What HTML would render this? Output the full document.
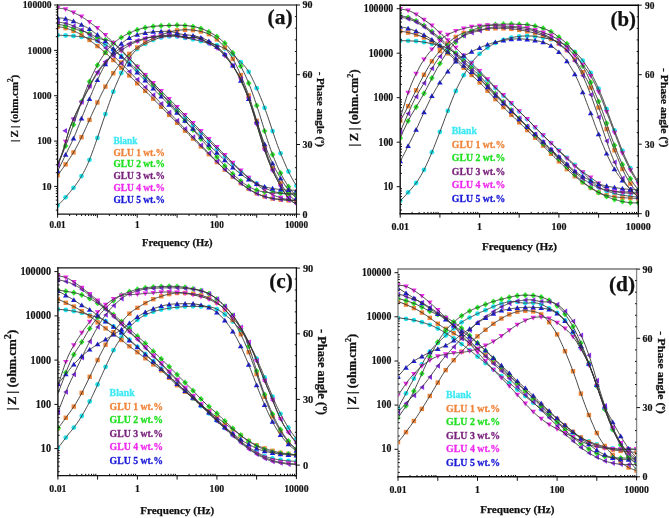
<!DOCTYPE html><html><head><meta charset="utf-8"><style>html,body{margin:0;padding:0;background:#fff;overflow:hidden}svg{display:block;-webkit-font-smoothing:antialiased;will-change:transform}</style></head><body>
<svg width="669" height="518" viewBox="0 0 669 518" font-family='"Liberation Serif", serif' font-weight="bold" fill="#111" stroke-linejoin="round"><defs><clipPath id="clipa"><rect x="57.6" y="5" width="238.9" height="209.2"/></clipPath><clipPath id="clipb"><rect x="400.2" y="5.2" width="238.1" height="208.5"/></clipPath><clipPath id="clipc"><rect x="57.9" y="267.9" width="238.5" height="207.7"/></clipPath><clipPath id="clipd"><rect x="398" y="269" width="238.6" height="207.8"/></clipPath></defs><rect width="669" height="518" fill="#fff"/>
<g clip-path="url(#clipa)">
<circle cx="57.6" cy="35.2" r="2.4" fill="#22e6f0"/>
<circle cx="65.6" cy="35.5" r="2.4" fill="#22e6f0"/>
<circle cx="73.5" cy="36" r="2.4" fill="#22e6f0"/>
<circle cx="81.5" cy="36.9" r="2.4" fill="#22e6f0"/>
<circle cx="89.5" cy="38.4" r="2.4" fill="#22e6f0"/>
<circle cx="97.4" cy="40.9" r="2.4" fill="#22e6f0"/>
<circle cx="105.4" cy="44.7" r="2.4" fill="#22e6f0"/>
<circle cx="113.3" cy="49.8" r="2.4" fill="#22e6f0"/>
<circle cx="121.3" cy="56" r="2.4" fill="#22e6f0"/>
<circle cx="129.3" cy="62.9" r="2.4" fill="#22e6f0"/>
<circle cx="137.2" cy="70.3" r="2.4" fill="#22e6f0"/>
<circle cx="145.2" cy="77.9" r="2.4" fill="#22e6f0"/>
<circle cx="153.2" cy="85.7" r="2.4" fill="#22e6f0"/>
<circle cx="161.1" cy="93.5" r="2.4" fill="#22e6f0"/>
<circle cx="169.1" cy="101.4" r="2.4" fill="#22e6f0"/>
<circle cx="177.1" cy="109.3" r="2.4" fill="#22e6f0"/>
<circle cx="185" cy="117.3" r="2.4" fill="#22e6f0"/>
<circle cx="193" cy="125.2" r="2.4" fill="#22e6f0"/>
<circle cx="200.9" cy="133.1" r="2.4" fill="#22e6f0"/>
<circle cx="208.9" cy="141" r="2.4" fill="#22e6f0"/>
<circle cx="216.9" cy="148.8" r="2.4" fill="#22e6f0"/>
<circle cx="224.8" cy="156.6" r="2.4" fill="#22e6f0"/>
<circle cx="232.8" cy="164.1" r="2.4" fill="#22e6f0"/>
<circle cx="240.8" cy="171.2" r="2.4" fill="#22e6f0"/>
<circle cx="248.7" cy="177.8" r="2.4" fill="#22e6f0"/>
<circle cx="256.7" cy="183.5" r="2.4" fill="#22e6f0"/>
<circle cx="264.6" cy="188" r="2.4" fill="#22e6f0"/>
<circle cx="272.6" cy="191.1" r="2.4" fill="#22e6f0"/>
<circle cx="280.6" cy="193.1" r="2.4" fill="#22e6f0"/>
<circle cx="288.5" cy="194.3" r="2.4" fill="#22e6f0"/>
<circle cx="296.5" cy="194.9" r="2.4" fill="#22e6f0"/>
<circle cx="57.6" cy="205.5" r="2.4" fill="#22e6f0"/>
<circle cx="65.6" cy="197.3" r="2.4" fill="#22e6f0"/>
<circle cx="73.5" cy="187.8" r="2.4" fill="#22e6f0"/>
<circle cx="81.5" cy="176.1" r="2.4" fill="#22e6f0"/>
<circle cx="89.5" cy="159.8" r="2.4" fill="#22e6f0"/>
<circle cx="97.4" cy="137.9" r="2.4" fill="#22e6f0"/>
<circle cx="105.4" cy="114.1" r="2.4" fill="#22e6f0"/>
<circle cx="113.3" cy="91.7" r="2.4" fill="#22e6f0"/>
<circle cx="121.3" cy="73" r="2.4" fill="#22e6f0"/>
<circle cx="129.3" cy="58.4" r="2.4" fill="#22e6f0"/>
<circle cx="137.2" cy="49.1" r="2.4" fill="#22e6f0"/>
<circle cx="145.2" cy="43.9" r="2.4" fill="#22e6f0"/>
<circle cx="153.2" cy="40.1" r="2.4" fill="#22e6f0"/>
<circle cx="161.1" cy="37.5" r="2.4" fill="#22e6f0"/>
<circle cx="169.1" cy="36.4" r="2.4" fill="#22e6f0"/>
<circle cx="177.1" cy="36.5" r="2.4" fill="#22e6f0"/>
<circle cx="185" cy="37.9" r="2.4" fill="#22e6f0"/>
<circle cx="193" cy="39.3" r="2.4" fill="#22e6f0"/>
<circle cx="200.9" cy="41.2" r="2.4" fill="#22e6f0"/>
<circle cx="208.9" cy="43.3" r="2.4" fill="#22e6f0"/>
<circle cx="216.9" cy="45.1" r="2.4" fill="#22e6f0"/>
<circle cx="224.8" cy="48.6" r="2.4" fill="#22e6f0"/>
<circle cx="232.8" cy="54.4" r="2.4" fill="#22e6f0"/>
<circle cx="240.8" cy="62.2" r="2.4" fill="#22e6f0"/>
<circle cx="248.7" cy="71.8" r="2.4" fill="#22e6f0"/>
<circle cx="256.7" cy="88.2" r="2.4" fill="#22e6f0"/>
<circle cx="264.6" cy="107.8" r="2.4" fill="#22e6f0"/>
<circle cx="272.6" cy="131.1" r="2.4" fill="#22e6f0"/>
<circle cx="280.6" cy="153.3" r="2.4" fill="#22e6f0"/>
<circle cx="288.5" cy="171.5" r="2.4" fill="#22e6f0"/>
<circle cx="296.5" cy="185.7" r="2.4" fill="#22e6f0"/>
<rect x="55.4" y="24.5" width="4.4" height="4.4" fill="#f0863a"/>
<rect x="63.4" y="25.9" width="4.4" height="4.4" fill="#f0863a"/>
<rect x="71.3" y="28.6" width="4.4" height="4.4" fill="#f0863a"/>
<rect x="79.3" y="32.6" width="4.4" height="4.4" fill="#f0863a"/>
<rect x="87.3" y="37.8" width="4.4" height="4.4" fill="#f0863a"/>
<rect x="95.2" y="43.9" width="4.4" height="4.4" fill="#f0863a"/>
<rect x="103.2" y="50.6" width="4.4" height="4.4" fill="#f0863a"/>
<rect x="111.1" y="57.9" width="4.4" height="4.4" fill="#f0863a"/>
<rect x="119.1" y="65.5" width="4.4" height="4.4" fill="#f0863a"/>
<rect x="127.1" y="73.3" width="4.4" height="4.4" fill="#f0863a"/>
<rect x="135" y="81.1" width="4.4" height="4.4" fill="#f0863a"/>
<rect x="143" y="88.7" width="4.4" height="4.4" fill="#f0863a"/>
<rect x="151" y="96.5" width="4.4" height="4.4" fill="#f0863a"/>
<rect x="158.9" y="104.6" width="4.4" height="4.4" fill="#f0863a"/>
<rect x="166.9" y="112.7" width="4.4" height="4.4" fill="#f0863a"/>
<rect x="174.9" y="120.6" width="4.4" height="4.4" fill="#f0863a"/>
<rect x="182.8" y="128.5" width="4.4" height="4.4" fill="#f0863a"/>
<rect x="190.8" y="136.4" width="4.4" height="4.4" fill="#f0863a"/>
<rect x="198.7" y="144.2" width="4.4" height="4.4" fill="#f0863a"/>
<rect x="206.7" y="152" width="4.4" height="4.4" fill="#f0863a"/>
<rect x="214.7" y="159.9" width="4.4" height="4.4" fill="#f0863a"/>
<rect x="222.6" y="167.5" width="4.4" height="4.4" fill="#f0863a"/>
<rect x="230.6" y="174.5" width="4.4" height="4.4" fill="#f0863a"/>
<rect x="238.6" y="181" width="4.4" height="4.4" fill="#f0863a"/>
<rect x="246.5" y="186.7" width="4.4" height="4.4" fill="#f0863a"/>
<rect x="254.5" y="191.2" width="4.4" height="4.4" fill="#f0863a"/>
<rect x="262.4" y="194.3" width="4.4" height="4.4" fill="#f0863a"/>
<rect x="270.4" y="196.4" width="4.4" height="4.4" fill="#f0863a"/>
<rect x="278.4" y="197.5" width="4.4" height="4.4" fill="#f0863a"/>
<rect x="286.3" y="198.2" width="4.4" height="4.4" fill="#f0863a"/>
<rect x="294.3" y="198.6" width="4.4" height="4.4" fill="#f0863a"/>
<rect x="55.4" y="173" width="4.4" height="4.4" fill="#f0863a"/>
<rect x="63.4" y="162.2" width="4.4" height="4.4" fill="#f0863a"/>
<rect x="71.3" y="150.2" width="4.4" height="4.4" fill="#f0863a"/>
<rect x="79.3" y="135" width="4.4" height="4.4" fill="#f0863a"/>
<rect x="87.3" y="117.7" width="4.4" height="4.4" fill="#f0863a"/>
<rect x="95.2" y="100.3" width="4.4" height="4.4" fill="#f0863a"/>
<rect x="103.2" y="84.4" width="4.4" height="4.4" fill="#f0863a"/>
<rect x="111.1" y="71" width="4.4" height="4.4" fill="#f0863a"/>
<rect x="119.1" y="60.3" width="4.4" height="4.4" fill="#f0863a"/>
<rect x="127.1" y="51.7" width="4.4" height="4.4" fill="#f0863a"/>
<rect x="135" y="45.3" width="4.4" height="4.4" fill="#f0863a"/>
<rect x="143" y="40.1" width="4.4" height="4.4" fill="#f0863a"/>
<rect x="151" y="36.1" width="4.4" height="4.4" fill="#f0863a"/>
<rect x="158.9" y="33" width="4.4" height="4.4" fill="#f0863a"/>
<rect x="166.9" y="29.8" width="4.4" height="4.4" fill="#f0863a"/>
<rect x="174.9" y="28.3" width="4.4" height="4.4" fill="#f0863a"/>
<rect x="182.8" y="27.6" width="4.4" height="4.4" fill="#f0863a"/>
<rect x="190.8" y="27.9" width="4.4" height="4.4" fill="#f0863a"/>
<rect x="198.7" y="29.3" width="4.4" height="4.4" fill="#f0863a"/>
<rect x="206.7" y="32" width="4.4" height="4.4" fill="#f0863a"/>
<rect x="214.7" y="37.2" width="4.4" height="4.4" fill="#f0863a"/>
<rect x="222.6" y="45.3" width="4.4" height="4.4" fill="#f0863a"/>
<rect x="230.6" y="56.7" width="4.4" height="4.4" fill="#f0863a"/>
<rect x="238.6" y="72.9" width="4.4" height="4.4" fill="#f0863a"/>
<rect x="246.5" y="93.2" width="4.4" height="4.4" fill="#f0863a"/>
<rect x="254.5" y="118.7" width="4.4" height="4.4" fill="#f0863a"/>
<rect x="262.4" y="145.1" width="4.4" height="4.4" fill="#f0863a"/>
<rect x="270.4" y="165.9" width="4.4" height="4.4" fill="#f0863a"/>
<rect x="278.4" y="181.1" width="4.4" height="4.4" fill="#f0863a"/>
<rect x="286.3" y="192.1" width="4.4" height="4.4" fill="#f0863a"/>
<rect x="294.3" y="198.9" width="4.4" height="4.4" fill="#f0863a"/>
<polygon points="57.6,21.2 60.4,24.3 57.6,27.4 54.8,24.3" fill="#2ee62e"/>
<polygon points="65.6,22.7 68.4,25.8 65.6,28.9 62.8,25.8" fill="#2ee62e"/>
<polygon points="73.5,25.2 76.3,28.3 73.5,31.4 70.7,28.3" fill="#2ee62e"/>
<polygon points="81.5,27.7 84.3,30.8 81.5,33.9 78.7,30.8" fill="#2ee62e"/>
<polygon points="89.5,30.5 92.3,33.6 89.5,36.7 86.7,33.6" fill="#2ee62e"/>
<polygon points="97.4,34.5 100.2,37.6 97.4,40.7 94.6,37.6" fill="#2ee62e"/>
<polygon points="105.4,36.7 108.2,39.8 105.4,42.9 102.6,39.8" fill="#2ee62e"/>
<polygon points="113.3,39.9 116.1,43 113.3,46.1 110.5,43" fill="#2ee62e"/>
<polygon points="121.3,46.7 124.1,49.8 121.3,52.9 118.5,49.8" fill="#2ee62e"/>
<polygon points="129.3,55.1 132.1,58.2 129.3,61.3 126.5,58.2" fill="#2ee62e"/>
<polygon points="137.2,63.6 140,66.7 137.2,69.8 134.4,66.7" fill="#2ee62e"/>
<polygon points="145.2,72.4 148,75.5 145.2,78.6 142.4,75.5" fill="#2ee62e"/>
<polygon points="153.2,81.4 156,84.5 153.2,87.6 150.4,84.5" fill="#2ee62e"/>
<polygon points="161.1,90.4 163.9,93.5 161.1,96.6 158.3,93.5" fill="#2ee62e"/>
<polygon points="169.1,99.5 171.9,102.6 169.1,105.7 166.3,102.6" fill="#2ee62e"/>
<polygon points="177.1,108.5 179.9,111.6 177.1,114.7 174.2,111.6" fill="#2ee62e"/>
<polygon points="185,117.6 187.8,120.7 185,123.8 182.2,120.7" fill="#2ee62e"/>
<polygon points="193,126.7 195.8,129.8 193,132.9 190.2,129.8" fill="#2ee62e"/>
<polygon points="200.9,135.7 203.7,138.8 200.9,141.9 198.1,138.8" fill="#2ee62e"/>
<polygon points="208.9,144.7 211.7,147.8 208.9,150.9 206.1,147.8" fill="#2ee62e"/>
<polygon points="216.9,154 219.7,157.1 216.9,160.2 214.1,157.1" fill="#2ee62e"/>
<polygon points="224.8,162.8 227.6,165.9 224.8,169 222,165.9" fill="#2ee62e"/>
<polygon points="232.8,170.8 235.6,173.9 232.8,177 230,173.9" fill="#2ee62e"/>
<polygon points="240.8,177.9 243.6,181 240.8,184.1 238,181" fill="#2ee62e"/>
<polygon points="248.7,183.5 251.5,186.6 248.7,189.7 245.9,186.6" fill="#2ee62e"/>
<polygon points="256.7,187 259.5,190.1 256.7,193.2 253.9,190.1" fill="#2ee62e"/>
<polygon points="264.6,188.9 267.4,192 264.6,195.1 261.8,192" fill="#2ee62e"/>
<polygon points="272.6,189.8 275.4,192.9 272.6,196 269.8,192.9" fill="#2ee62e"/>
<polygon points="280.6,190.1 283.4,193.2 280.6,196.3 277.8,193.2" fill="#2ee62e"/>
<polygon points="288.5,190.2 291.3,193.3 288.5,196.4 285.7,193.3" fill="#2ee62e"/>
<polygon points="296.5,190.3 299.3,193.4 296.5,196.5 293.7,193.4" fill="#2ee62e"/>
<polygon points="57.6,160.9 60.4,164 57.6,167.1 54.8,164" fill="#2ee62e"/>
<polygon points="65.6,142.8 68.4,145.9 65.6,149 62.8,145.9" fill="#2ee62e"/>
<polygon points="73.5,121.6 76.3,124.7 73.5,127.8 70.7,124.7" fill="#2ee62e"/>
<polygon points="81.5,98.6 84.3,101.7 81.5,104.8 78.7,101.7" fill="#2ee62e"/>
<polygon points="89.5,78.4 92.3,81.5 89.5,84.6 86.7,81.5" fill="#2ee62e"/>
<polygon points="97.4,62.1 100.2,65.2 97.4,68.3 94.6,65.2" fill="#2ee62e"/>
<polygon points="105.4,49.4 108.2,52.5 105.4,55.6 102.6,52.5" fill="#2ee62e"/>
<polygon points="113.3,40.3 116.1,43.4 113.3,46.5 110.5,43.4" fill="#2ee62e"/>
<polygon points="121.3,34.4 124.1,37.5 121.3,40.6 118.5,37.5" fill="#2ee62e"/>
<polygon points="129.3,30 132.1,33.1 129.3,36.2 126.5,33.1" fill="#2ee62e"/>
<polygon points="137.2,26.8 140,29.9 137.2,33 134.4,29.9" fill="#2ee62e"/>
<polygon points="145.2,24.6 148,27.7 145.2,30.8 142.4,27.7" fill="#2ee62e"/>
<polygon points="153.2,23.3 156,26.4 153.2,29.5 150.4,26.4" fill="#2ee62e"/>
<polygon points="161.1,22.7 163.9,25.8 161.1,28.9 158.3,25.8" fill="#2ee62e"/>
<polygon points="169.1,22.4 171.9,25.5 169.1,28.6 166.3,25.5" fill="#2ee62e"/>
<polygon points="177.1,22.1 179.9,25.2 177.1,28.3 174.2,25.2" fill="#2ee62e"/>
<polygon points="185,22.4 187.8,25.5 185,28.6 182.2,25.5" fill="#2ee62e"/>
<polygon points="193,23.4 195.8,26.5 193,29.6 190.2,26.5" fill="#2ee62e"/>
<polygon points="200.9,25.4 203.7,28.5 200.9,31.6 198.1,28.5" fill="#2ee62e"/>
<polygon points="208.9,28.8 211.7,31.9 208.9,35 206.1,31.9" fill="#2ee62e"/>
<polygon points="216.9,33.5 219.7,36.6 216.9,39.7 214.1,36.6" fill="#2ee62e"/>
<polygon points="224.8,40.1 227.6,43.2 224.8,46.3 222,43.2" fill="#2ee62e"/>
<polygon points="232.8,49.7 235.6,52.8 232.8,55.9 230,52.8" fill="#2ee62e"/>
<polygon points="240.8,63.1 243.6,66.2 240.8,69.3 238,66.2" fill="#2ee62e"/>
<polygon points="248.7,80.1 251.5,83.2 248.7,86.3 245.9,83.2" fill="#2ee62e"/>
<polygon points="256.7,102.4 259.5,105.5 256.7,108.6 253.9,105.5" fill="#2ee62e"/>
<polygon points="264.6,127.9 267.4,131 264.6,134.1 261.8,131" fill="#2ee62e"/>
<polygon points="272.6,151.5 275.4,154.6 272.6,157.7 269.8,154.6" fill="#2ee62e"/>
<polygon points="280.6,170 283.4,173.1 280.6,176.2 277.8,173.1" fill="#2ee62e"/>
<polygon points="288.5,183.6 291.3,186.7 288.5,189.8 285.7,186.7" fill="#2ee62e"/>
<polygon points="296.5,192.7 299.3,195.8 296.5,198.9 293.7,195.8" fill="#2ee62e"/>
<polygon points="54.8,6.1 60.4,6.1 57.6,10.8" fill="#f02ef0"/>
<polygon points="62.8,7.2 68.4,7.2 65.6,11.9" fill="#f02ef0"/>
<polygon points="70.7,10.6 76.3,10.6 73.5,15.3" fill="#f02ef0"/>
<polygon points="78.7,14.6 84.3,14.6 81.5,19.3" fill="#f02ef0"/>
<polygon points="86.7,20 92.3,20 89.5,24.7" fill="#f02ef0"/>
<polygon points="94.6,26.1 100.2,26.1 97.4,30.8" fill="#f02ef0"/>
<polygon points="102.6,33.1 108.2,33.1 105.4,37.8" fill="#f02ef0"/>
<polygon points="110.5,40.8 116.1,40.8 113.3,45.5" fill="#f02ef0"/>
<polygon points="118.5,48.8 124.1,48.8 121.3,53.5" fill="#f02ef0"/>
<polygon points="126.5,56.7 132.1,56.7 129.3,61.4" fill="#f02ef0"/>
<polygon points="134.4,64.7 140,64.7 137.2,69.4" fill="#f02ef0"/>
<polygon points="142.4,72.9 148,72.9 145.2,77.6" fill="#f02ef0"/>
<polygon points="150.4,81.1 156,81.1 153.2,85.8" fill="#f02ef0"/>
<polygon points="158.3,89 163.9,89 161.1,93.7" fill="#f02ef0"/>
<polygon points="166.3,96.9 171.9,96.9 169.1,101.6" fill="#f02ef0"/>
<polygon points="174.2,104.9 179.9,104.9 177.1,109.6" fill="#f02ef0"/>
<polygon points="182.2,113 187.8,113 185,117.7" fill="#f02ef0"/>
<polygon points="190.2,121.1 195.8,121.1 193,125.8" fill="#f02ef0"/>
<polygon points="198.1,129.1 203.7,129.1 200.9,133.8" fill="#f02ef0"/>
<polygon points="206.1,137.1 211.7,137.1 208.9,141.8" fill="#f02ef0"/>
<polygon points="214.1,145 219.7,145 216.9,149.7" fill="#f02ef0"/>
<polygon points="222,152.9 227.6,152.9 224.8,157.6" fill="#f02ef0"/>
<polygon points="230,160.8 235.6,160.8 232.8,165.5" fill="#f02ef0"/>
<polygon points="238,168.5 243.6,168.5 240.8,173.2" fill="#f02ef0"/>
<polygon points="245.9,175.8 251.5,175.8 248.7,180.5" fill="#f02ef0"/>
<polygon points="253.9,182.5 259.5,182.5 256.7,187.2" fill="#f02ef0"/>
<polygon points="261.8,188.2 267.4,188.2 264.6,192.9" fill="#f02ef0"/>
<polygon points="269.8,192.7 275.4,192.7 272.6,197.4" fill="#f02ef0"/>
<polygon points="277.8,195.8 283.4,195.8 280.6,200.5" fill="#f02ef0"/>
<polygon points="285.7,197.7 291.3,197.7 288.5,202.4" fill="#f02ef0"/>
<polygon points="293.7,198.8 299.3,198.8 296.5,203.5" fill="#f02ef0"/>
<polygon points="54.8,161.7 60.4,161.7 57.6,166.4" fill="#f02ef0"/>
<polygon points="62.8,139.7 68.4,139.7 65.6,144.4" fill="#f02ef0"/>
<polygon points="70.7,117.4 76.3,117.4 73.5,122.1" fill="#f02ef0"/>
<polygon points="78.7,100.8 84.3,100.8 81.5,105.5" fill="#f02ef0"/>
<polygon points="86.7,85 92.3,85 89.5,89.7" fill="#f02ef0"/>
<polygon points="94.6,71.2 100.2,71.2 97.4,75.9" fill="#f02ef0"/>
<polygon points="102.6,60.9 108.2,60.9 105.4,65.6" fill="#f02ef0"/>
<polygon points="110.5,53.5 116.1,53.5 113.3,58.2" fill="#f02ef0"/>
<polygon points="118.5,48.3 124.1,48.3 121.3,53" fill="#f02ef0"/>
<polygon points="126.5,43.2 132.1,43.2 129.3,47.9" fill="#f02ef0"/>
<polygon points="134.4,39.6 140,39.6 137.2,44.3" fill="#f02ef0"/>
<polygon points="142.4,36.8 148,36.8 145.2,41.5" fill="#f02ef0"/>
<polygon points="150.4,35.2 156,35.2 153.2,39.9" fill="#f02ef0"/>
<polygon points="158.3,34.6 163.9,34.6 161.1,39.3" fill="#f02ef0"/>
<polygon points="166.3,33.5 171.9,33.5 169.1,38.2" fill="#f02ef0"/>
<polygon points="174.2,33.7 179.9,33.7 177.1,38.4" fill="#f02ef0"/>
<polygon points="182.2,35 187.8,35 185,39.7" fill="#f02ef0"/>
<polygon points="190.2,35.5 195.8,35.5 193,40.2" fill="#f02ef0"/>
<polygon points="198.1,37.1 203.7,37.1 200.9,41.8" fill="#f02ef0"/>
<polygon points="206.1,41.1 211.7,41.1 208.9,45.8" fill="#f02ef0"/>
<polygon points="214.1,46 219.7,46 216.9,50.7" fill="#f02ef0"/>
<polygon points="222,53.7 227.6,53.7 224.8,58.4" fill="#f02ef0"/>
<polygon points="230,64 235.6,64 232.8,68.7" fill="#f02ef0"/>
<polygon points="238,77.2 243.6,77.2 240.8,81.9" fill="#f02ef0"/>
<polygon points="245.9,96.8 251.5,96.8 248.7,101.5" fill="#f02ef0"/>
<polygon points="253.9,122.1 259.5,122.1 256.7,126.8" fill="#f02ef0"/>
<polygon points="261.8,147.8 267.4,147.8 264.6,152.5" fill="#f02ef0"/>
<polygon points="269.8,168.5 275.4,168.5 272.6,173.2" fill="#f02ef0"/>
<polygon points="277.8,184.2 283.4,184.2 280.6,188.9" fill="#f02ef0"/>
<polygon points="285.7,196.1 291.3,196.1 288.5,200.8" fill="#f02ef0"/>
<polygon points="293.7,202 299.3,202 296.5,206.7" fill="#f02ef0"/>
<polygon points="55.1,22.1 59.8,19.3 59.8,24.9" fill="#8a2ee8"/>
<polygon points="63.1,23.3 67.8,20.5 67.8,26.1" fill="#8a2ee8"/>
<polygon points="71,26 75.7,23.2 75.7,28.8" fill="#8a2ee8"/>
<polygon points="79,29.8 83.7,27 83.7,32.6" fill="#8a2ee8"/>
<polygon points="87,34.7 91.7,31.9 91.7,37.5" fill="#8a2ee8"/>
<polygon points="94.9,40.9 99.6,38.1 99.6,43.7" fill="#8a2ee8"/>
<polygon points="102.9,48 107.6,45.2 107.6,50.8" fill="#8a2ee8"/>
<polygon points="110.8,55.6 115.5,52.8 115.5,58.4" fill="#8a2ee8"/>
<polygon points="118.8,63.5 123.5,60.7 123.5,66.3" fill="#8a2ee8"/>
<polygon points="126.8,71.5 131.5,68.7 131.5,74.3" fill="#8a2ee8"/>
<polygon points="134.7,79.6 139.4,76.8 139.4,82.4" fill="#8a2ee8"/>
<polygon points="142.7,87.3 147.4,84.5 147.4,90.1" fill="#8a2ee8"/>
<polygon points="150.7,95.1 155.4,92.3 155.4,97.9" fill="#8a2ee8"/>
<polygon points="158.6,103.7 163.3,100.9 163.3,106.5" fill="#8a2ee8"/>
<polygon points="166.6,112.4 171.3,109.6 171.3,115.2" fill="#8a2ee8"/>
<polygon points="174.6,120.6 179.2,117.8 179.2,123.4" fill="#8a2ee8"/>
<polygon points="182.5,128.8 187.2,126 187.2,131.6" fill="#8a2ee8"/>
<polygon points="190.5,137 195.2,134.2 195.2,139.8" fill="#8a2ee8"/>
<polygon points="198.4,145.2 203.1,142.4 203.1,148" fill="#8a2ee8"/>
<polygon points="206.4,153.3 211.1,150.5 211.1,156.1" fill="#8a2ee8"/>
<polygon points="214.4,161.6 219.1,158.8 219.1,164.4" fill="#8a2ee8"/>
<polygon points="222.3,169.6 227,166.8 227,172.4" fill="#8a2ee8"/>
<polygon points="230.3,176.8 235,174 235,179.6" fill="#8a2ee8"/>
<polygon points="238.3,183.4 243,180.6 243,186.2" fill="#8a2ee8"/>
<polygon points="246.2,189.2 250.9,186.4 250.9,192" fill="#8a2ee8"/>
<polygon points="254.2,193.6 258.9,190.8 258.9,196.4" fill="#8a2ee8"/>
<polygon points="262.1,196.6 266.8,193.8 266.8,199.4" fill="#8a2ee8"/>
<polygon points="270.1,198.4 274.8,195.6 274.8,201.2" fill="#8a2ee8"/>
<polygon points="278.1,199.4 282.8,196.6 282.8,202.2" fill="#8a2ee8"/>
<polygon points="286,199.9 290.7,197.1 290.7,202.7" fill="#8a2ee8"/>
<polygon points="294,200.2 298.7,197.4 298.7,203" fill="#8a2ee8"/>
<polygon points="55.1,165.3 59.8,162.5 59.8,168.1" fill="#8a2ee8"/>
<polygon points="62.3,130.7 67,127.9 67,133.5" fill="#8a2ee8"/>
<polygon points="71,118.7 75.7,115.9 75.7,121.5" fill="#8a2ee8"/>
<polygon points="79,101.9 83.7,99.1 83.7,104.7" fill="#8a2ee8"/>
<polygon points="87,86 91.7,83.2 91.7,88.8" fill="#8a2ee8"/>
<polygon points="94.9,72.1 99.6,69.3 99.6,74.9" fill="#8a2ee8"/>
<polygon points="102.9,61.6 107.6,58.8 107.6,64.4" fill="#8a2ee8"/>
<polygon points="110.8,53.7 115.5,50.9 115.5,56.5" fill="#8a2ee8"/>
<polygon points="118.8,47.9 123.5,45.1 123.5,50.7" fill="#8a2ee8"/>
<polygon points="126.8,43.6 131.5,40.8 131.5,46.4" fill="#8a2ee8"/>
<polygon points="134.7,40.6 139.4,37.8 139.4,43.4" fill="#8a2ee8"/>
<polygon points="142.7,38.2 147.4,35.4 147.4,41" fill="#8a2ee8"/>
<polygon points="150.7,36.6 155.4,33.8 155.4,39.4" fill="#8a2ee8"/>
<polygon points="158.6,35.8 163.3,33 163.3,38.6" fill="#8a2ee8"/>
<polygon points="166.6,35.1 171.3,32.3 171.3,37.9" fill="#8a2ee8"/>
<polygon points="174.6,35.6 179.2,32.8 179.2,38.4" fill="#8a2ee8"/>
<polygon points="182.5,37.1 187.2,34.3 187.2,39.9" fill="#8a2ee8"/>
<polygon points="190.5,37.7 195.2,34.9 195.2,40.5" fill="#8a2ee8"/>
<polygon points="198.4,39.2 203.1,36.4 203.1,42" fill="#8a2ee8"/>
<polygon points="206.4,43.4 211.1,40.6 211.1,46.2" fill="#8a2ee8"/>
<polygon points="214.4,48.1 219.1,45.3 219.1,50.9" fill="#8a2ee8"/>
<polygon points="222.3,55.6 227,52.8 227,58.4" fill="#8a2ee8"/>
<polygon points="230.3,65.8 235,63 235,68.6" fill="#8a2ee8"/>
<polygon points="238.3,79.1 243,76.3 243,81.9" fill="#8a2ee8"/>
<polygon points="246.2,98.8 250.9,96 250.9,101.6" fill="#8a2ee8"/>
<polygon points="254.2,124.4 258.9,121.6 258.9,127.2" fill="#8a2ee8"/>
<polygon points="262.1,150.1 266.8,147.3 266.8,152.9" fill="#8a2ee8"/>
<polygon points="270.1,170.6 274.8,167.8 274.8,173.4" fill="#8a2ee8"/>
<polygon points="278.1,186.1 282.8,183.3 282.8,188.9" fill="#8a2ee8"/>
<polygon points="286,198 290.7,195.2 290.7,200.8" fill="#8a2ee8"/>
<polygon points="294,203.9 298.7,201.1 298.7,206.7" fill="#8a2ee8"/>
<polygon points="54.8,19.8 60.4,19.8 57.6,15.1" fill="#1c1ce0"/>
<polygon points="62.8,20.7 68.4,20.7 65.6,16" fill="#1c1ce0"/>
<polygon points="70.7,23.3 76.3,23.3 73.5,18.6" fill="#1c1ce0"/>
<polygon points="78.7,26.8 84.3,26.8 81.5,22.1" fill="#1c1ce0"/>
<polygon points="86.7,31.1 92.3,31.1 89.5,26.4" fill="#1c1ce0"/>
<polygon points="94.6,36.8 100.2,36.8 97.4,32.1" fill="#1c1ce0"/>
<polygon points="102.6,43.2 108.2,43.2 105.4,38.5" fill="#1c1ce0"/>
<polygon points="110.5,50.7 116.1,50.7 113.3,46" fill="#1c1ce0"/>
<polygon points="118.5,58.7 124.1,58.7 121.3,54" fill="#1c1ce0"/>
<polygon points="126.5,66.5 132.1,66.5 129.3,61.8" fill="#1c1ce0"/>
<polygon points="134.4,74.5 140,74.5 137.2,69.8" fill="#1c1ce0"/>
<polygon points="142.4,82.5 148,82.5 145.2,77.8" fill="#1c1ce0"/>
<polygon points="150.4,90.6 156,90.6 153.2,85.9" fill="#1c1ce0"/>
<polygon points="158.3,98.6 163.9,98.6 161.1,93.9" fill="#1c1ce0"/>
<polygon points="166.3,106.7 171.9,106.7 169.1,102" fill="#1c1ce0"/>
<polygon points="174.2,114.7 179.9,114.7 177.1,110" fill="#1c1ce0"/>
<polygon points="182.2,122.8 187.8,122.8 185,118.1" fill="#1c1ce0"/>
<polygon points="190.2,130.8 195.8,130.8 193,126.1" fill="#1c1ce0"/>
<polygon points="198.1,138.8 203.7,138.8 200.9,134.1" fill="#1c1ce0"/>
<polygon points="206.1,146.8 211.7,146.8 208.9,142.1" fill="#1c1ce0"/>
<polygon points="214.1,154.7 219.7,154.7 216.9,150" fill="#1c1ce0"/>
<polygon points="222,162.3 227.6,162.3 224.8,157.6" fill="#1c1ce0"/>
<polygon points="230,169.5 235.6,169.5 232.8,164.8" fill="#1c1ce0"/>
<polygon points="238,176.1 243.6,176.1 240.8,171.4" fill="#1c1ce0"/>
<polygon points="245.9,181.6 251.5,181.6 248.7,176.9" fill="#1c1ce0"/>
<polygon points="253.9,185.9 259.5,185.9 256.7,181.2" fill="#1c1ce0"/>
<polygon points="261.8,188.7 267.4,188.7 264.6,184" fill="#1c1ce0"/>
<polygon points="269.8,190.5 275.4,190.5 272.6,185.8" fill="#1c1ce0"/>
<polygon points="277.8,191.5 283.4,191.5 280.6,186.8" fill="#1c1ce0"/>
<polygon points="285.7,192 291.3,192 288.5,187.3" fill="#1c1ce0"/>
<polygon points="293.7,192.4 299.3,192.4 296.5,187.7" fill="#1c1ce0"/>
<polygon points="54.8,173 60.4,173 57.6,168.3" fill="#1c1ce0"/>
<polygon points="62.8,156.8 68.4,156.8 65.6,152.1" fill="#1c1ce0"/>
<polygon points="70.7,140.4 76.3,140.4 73.5,135.7" fill="#1c1ce0"/>
<polygon points="78.7,120.4 84.3,120.4 81.5,115.7" fill="#1c1ce0"/>
<polygon points="86.7,100.9 92.3,100.9 89.5,96.2" fill="#1c1ce0"/>
<polygon points="94.6,82.1 100.2,82.1 97.4,77.4" fill="#1c1ce0"/>
<polygon points="102.6,66.2 108.2,66.2 105.4,61.5" fill="#1c1ce0"/>
<polygon points="110.5,54.4 116.1,54.4 113.3,49.7" fill="#1c1ce0"/>
<polygon points="118.5,45.7 124.1,45.7 121.3,41" fill="#1c1ce0"/>
<polygon points="126.5,40 132.1,40 129.3,35.3" fill="#1c1ce0"/>
<polygon points="134.4,36.7 140,36.7 137.2,32" fill="#1c1ce0"/>
<polygon points="142.4,34.9 148,34.9 145.2,30.2" fill="#1c1ce0"/>
<polygon points="150.4,33.8 156,33.8 153.2,29.1" fill="#1c1ce0"/>
<polygon points="158.3,33.4 163.9,33.4 161.1,28.7" fill="#1c1ce0"/>
<polygon points="166.3,33.4 171.9,33.4 169.1,28.7" fill="#1c1ce0"/>
<polygon points="174.2,35.2 179.9,35.2 177.1,30.5" fill="#1c1ce0"/>
<polygon points="182.2,36.7 187.8,36.7 185,32" fill="#1c1ce0"/>
<polygon points="190.2,37.7 195.8,37.7 193,33" fill="#1c1ce0"/>
<polygon points="198.1,39.7 203.7,39.7 200.9,35" fill="#1c1ce0"/>
<polygon points="206.1,43.1 211.7,43.1 208.9,38.4" fill="#1c1ce0"/>
<polygon points="214.1,48.7 219.7,48.7 216.9,44" fill="#1c1ce0"/>
<polygon points="222,56.2 227.6,56.2 224.8,51.5" fill="#1c1ce0"/>
<polygon points="230,67.5 235.6,67.5 232.8,62.8" fill="#1c1ce0"/>
<polygon points="238,82.8 243.6,82.8 240.8,78.1" fill="#1c1ce0"/>
<polygon points="245.9,101.1 251.5,101.1 248.7,96.4" fill="#1c1ce0"/>
<polygon points="253.9,123.4 259.5,123.4 256.7,118.7" fill="#1c1ce0"/>
<polygon points="261.8,146.3 267.4,146.3 264.6,141.6" fill="#1c1ce0"/>
<polygon points="269.8,165.5 275.4,165.5 272.6,160.8" fill="#1c1ce0"/>
<polygon points="277.8,180.4 283.4,180.4 280.6,175.7" fill="#1c1ce0"/>
<polygon points="285.7,192 291.3,192 288.5,187.3" fill="#1c1ce0"/>
<polygon points="293.7,200 299.3,200 296.5,195.3" fill="#1c1ce0"/>
<g fill="none" stroke="#333" stroke-width="0.9"><polyline points="57.6,35.2 58.6,35.2 59.6,35.3 60.6,35.3 61.6,35.3 62.6,35.4 63.6,35.4 64.6,35.5 65.6,35.5 66.6,35.6 67.6,35.6 68.5,35.7 69.5,35.7 70.5,35.8 71.5,35.9 72.5,35.9 73.5,36 74.5,36.1 75.5,36.2 76.5,36.3 77.5,36.4 78.5,36.5 79.5,36.6 80.5,36.7 81.5,36.9 82.5,37 83.5,37.2 84.5,37.3 85.5,37.5 86.5,37.7 87.5,37.9 88.5,38.2 89.5,38.4 90.4,38.7 91.4,38.9 92.4,39.2 93.4,39.5 94.4,39.8 95.4,40.2 96.4,40.5 97.4,40.9 98.4,41.3 99.4,41.7 100.4,42.2 101.4,42.6 102.4,43.1 103.4,43.6 104.4,44.2 105.4,44.7 106.4,45.3 107.4,45.9 108.4,46.5 109.4,47.1 110.4,47.7 111.4,48.4 112.3,49.1 113.3,49.8 114.3,50.5 115.3,51.3 116.3,52 117.3,52.8 118.3,53.6 119.3,54.3 120.3,55.2 121.3,56 122.3,56.8 123.3,57.6 124.3,58.5 125.3,59.4 126.3,60.2 127.3,61.1 128.3,62 129.3,62.9 130.3,63.8 131.3,64.7 132.3,65.6 133.3,66.5 134.2,67.5 135.2,68.4 136.2,69.3 137.2,70.3 138.2,71.2 139.2,72.2 140.2,73.1 141.2,74.1 142.2,75 143.2,76 144.2,76.9 145.2,77.9 146.2,78.9 147.2,79.8 148.2,80.8 149.2,81.8 150.2,82.7 151.2,83.7 152.2,84.7 153.2,85.7 154.2,86.7 155.2,87.6 156.1,88.6 157.1,89.6 158.1,90.6 159.1,91.6 160.1,92.5 161.1,93.5 162.1,94.5 163.1,95.5 164.1,96.5 165.1,97.5 166.1,98.5 167.1,99.4 168.1,100.4 169.1,101.4 170.1,102.4 171.1,103.4 172.1,104.4 173.1,105.4 174.1,106.4 175.1,107.4 176.1,108.3 177.1,109.3 178,110.3 179,111.3 180,112.3 181,113.3 182,114.3 183,115.3 184,116.3 185,117.3 186,118.3 187,119.2 188,120.2 189,121.2 190,122.2 191,123.2 192,124.2 193,125.2 194,126.2 195,127.2 196,128.2 197,129.1 198,130.1 198.9,131.1 199.9,132.1 200.9,133.1 201.9,134.1 202.9,135.1 203.9,136.1 204.9,137 205.9,138 206.9,139 207.9,140 208.9,141 209.9,142 210.9,142.9 211.9,143.9 212.9,144.9 213.9,145.9 214.9,146.9 215.9,147.9 216.9,148.8 217.9,149.8 218.9,150.8 219.9,151.8 220.8,152.7 221.8,153.7 222.8,154.7 223.8,155.6 224.8,156.6 225.8,157.5 226.8,158.5 227.8,159.4 228.8,160.4 229.8,161.3 230.8,162.2 231.8,163.1 232.8,164.1 233.8,165 234.8,165.9 235.8,166.8 236.8,167.7 237.8,168.6 238.8,169.5 239.8,170.3 240.8,171.2 241.8,172.1 242.7,172.9 243.7,173.8 244.7,174.6 245.7,175.4 246.7,176.2 247.7,177 248.7,177.8 249.7,178.6 250.7,179.3 251.7,180.1 252.7,180.8 253.7,181.5 254.7,182.2 255.7,182.9 256.7,183.5 257.7,184.1 258.7,184.8 259.7,185.3 260.7,185.9 261.7,186.5 262.7,187 263.7,187.5 264.6,188 265.6,188.5 266.6,188.9 267.6,189.3 268.6,189.7 269.6,190.1 270.6,190.5 271.6,190.8 272.6,191.1 273.6,191.4 274.6,191.7 275.6,192 276.6,192.2 277.6,192.5 278.6,192.7 279.6,192.9 280.6,193.1 281.6,193.3 282.6,193.5 283.6,193.7 284.6,193.8 285.6,193.9 286.5,194.1 287.5,194.2 288.5,194.3 289.5,194.4 290.5,194.5 291.5,194.6 292.5,194.6 293.5,194.7 294.5,194.8 295.5,194.8 296.5,194.9"/><polyline points="57.6,205.5 58.6,204.6 59.6,203.7 60.6,202.7 61.6,201.7 62.6,200.6 63.6,199.5 64.6,198.4 65.6,197.3 66.6,196.1 67.6,194.9 68.5,193.8 69.5,192.6 70.5,191.4 71.5,190.2 72.5,189 73.5,187.8 74.5,186.5 75.5,185.2 76.5,183.8 77.5,182.4 78.5,180.9 79.5,179.4 80.5,177.8 81.5,176.1 82.5,174.4 83.5,172.6 84.5,170.7 85.5,168.7 86.5,166.7 87.5,164.5 88.5,162.2 89.5,159.8 90.4,157.4 91.4,154.8 92.4,152.1 93.4,149.4 94.4,146.6 95.4,143.7 96.4,140.8 97.4,137.9 98.4,135 99.4,132 100.4,129 101.4,126 102.4,123 103.4,120.1 104.4,117.1 105.4,114.1 106.4,111.2 107.4,108.3 108.4,105.4 109.4,102.6 110.4,99.8 111.4,97 112.3,94.3 113.3,91.7 114.3,89.1 115.3,86.6 116.3,84.2 117.3,81.9 118.3,79.6 119.3,77.4 120.3,75.2 121.3,73 122.3,71 123.3,68.9 124.3,67 125.3,65.1 126.3,63.3 127.3,61.6 128.3,60 129.3,58.4 130.3,57 131.3,55.6 132.3,54.3 133.3,53.1 134.2,52 135.2,50.9 136.2,50 137.2,49.1 138.2,48.3 139.2,47.5 140.2,46.8 141.2,46.2 142.2,45.6 143.2,45 144.2,44.5 145.2,43.9 146.2,43.4 147.2,42.9 148.2,42.4 149.2,41.9 150.2,41.5 151.2,41 152.2,40.6 153.2,40.1 154.2,39.7 155.2,39.3 156.1,39 157.1,38.6 158.1,38.3 159.1,38 160.1,37.7 161.1,37.5 162.1,37.3 163.1,37.1 164.1,36.9 165.1,36.8 166.1,36.7 167.1,36.6 168.1,36.5 169.1,36.4 170.1,36.4 171.1,36.3 172.1,36.3 173.1,36.3 174.1,36.3 175.1,36.3 176.1,36.4 177.1,36.5 178,36.6 179,36.8 180,36.9 181,37.1 182,37.3 183,37.5 184,37.7 185,37.9 186,38.1 187,38.2 188,38.4 189,38.6 190,38.7 191,38.9 192,39.1 193,39.3 194,39.5 195,39.7 196,40 197,40.2 198,40.4 198.9,40.7 199.9,41 200.9,41.2 201.9,41.5 202.9,41.8 203.9,42.1 204.9,42.4 205.9,42.6 206.9,42.9 207.9,43.1 208.9,43.3 209.9,43.5 210.9,43.6 211.9,43.8 212.9,44 213.9,44.2 214.9,44.5 215.9,44.7 216.9,45.1 217.9,45.4 218.9,45.8 219.9,46.2 220.8,46.7 221.8,47.1 222.8,47.6 223.8,48.1 224.8,48.6 225.8,49.1 226.8,49.6 227.8,50.2 228.8,50.9 229.8,51.6 230.8,52.5 231.8,53.4 232.8,54.4 233.8,55.4 234.8,56.4 235.8,57.4 236.8,58.3 237.8,59.3 238.8,60.3 239.8,61.2 240.8,62.2 241.8,63.1 242.7,64.1 243.7,65.1 244.7,66.2 245.7,67.4 246.7,68.8 247.7,70.2 248.7,71.8 249.7,73.5 250.7,75.4 251.7,77.3 252.7,79.4 253.7,81.5 254.7,83.6 255.7,85.9 256.7,88.2 257.7,90.5 258.7,92.8 259.7,95.2 260.7,97.6 261.7,100.1 262.7,102.6 263.7,105.2 264.6,107.8 265.6,110.6 266.6,113.4 267.6,116.2 268.6,119.1 269.6,122 270.6,125 271.6,128.1 272.6,131.1 273.6,134.1 274.6,137.1 275.6,139.9 276.6,142.8 277.6,145.5 278.6,148.2 279.6,150.8 280.6,153.3 281.6,155.8 282.6,158.2 283.6,160.6 284.6,162.9 285.6,165.1 286.5,167.3 287.5,169.4 288.5,171.5 289.5,173.5 290.5,175.5 291.5,177.4 292.5,179.2 293.5,181 294.5,182.6 295.5,184.2 296.5,185.7"/><polyline points="57.6,26.7 58.6,26.8 59.6,26.9 60.6,27.1 61.6,27.2 62.6,27.4 63.6,27.6 64.6,27.8 65.6,28.1 66.6,28.3 67.6,28.6 68.5,29 69.5,29.3 70.5,29.7 71.5,30 72.5,30.4 73.5,30.8 74.5,31.3 75.5,31.7 76.5,32.2 77.5,32.7 78.5,33.2 79.5,33.7 80.5,34.3 81.5,34.8 82.5,35.4 83.5,36 84.5,36.6 85.5,37.3 86.5,38 87.5,38.6 88.5,39.3 89.5,40 90.4,40.8 91.4,41.5 92.4,42.3 93.4,43 94.4,43.8 95.4,44.5 96.4,45.3 97.4,46.1 98.4,46.9 99.4,47.7 100.4,48.5 101.4,49.3 102.4,50.2 103.4,51 104.4,51.9 105.4,52.8 106.4,53.7 107.4,54.6 108.4,55.5 109.4,56.4 110.4,57.3 111.4,58.3 112.3,59.2 113.3,60.1 114.3,61.1 115.3,62 116.3,63 117.3,63.9 118.3,64.9 119.3,65.8 120.3,66.8 121.3,67.7 122.3,68.7 123.3,69.7 124.3,70.6 125.3,71.6 126.3,72.6 127.3,73.5 128.3,74.5 129.3,75.5 130.3,76.5 131.3,77.4 132.3,78.4 133.3,79.4 134.2,80.4 135.2,81.3 136.2,82.3 137.2,83.3 138.2,84.3 139.2,85.2 140.2,86.2 141.2,87.2 142.2,88.1 143.2,89.1 144.2,90 145.2,90.9 146.2,91.9 147.2,92.8 148.2,93.8 149.2,94.8 150.2,95.7 151.2,96.7 152.2,97.7 153.2,98.7 154.2,99.7 155.2,100.7 156.1,101.7 157.1,102.7 158.1,103.7 159.1,104.7 160.1,105.7 161.1,106.8 162.1,107.8 163.1,108.8 164.1,109.8 165.1,110.9 166.1,111.9 167.1,112.9 168.1,113.9 169.1,114.9 170.1,115.9 171.1,116.9 172.1,117.9 173.1,118.8 174.1,119.8 175.1,120.8 176.1,121.8 177.1,122.8 178,123.8 179,124.8 180,125.8 181,126.8 182,127.7 183,128.7 184,129.7 185,130.7 186,131.7 187,132.7 188,133.7 189,134.7 190,135.6 191,136.6 192,137.6 193,138.6 194,139.6 195,140.6 196,141.5 197,142.5 198,143.5 198.9,144.5 199.9,145.5 200.9,146.4 201.9,147.4 202.9,148.4 203.9,149.4 204.9,150.4 205.9,151.3 206.9,152.3 207.9,153.3 208.9,154.2 209.9,155.2 210.9,156.2 211.9,157.2 212.9,158.2 213.9,159.2 214.9,160.1 215.9,161.1 216.9,162.1 217.9,163.1 218.9,164 219.9,165 220.8,165.9 221.8,166.9 222.8,167.8 223.8,168.7 224.8,169.7 225.8,170.6 226.8,171.5 227.8,172.4 228.8,173.3 229.8,174.1 230.8,175 231.8,175.9 232.8,176.7 233.8,177.5 234.8,178.4 235.8,179.2 236.8,180 237.8,180.8 238.8,181.6 239.8,182.4 240.8,183.2 241.8,183.9 242.7,184.7 243.7,185.4 244.7,186.2 245.7,186.9 246.7,187.6 247.7,188.2 248.7,188.9 249.7,189.5 250.7,190.1 251.7,190.7 252.7,191.3 253.7,191.8 254.7,192.4 255.7,192.9 256.7,193.4 257.7,193.8 258.7,194.3 259.7,194.7 260.7,195.1 261.7,195.5 262.7,195.9 263.7,196.2 264.6,196.5 265.6,196.8 266.6,197.1 267.6,197.4 268.6,197.7 269.6,197.9 270.6,198.1 271.6,198.4 272.6,198.6 273.6,198.7 274.6,198.9 275.6,199.1 276.6,199.2 277.6,199.4 278.6,199.5 279.6,199.6 280.6,199.7 281.6,199.9 282.6,200 283.6,200 284.6,200.1 285.6,200.2 286.5,200.3 287.5,200.4 288.5,200.4 289.5,200.5 290.5,200.5 291.5,200.6 292.5,200.7 293.5,200.7 294.5,200.7 295.5,200.8 296.5,200.8"/><polyline points="57.6,175.2 58.6,174 59.6,172.6 60.6,171.3 61.6,169.9 62.6,168.6 63.6,167.2 64.6,165.8 65.6,164.4 66.6,163 67.6,161.5 68.5,160.1 69.5,158.7 70.5,157.2 71.5,155.6 72.5,154.1 73.5,152.4 74.5,150.7 75.5,148.9 76.5,147.1 77.5,145.2 78.5,143.3 79.5,141.3 80.5,139.3 81.5,137.2 82.5,135.1 83.5,133 84.5,130.9 85.5,128.7 86.5,126.5 87.5,124.3 88.5,122.1 89.5,119.9 90.4,117.7 91.4,115.5 92.4,113.3 93.4,111.1 94.4,109 95.4,106.8 96.4,104.7 97.4,102.5 98.4,100.4 99.4,98.4 100.4,96.3 101.4,94.3 102.4,92.3 103.4,90.4 104.4,88.5 105.4,86.6 106.4,84.8 107.4,83 108.4,81.2 109.4,79.5 110.4,77.9 111.4,76.3 112.3,74.7 113.3,73.2 114.3,71.7 115.3,70.2 116.3,68.8 117.3,67.5 118.3,66.2 119.3,64.9 120.3,63.7 121.3,62.5 122.3,61.3 123.3,60.2 124.3,59.1 125.3,58 126.3,56.9 127.3,55.9 128.3,54.9 129.3,53.9 130.3,53 131.3,52.2 132.3,51.3 133.3,50.5 134.2,49.7 135.2,49 136.2,48.2 137.2,47.5 138.2,46.8 139.2,46.1 140.2,45.4 141.2,44.8 142.2,44.1 143.2,43.5 144.2,42.9 145.2,42.3 146.2,41.8 147.2,41.2 148.2,40.7 149.2,40.2 150.2,39.7 151.2,39.2 152.2,38.8 153.2,38.3 154.2,37.9 155.2,37.5 156.1,37.1 157.1,36.7 158.1,36.4 159.1,36 160.1,35.6 161.1,35.2 162.1,34.7 163.1,34.3 164.1,33.9 165.1,33.5 166.1,33.1 167.1,32.7 168.1,32.4 169.1,32 170.1,31.7 171.1,31.5 172.1,31.3 173.1,31 174.1,30.9 175.1,30.7 176.1,30.6 177.1,30.5 178,30.3 179,30.2 180,30.1 181,30 182,29.9 183,29.9 184,29.8 185,29.8 186,29.7 187,29.8 188,29.8 189,29.8 190,29.9 191,29.9 192,30 193,30.1 194,30.2 195,30.4 196,30.5 197,30.7 198,30.9 198.9,31.1 199.9,31.3 200.9,31.5 201.9,31.8 202.9,32 203.9,32.3 204.9,32.6 205.9,33 206.9,33.3 207.9,33.7 208.9,34.2 209.9,34.7 210.9,35.2 211.9,35.8 212.9,36.4 213.9,37.1 214.9,37.8 215.9,38.6 216.9,39.4 217.9,40.3 218.9,41.2 219.9,42.1 220.8,43.1 221.8,44.1 222.8,45.2 223.8,46.4 224.8,47.5 225.8,48.7 226.8,50 227.8,51.3 228.8,52.7 229.8,54.1 230.8,55.7 231.8,57.3 232.8,58.9 233.8,60.7 234.8,62.5 235.8,64.5 236.8,66.5 237.8,68.5 238.8,70.7 239.8,72.9 240.8,75.1 241.8,77.5 242.7,79.8 243.7,82.2 244.7,84.7 245.7,87.2 246.7,89.9 247.7,92.6 248.7,95.4 249.7,98.3 250.7,101.3 251.7,104.4 252.7,107.6 253.7,110.8 254.7,114.1 255.7,117.5 256.7,120.9 257.7,124.3 258.7,127.7 259.7,131.2 260.7,134.6 261.7,137.9 262.7,141.2 263.7,144.3 264.6,147.3 265.6,150.2 266.6,153.1 267.6,155.8 268.6,158.5 269.6,161 270.6,163.5 271.6,165.8 272.6,168.1 273.6,170.3 274.6,172.4 275.6,174.4 276.6,176.3 277.6,178.1 278.6,179.9 279.6,181.6 280.6,183.3 281.6,184.9 282.6,186.5 283.6,188 284.6,189.4 285.6,190.7 286.5,192 287.5,193.2 288.5,194.3 289.5,195.4 290.5,196.4 291.5,197.3 292.5,198.2 293.5,199 294.5,199.7 295.5,200.4 296.5,201.1"/><polyline points="57.6,24.3 58.6,24.5 59.6,24.6 60.6,24.8 61.6,24.9 62.6,25.1 63.6,25.3 64.6,25.6 65.6,25.8 66.6,26.1 67.6,26.3 68.5,26.6 69.5,26.9 70.5,27.3 71.5,27.6 72.5,27.9 73.5,28.3 74.5,28.6 75.5,29 76.5,29.3 77.5,29.7 78.5,30 79.5,30.3 80.5,30.5 81.5,30.8 82.5,31 83.5,31.3 84.5,31.6 85.5,31.9 86.5,32.3 87.5,32.7 88.5,33.1 89.5,33.6 90.4,34.1 91.4,34.6 92.4,35.1 93.4,35.6 94.4,36.2 95.4,36.7 96.4,37.2 97.4,37.6 98.4,38 99.4,38.4 100.4,38.8 101.4,39.1 102.4,39.4 103.4,39.5 104.4,39.7 105.4,39.8 106.4,39.9 107.4,40.1 108.4,40.4 109.4,40.8 110.4,41.3 111.4,41.8 112.3,42.4 113.3,43 114.3,43.7 115.3,44.5 116.3,45.2 117.3,46.1 118.3,46.9 119.3,47.8 120.3,48.8 121.3,49.8 122.3,50.8 123.3,51.9 124.3,53 125.3,54 126.3,55.1 127.3,56.1 128.3,57.2 129.3,58.2 130.3,59.3 131.3,60.3 132.3,61.4 133.3,62.4 134.2,63.5 135.2,64.6 136.2,65.6 137.2,66.7 138.2,67.8 139.2,68.9 140.2,70 141.2,71.1 142.2,72.2 143.2,73.3 144.2,74.4 145.2,75.5 146.2,76.6 147.2,77.8 148.2,78.9 149.2,80 150.2,81.1 151.2,82.2 152.2,83.4 153.2,84.5 154.2,85.6 155.2,86.7 156.1,87.9 157.1,89 158.1,90.1 159.1,91.3 160.1,92.4 161.1,93.5 162.1,94.6 163.1,95.8 164.1,96.9 165.1,98 166.1,99.2 167.1,100.3 168.1,101.4 169.1,102.6 170.1,103.7 171.1,104.8 172.1,106 173.1,107.1 174.1,108.2 175.1,109.4 176.1,110.5 177.1,111.6 178,112.8 179,113.9 180,115 181,116.2 182,117.3 183,118.4 184,119.6 185,120.7 186,121.8 187,123 188,124.1 189,125.2 190,126.4 191,127.5 192,128.6 193,129.8 194,130.9 195,132 196,133.1 197,134.3 198,135.4 198.9,136.5 199.9,137.7 200.9,138.8 201.9,139.9 202.9,141.1 203.9,142.2 204.9,143.3 205.9,144.4 206.9,145.6 207.9,146.7 208.9,147.8 209.9,149 210.9,150.1 211.9,151.3 212.9,152.4 213.9,153.6 214.9,154.8 215.9,155.9 216.9,157.1 217.9,158.2 218.9,159.4 219.9,160.5 220.8,161.6 221.8,162.7 222.8,163.8 223.8,164.9 224.8,165.9 225.8,167 226.8,168 227.8,169.1 228.8,170.1 229.8,171.1 230.8,172 231.8,173 232.8,173.9 233.8,174.9 234.8,175.8 235.8,176.7 236.8,177.6 237.8,178.4 238.8,179.3 239.8,180.1 240.8,181 241.8,181.8 242.7,182.5 243.7,183.3 244.7,184 245.7,184.7 246.7,185.3 247.7,186 248.7,186.6 249.7,187.1 250.7,187.6 251.7,188.1 252.7,188.6 253.7,189 254.7,189.4 255.7,189.8 256.7,190.1 257.7,190.5 258.7,190.8 259.7,191 260.7,191.3 261.7,191.5 262.7,191.7 263.7,191.9 264.6,192 265.6,192.2 266.6,192.3 267.6,192.5 268.6,192.6 269.6,192.7 270.6,192.8 271.6,192.8 272.6,192.9 273.6,193 274.6,193 275.6,193.1 276.6,193.1 277.6,193.2 278.6,193.2 279.6,193.2 280.6,193.2 281.6,193.2 282.6,193.3 283.6,193.3 284.6,193.3 285.6,193.3 286.5,193.3 287.5,193.3 288.5,193.3 289.5,193.3 290.5,193.3 291.5,193.4 292.5,193.4 293.5,193.4 294.5,193.4 295.5,193.4 296.5,193.4"/><polyline points="57.6,164 58.6,162 59.6,159.9 60.6,157.7 61.6,155.4 62.6,153.1 63.6,150.8 64.6,148.4 65.6,145.9 66.6,143.4 67.6,140.9 68.5,138.3 69.5,135.7 70.5,133 71.5,130.2 72.5,127.5 73.5,124.7 74.5,121.8 75.5,118.9 76.5,116 77.5,113.1 78.5,110.2 79.5,107.3 80.5,104.5 81.5,101.7 82.5,99 83.5,96.3 84.5,93.7 85.5,91.1 86.5,88.6 87.5,86.2 88.5,83.8 89.5,81.5 90.4,79.3 91.4,77.1 92.4,74.9 93.4,72.9 94.4,70.8 95.4,68.9 96.4,67 97.4,65.2 98.4,63.4 99.4,61.7 100.4,60 101.4,58.4 102.4,56.9 103.4,55.4 104.4,53.9 105.4,52.5 106.4,51.1 107.4,49.8 108.4,48.6 109.4,47.5 110.4,46.4 111.4,45.3 112.3,44.3 113.3,43.4 114.3,42.5 115.3,41.7 116.3,40.9 117.3,40.2 118.3,39.4 119.3,38.8 120.3,38.1 121.3,37.5 122.3,36.9 123.3,36.3 124.3,35.7 125.3,35.1 126.3,34.6 127.3,34.1 128.3,33.6 129.3,33.1 130.3,32.6 131.3,32.2 132.3,31.8 133.3,31.3 134.2,30.9 135.2,30.6 136.2,30.2 137.2,29.9 138.2,29.5 139.2,29.2 140.2,28.9 141.2,28.7 142.2,28.4 143.2,28.2 144.2,27.9 145.2,27.7 146.2,27.5 147.2,27.3 148.2,27.1 149.2,27 150.2,26.8 151.2,26.7 152.2,26.5 153.2,26.4 154.2,26.3 155.2,26.2 156.1,26.1 157.1,26 158.1,26 159.1,25.9 160.1,25.9 161.1,25.8 162.1,25.8 163.1,25.7 164.1,25.7 165.1,25.6 166.1,25.6 167.1,25.6 168.1,25.5 169.1,25.5 170.1,25.5 171.1,25.4 172.1,25.4 173.1,25.4 174.1,25.3 175.1,25.3 176.1,25.2 177.1,25.2 178,25.2 179,25.2 180,25.2 181,25.2 182,25.3 183,25.3 184,25.4 185,25.5 186,25.5 187,25.6 188,25.8 189,25.9 190,26 191,26.1 192,26.3 193,26.5 194,26.7 195,26.9 196,27.1 197,27.3 198,27.6 198.9,27.9 199.9,28.2 200.9,28.5 201.9,28.8 202.9,29.2 203.9,29.6 204.9,30 205.9,30.5 206.9,30.9 207.9,31.4 208.9,31.9 209.9,32.4 210.9,32.9 211.9,33.5 212.9,34 213.9,34.6 214.9,35.3 215.9,35.9 216.9,36.6 217.9,37.3 218.9,38 219.9,38.8 220.8,39.6 221.8,40.5 222.8,41.3 223.8,42.3 224.8,43.2 225.8,44.2 226.8,45.3 227.8,46.4 228.8,47.6 229.8,48.8 230.8,50 231.8,51.4 232.8,52.8 233.8,54.2 234.8,55.8 235.8,57.4 236.8,59 237.8,60.7 238.8,62.5 239.8,64.3 240.8,66.2 241.8,68.1 242.7,70.1 243.7,72.1 244.7,74.1 245.7,76.2 246.7,78.5 247.7,80.8 248.7,83.2 249.7,85.7 250.7,88.3 251.7,91 252.7,93.8 253.7,96.6 254.7,99.5 255.7,102.5 256.7,105.5 257.7,108.6 258.7,111.6 259.7,114.8 260.7,117.9 261.7,121.2 262.7,124.4 263.7,127.7 264.6,131 265.6,134.3 266.6,137.5 267.6,140.6 268.6,143.5 269.6,146.4 270.6,149.3 271.6,152 272.6,154.6 273.6,157.2 274.6,159.7 275.6,162.1 276.6,164.5 277.6,166.8 278.6,169 279.6,171.1 280.6,173.1 281.6,175.1 282.6,176.9 283.6,178.8 284.6,180.5 285.6,182.1 286.5,183.7 287.5,185.2 288.5,186.7 289.5,188 290.5,189.3 291.5,190.6 292.5,191.8 293.5,192.9 294.5,193.9 295.5,194.9 296.5,195.8"/><polyline points="57.6,22.1 58.6,22.2 59.6,22.3 60.6,22.5 61.6,22.6 62.6,22.7 63.6,22.9 64.6,23.1 65.6,23.3 66.6,23.6 67.6,23.8 68.5,24.2 69.5,24.5 70.5,24.8 71.5,25.2 72.5,25.6 73.5,26 74.5,26.4 75.5,26.9 76.5,27.3 77.5,27.8 78.5,28.2 79.5,28.7 80.5,29.3 81.5,29.8 82.5,30.3 83.5,30.9 84.5,31.5 85.5,32.1 86.5,32.7 87.5,33.4 88.5,34.1 89.5,34.7 90.4,35.5 91.4,36.2 92.4,36.9 93.4,37.7 94.4,38.5 95.4,39.3 96.4,40.1 97.4,40.9 98.4,41.8 99.4,42.6 100.4,43.5 101.4,44.4 102.4,45.3 103.4,46.2 104.4,47.1 105.4,48 106.4,48.9 107.4,49.9 108.4,50.8 109.4,51.7 110.4,52.7 111.4,53.7 112.3,54.6 113.3,55.6 114.3,56.6 115.3,57.5 116.3,58.5 117.3,59.5 118.3,60.5 119.3,61.5 120.3,62.5 121.3,63.5 122.3,64.5 123.3,65.5 124.3,66.5 125.3,67.5 126.3,68.5 127.3,69.5 128.3,70.5 129.3,71.5 130.3,72.6 131.3,73.6 132.3,74.6 133.3,75.6 134.2,76.6 135.2,77.6 136.2,78.6 137.2,79.6 138.2,80.6 139.2,81.6 140.2,82.6 141.2,83.6 142.2,84.5 143.2,85.4 144.2,86.3 145.2,87.3 146.2,88.2 147.2,89.1 148.2,90.1 149.2,91.1 150.2,92.1 151.2,93.1 152.2,94.1 153.2,95.1 154.2,96.1 155.2,97.2 156.1,98.2 157.1,99.3 158.1,100.4 159.1,101.4 160.1,102.6 161.1,103.7 162.1,104.8 163.1,105.9 164.1,107.1 165.1,108.2 166.1,109.2 167.1,110.3 168.1,111.4 169.1,112.4 170.1,113.5 171.1,114.5 172.1,115.5 173.1,116.5 174.1,117.6 175.1,118.6 176.1,119.6 177.1,120.6 178,121.7 179,122.7 180,123.7 181,124.7 182,125.8 183,126.8 184,127.8 185,128.8 186,129.9 187,130.9 188,131.9 189,132.9 190,134 191,135 192,136 193,137 194,138 195,139.1 196,140.1 197,141.1 198,142.1 198.9,143.1 199.9,144.2 200.9,145.2 201.9,146.2 202.9,147.2 203.9,148.2 204.9,149.2 205.9,150.2 206.9,151.3 207.9,152.3 208.9,153.3 209.9,154.3 210.9,155.4 211.9,156.4 212.9,157.4 213.9,158.5 214.9,159.5 215.9,160.6 216.9,161.6 217.9,162.7 218.9,163.7 219.9,164.7 220.8,165.7 221.8,166.7 222.8,167.7 223.8,168.6 224.8,169.6 225.8,170.6 226.8,171.5 227.8,172.4 228.8,173.3 229.8,174.2 230.8,175.1 231.8,176 232.8,176.8 233.8,177.6 234.8,178.5 235.8,179.3 236.8,180.1 237.8,181 238.8,181.8 239.8,182.6 240.8,183.4 241.8,184.2 242.7,184.9 243.7,185.7 244.7,186.4 245.7,187.2 246.7,187.9 247.7,188.5 248.7,189.2 249.7,189.8 250.7,190.4 251.7,191 252.7,191.6 253.7,192.1 254.7,192.7 255.7,193.2 256.7,193.6 257.7,194.1 258.7,194.5 259.7,194.9 260.7,195.3 261.7,195.7 262.7,196 263.7,196.3 264.6,196.6 265.6,196.9 266.6,197.2 267.6,197.4 268.6,197.6 269.6,197.9 270.6,198.1 271.6,198.2 272.6,198.4 273.6,198.6 274.6,198.7 275.6,198.9 276.6,199 277.6,199.1 278.6,199.2 279.6,199.3 280.6,199.4 281.6,199.5 282.6,199.6 283.6,199.6 284.6,199.7 285.6,199.8 286.5,199.8 287.5,199.9 288.5,199.9 289.5,200 290.5,200 291.5,200.1 292.5,200.1 293.5,200.2 294.5,200.2 295.5,200.2 296.5,200.2"/><polyline points="57.6,165.3 58.6,163.2 59.6,160.9 60.6,158.4 61.6,155.7 62.6,152.7 63.6,149.4 64.6,145.9 65.6,142.2 66.6,138.5 67.6,135 68.5,131.8 69.5,128.8 70.5,126.1 71.5,123.5 72.5,121 73.5,118.7 74.5,116.4 75.5,114.3 76.5,112.1 77.5,110 78.5,108 79.5,105.9 80.5,103.9 81.5,101.9 82.5,99.9 83.5,97.8 84.5,95.8 85.5,93.8 86.5,91.9 87.5,89.9 88.5,88 89.5,86 90.4,84.1 91.4,82.3 92.4,80.4 93.4,78.7 94.4,76.9 95.4,75.3 96.4,73.6 97.4,72.1 98.4,70.6 99.4,69.2 100.4,67.8 101.4,66.5 102.4,65.2 103.4,64 104.4,62.8 105.4,61.6 106.4,60.5 107.4,59.4 108.4,58.4 109.4,57.3 110.4,56.4 111.4,55.4 112.3,54.6 113.3,53.7 114.3,52.9 115.3,52.1 116.3,51.4 117.3,50.6 118.3,49.9 119.3,49.2 120.3,48.5 121.3,47.9 122.3,47.2 123.3,46.6 124.3,46.1 125.3,45.5 126.3,45 127.3,44.5 128.3,44 129.3,43.6 130.3,43.1 131.3,42.7 132.3,42.3 133.3,42 134.2,41.6 135.2,41.3 136.2,41 137.2,40.6 138.2,40.3 139.2,40 140.2,39.7 141.2,39.4 142.2,39.1 143.2,38.8 144.2,38.5 145.2,38.2 146.2,38 147.2,37.8 148.2,37.5 149.2,37.3 150.2,37.1 151.2,36.9 152.2,36.8 153.2,36.6 154.2,36.5 155.2,36.3 156.1,36.2 157.1,36.1 158.1,36.1 159.1,36 160.1,35.9 161.1,35.8 162.1,35.8 163.1,35.7 164.1,35.6 165.1,35.5 166.1,35.4 167.1,35.3 168.1,35.2 169.1,35.1 170.1,35.1 171.1,35 172.1,35 173.1,35 174.1,35.1 175.1,35.2 176.1,35.4 177.1,35.6 178,35.8 179,36 180,36.1 181,36.3 182,36.5 183,36.7 184,36.9 185,37.1 186,37.2 187,37.4 188,37.5 189,37.7 190,37.7 191,37.7 192,37.7 193,37.7 194,37.6 195,37.6 196,37.7 197,37.9 198,38.1 198.9,38.5 199.9,38.8 200.9,39.2 201.9,39.6 202.9,40.1 203.9,40.6 204.9,41.1 205.9,41.6 206.9,42.2 207.9,42.8 208.9,43.4 209.9,43.9 210.9,44.5 211.9,45 212.9,45.6 213.9,46.2 214.9,46.8 215.9,47.4 216.9,48.1 217.9,48.8 218.9,49.5 219.9,50.3 220.8,51.2 221.8,52.1 222.8,53.2 223.8,54.3 224.8,55.6 225.8,56.8 226.8,58.1 227.8,59.3 228.8,60.6 229.8,61.8 230.8,63.1 231.8,64.5 232.8,65.8 233.8,67.3 234.8,68.8 235.8,70.4 236.8,72 237.8,73.7 238.8,75.4 239.8,77.2 240.8,79.1 241.8,81.1 242.7,83.2 243.7,85.5 244.7,87.9 245.7,90.5 246.7,93.1 247.7,95.9 248.7,98.8 249.7,101.8 250.7,104.9 251.7,108 252.7,111.2 253.7,114.5 254.7,117.7 255.7,121.1 256.7,124.4 257.7,127.8 258.7,131.1 259.7,134.4 260.7,137.7 261.7,140.9 262.7,144 263.7,147.1 264.6,150.1 265.6,153 266.6,155.8 267.6,158.5 268.6,161.1 269.6,163.6 270.6,166 271.6,168.3 272.6,170.6 273.6,172.8 274.6,174.9 275.6,176.9 276.6,178.8 277.6,180.7 278.6,182.6 279.6,184.4 280.6,186.1 281.6,187.9 282.6,189.6 283.6,191.2 284.6,192.7 285.6,194.2 286.5,195.6 287.5,196.9 288.5,198 289.5,199.1 290.5,200.1 291.5,200.9 292.5,201.7 293.5,202.4 294.5,203 295.5,203.5 296.5,203.9"/><polyline points="57.6,8.1 58.6,8.2 59.6,8.3 60.6,8.4 61.6,8.5 62.6,8.6 63.6,8.8 64.6,9 65.6,9.2 66.6,9.5 67.6,9.9 68.5,10.3 69.5,10.7 70.5,11.2 71.5,11.6 72.5,12.1 73.5,12.6 74.5,13 75.5,13.5 76.5,14 77.5,14.5 78.5,15 79.5,15.5 80.5,16.1 81.5,16.6 82.5,17.2 83.5,17.9 84.5,18.5 85.5,19.2 86.5,19.9 87.5,20.6 88.5,21.3 89.5,22 90.4,22.8 91.4,23.5 92.4,24.3 93.4,25 94.4,25.8 95.4,26.5 96.4,27.3 97.4,28.1 98.4,29 99.4,29.8 100.4,30.7 101.4,31.5 102.4,32.4 103.4,33.3 104.4,34.2 105.4,35.1 106.4,36.1 107.4,37 108.4,37.9 109.4,38.9 110.4,39.9 111.4,40.8 112.3,41.8 113.3,42.8 114.3,43.8 115.3,44.8 116.3,45.8 117.3,46.8 118.3,47.8 119.3,48.8 120.3,49.8 121.3,50.8 122.3,51.8 123.3,52.8 124.3,53.8 125.3,54.8 126.3,55.8 127.3,56.8 128.3,57.7 129.3,58.7 130.3,59.7 131.3,60.7 132.3,61.7 133.3,62.7 134.2,63.7 135.2,64.7 136.2,65.7 137.2,66.7 138.2,67.7 139.2,68.7 140.2,69.8 141.2,70.8 142.2,71.8 143.2,72.8 144.2,73.9 145.2,74.9 146.2,75.9 147.2,77 148.2,78 149.2,79 150.2,80 151.2,81 152.2,82.1 153.2,83.1 154.2,84.1 155.2,85.1 156.1,86.1 157.1,87.1 158.1,88.1 159.1,89 160.1,90 161.1,91 162.1,92 163.1,92.9 164.1,93.9 165.1,94.9 166.1,95.9 167.1,96.9 168.1,97.9 169.1,98.9 170.1,99.9 171.1,100.9 172.1,101.9 173.1,102.9 174.1,103.9 175.1,104.9 176.1,105.9 177.1,106.9 178,108 179,109 180,110 181,111 182,112 183,113 184,114 185,115 186,116 187,117 188,118 189,119 190,120 191,121 192,122.1 193,123.1 194,124.1 195,125.1 196,126.1 197,127.1 198,128.1 198.9,129.1 199.9,130.1 200.9,131.1 201.9,132.1 202.9,133.1 203.9,134.1 204.9,135.1 205.9,136.1 206.9,137.1 207.9,138.1 208.9,139.1 209.9,140.1 210.9,141.1 211.9,142.1 212.9,143.1 213.9,144.1 214.9,145.1 215.9,146.1 216.9,147 217.9,148 218.9,149 219.9,150 220.8,151 221.8,151.9 222.8,152.9 223.8,153.9 224.8,154.9 225.8,155.9 226.8,156.9 227.8,157.8 228.8,158.8 229.8,159.8 230.8,160.8 231.8,161.8 232.8,162.8 233.8,163.8 234.8,164.7 235.8,165.7 236.8,166.7 237.8,167.7 238.8,168.6 239.8,169.6 240.8,170.5 241.8,171.4 242.7,172.4 243.7,173.3 244.7,174.2 245.7,175.1 246.7,176 247.7,176.9 248.7,177.8 249.7,178.7 250.7,179.5 251.7,180.4 252.7,181.2 253.7,182.1 254.7,182.9 255.7,183.7 256.7,184.5 257.7,185.3 258.7,186 259.7,186.8 260.7,187.5 261.7,188.2 262.7,188.9 263.7,189.6 264.6,190.2 265.6,190.8 266.6,191.5 267.6,192 268.6,192.6 269.6,193.2 270.6,193.7 271.6,194.2 272.6,194.7 273.6,195.1 274.6,195.6 275.6,196 276.6,196.4 277.6,196.7 278.6,197.1 279.6,197.4 280.6,197.8 281.6,198.1 282.6,198.4 283.6,198.6 284.6,198.9 285.6,199.1 286.5,199.3 287.5,199.5 288.5,199.7 289.5,199.9 290.5,200.1 291.5,200.2 292.5,200.3 293.5,200.5 294.5,200.6 295.5,200.7 296.5,200.8"/><polyline points="57.6,163.7 58.6,161.6 59.6,159.4 60.6,157 61.6,154.4 62.6,151.6 63.6,148.5 64.6,145.2 65.6,141.7 66.6,138.3 67.6,135 68.5,132 69.5,129.2 70.5,126.5 71.5,124 72.5,121.6 73.5,119.4 74.5,117.2 75.5,115 76.5,112.9 77.5,110.9 78.5,108.8 79.5,106.8 80.5,104.8 81.5,102.8 82.5,100.8 83.5,98.8 84.5,96.8 85.5,94.8 86.5,92.8 87.5,90.9 88.5,88.9 89.5,87 90.4,85.1 91.4,83.3 92.4,81.5 93.4,79.7 94.4,78 95.4,76.3 96.4,74.7 97.4,73.2 98.4,71.7 99.4,70.3 100.4,69 101.4,67.7 102.4,66.4 103.4,65.2 104.4,64.1 105.4,62.9 106.4,61.8 107.4,60.8 108.4,59.7 109.4,58.8 110.4,57.8 111.4,57 112.3,56.2 113.3,55.5 114.3,54.9 115.3,54.2 116.3,53.6 117.3,53 118.3,52.3 119.3,51.6 120.3,51 121.3,50.3 122.3,49.7 123.3,49 124.3,48.4 125.3,47.7 126.3,47.1 127.3,46.5 128.3,45.8 129.3,45.2 130.3,44.7 131.3,44.1 132.3,43.6 133.3,43.2 134.2,42.8 135.2,42.4 136.2,42 137.2,41.6 138.2,41.2 139.2,40.9 140.2,40.5 141.2,40.2 142.2,39.8 143.2,39.5 144.2,39.1 145.2,38.8 146.2,38.4 147.2,38.1 148.2,37.9 149.2,37.6 150.2,37.5 151.2,37.4 152.2,37.3 153.2,37.2 154.2,37.2 155.2,37.1 156.1,37 157.1,37 158.1,36.9 159.1,36.8 160.1,36.7 161.1,36.6 162.1,36.5 163.1,36.3 164.1,36.2 165.1,36.1 166.1,36 167.1,35.8 168.1,35.7 169.1,35.5 170.1,35.4 171.1,35.3 172.1,35.2 173.1,35.2 174.1,35.3 175.1,35.4 176.1,35.5 177.1,35.7 178,35.9 179,36 180,36.2 181,36.4 182,36.5 183,36.7 184,36.8 185,37 186,37.1 187,37.3 188,37.4 189,37.5 190,37.5 191,37.6 192,37.5 193,37.5 194,37.4 195,37.5 196,37.6 197,37.8 198,38 198.9,38.3 199.9,38.7 200.9,39.1 201.9,39.5 202.9,39.9 203.9,40.4 204.9,40.9 205.9,41.5 206.9,42 207.9,42.6 208.9,43.1 209.9,43.7 210.9,44.3 211.9,44.8 212.9,45.4 213.9,46 214.9,46.7 215.9,47.3 216.9,48 217.9,48.8 218.9,49.6 219.9,50.4 220.8,51.3 221.8,52.3 222.8,53.4 223.8,54.5 224.8,55.7 225.8,57 226.8,58.2 227.8,59.4 228.8,60.7 229.8,62 230.8,63.2 231.8,64.6 232.8,66 233.8,67.4 234.8,68.9 235.8,70.5 236.8,72.1 237.8,73.8 238.8,75.5 239.8,77.3 240.8,79.2 241.8,81.2 242.7,83.4 243.7,85.6 244.7,88 245.7,90.5 246.7,93.2 247.7,95.9 248.7,98.8 249.7,101.7 250.7,104.7 251.7,107.8 252.7,111 253.7,114.2 254.7,117.5 255.7,120.8 256.7,124.1 257.7,127.4 258.7,130.8 259.7,134.1 260.7,137.3 261.7,140.5 262.7,143.7 263.7,146.8 264.6,149.8 265.6,152.7 266.6,155.5 267.6,158.3 268.6,160.9 269.6,163.4 270.6,165.9 271.6,168.2 272.6,170.5 273.6,172.7 274.6,174.8 275.6,176.8 276.6,178.8 277.6,180.7 278.6,182.6 279.6,184.4 280.6,186.2 281.6,187.9 282.6,189.6 283.6,191.2 284.6,192.8 285.6,194.3 286.5,195.6 287.5,196.9 288.5,198.1 289.5,199.1 290.5,200.1 291.5,201 292.5,201.8 293.5,202.5 294.5,203.1 295.5,203.6 296.5,204"/><polyline points="57.6,17.8 58.6,17.8 59.6,17.9 60.6,18 61.6,18.1 62.6,18.2 63.6,18.4 64.6,18.5 65.6,18.7 66.6,19 67.6,19.2 68.5,19.5 69.5,19.9 70.5,20.2 71.5,20.6 72.5,20.9 73.5,21.3 74.5,21.7 75.5,22.1 76.5,22.5 77.5,22.9 78.5,23.4 79.5,23.8 80.5,24.3 81.5,24.8 82.5,25.2 83.5,25.7 84.5,26.3 85.5,26.8 86.5,27.3 87.5,27.9 88.5,28.5 89.5,29.1 90.4,29.8 91.4,30.4 92.4,31.1 93.4,31.8 94.4,32.6 95.4,33.3 96.4,34.1 97.4,34.8 98.4,35.6 99.4,36.3 100.4,37.1 101.4,37.9 102.4,38.7 103.4,39.5 104.4,40.3 105.4,41.2 106.4,42.1 107.4,42.9 108.4,43.9 109.4,44.8 110.4,45.7 111.4,46.7 112.3,47.7 113.3,48.7 114.3,49.7 115.3,50.7 116.3,51.7 117.3,52.7 118.3,53.7 119.3,54.7 120.3,55.7 121.3,56.7 122.3,57.7 123.3,58.6 124.3,59.6 125.3,60.6 126.3,61.6 127.3,62.6 128.3,63.6 129.3,64.5 130.3,65.5 131.3,66.5 132.3,67.5 133.3,68.5 134.2,69.5 135.2,70.5 136.2,71.5 137.2,72.5 138.2,73.5 139.2,74.5 140.2,75.5 141.2,76.5 142.2,77.5 143.2,78.5 144.2,79.5 145.2,80.5 146.2,81.5 147.2,82.5 148.2,83.5 149.2,84.5 150.2,85.5 151.2,86.5 152.2,87.6 153.2,88.6 154.2,89.6 155.2,90.6 156.1,91.6 157.1,92.6 158.1,93.6 159.1,94.6 160.1,95.6 161.1,96.6 162.1,97.6 163.1,98.6 164.1,99.6 165.1,100.7 166.1,101.7 167.1,102.7 168.1,103.7 169.1,104.7 170.1,105.7 171.1,106.7 172.1,107.7 173.1,108.7 174.1,109.7 175.1,110.7 176.1,111.7 177.1,112.7 178,113.8 179,114.8 180,115.8 181,116.8 182,117.8 183,118.8 184,119.8 185,120.8 186,121.8 187,122.8 188,123.8 189,124.8 190,125.8 191,126.8 192,127.8 193,128.8 194,129.8 195,130.8 196,131.8 197,132.8 198,133.8 198.9,134.8 199.9,135.8 200.9,136.8 201.9,137.8 202.9,138.8 203.9,139.8 204.9,140.8 205.9,141.8 206.9,142.8 207.9,143.8 208.9,144.8 209.9,145.8 210.9,146.8 211.9,147.8 212.9,148.7 213.9,149.7 214.9,150.7 215.9,151.7 216.9,152.7 217.9,153.7 218.9,154.6 219.9,155.6 220.8,156.6 221.8,157.5 222.8,158.5 223.8,159.4 224.8,160.3 225.8,161.3 226.8,162.2 227.8,163.1 228.8,164 229.8,164.9 230.8,165.8 231.8,166.7 232.8,167.5 233.8,168.4 234.8,169.2 235.8,170.1 236.8,170.9 237.8,171.7 238.8,172.5 239.8,173.3 240.8,174.1 241.8,174.8 242.7,175.6 243.7,176.3 244.7,177 245.7,177.7 246.7,178.4 247.7,179 248.7,179.6 249.7,180.2 250.7,180.8 251.7,181.4 252.7,181.9 253.7,182.4 254.7,182.9 255.7,183.4 256.7,183.9 257.7,184.3 258.7,184.7 259.7,185.1 260.7,185.5 261.7,185.8 262.7,186.1 263.7,186.5 264.6,186.7 265.6,187 266.6,187.3 267.6,187.5 268.6,187.7 269.6,187.9 270.6,188.1 271.6,188.3 272.6,188.5 273.6,188.7 274.6,188.8 275.6,188.9 276.6,189.1 277.6,189.2 278.6,189.3 279.6,189.4 280.6,189.5 281.6,189.6 282.6,189.7 283.6,189.7 284.6,189.8 285.6,189.9 286.5,189.9 287.5,190 288.5,190 289.5,190.1 290.5,190.1 291.5,190.2 292.5,190.2 293.5,190.3 294.5,190.3 295.5,190.3 296.5,190.4"/><polyline points="57.6,171 58.6,169.1 59.6,167.1 60.6,165.1 61.6,163.1 62.6,161 63.6,158.9 64.6,156.8 65.6,154.8 66.6,152.8 67.6,150.8 68.5,148.8 69.5,146.9 70.5,144.9 71.5,142.8 72.5,140.7 73.5,138.4 74.5,136.1 75.5,133.7 76.5,131.2 77.5,128.7 78.5,126.1 79.5,123.6 80.5,121 81.5,118.4 82.5,115.9 83.5,113.4 84.5,111 85.5,108.5 86.5,106.1 87.5,103.7 88.5,101.3 89.5,98.9 90.4,96.5 91.4,94.1 92.4,91.7 93.4,89.3 94.4,86.9 95.4,84.6 96.4,82.4 97.4,80.1 98.4,77.9 99.4,75.8 100.4,73.7 101.4,71.7 102.4,69.7 103.4,67.8 104.4,66 105.4,64.2 106.4,62.6 107.4,61 108.4,59.5 109.4,58 110.4,56.5 111.4,55.1 112.3,53.8 113.3,52.4 114.3,51.1 115.3,49.8 116.3,48.6 117.3,47.5 118.3,46.5 119.3,45.5 120.3,44.6 121.3,43.7 122.3,42.8 123.3,42 124.3,41.3 125.3,40.5 126.3,39.8 127.3,39.2 128.3,38.6 129.3,38 130.3,37.5 131.3,37 132.3,36.6 133.3,36.1 134.2,35.7 135.2,35.4 136.2,35 137.2,34.7 138.2,34.4 139.2,34.1 140.2,33.9 141.2,33.7 142.2,33.4 143.2,33.2 144.2,33 145.2,32.9 146.2,32.7 147.2,32.5 148.2,32.4 149.2,32.3 150.2,32.2 151.2,32 152.2,31.9 153.2,31.8 154.2,31.8 155.2,31.7 156.1,31.6 157.1,31.6 158.1,31.5 159.1,31.5 160.1,31.4 161.1,31.4 162.1,31.3 163.1,31.3 164.1,31.3 165.1,31.3 166.1,31.3 167.1,31.3 168.1,31.4 169.1,31.4 170.1,31.5 171.1,31.7 172.1,31.8 173.1,32.1 174.1,32.3 175.1,32.6 176.1,32.9 177.1,33.2 178,33.5 179,33.7 180,33.9 181,34.1 182,34.3 183,34.4 184,34.6 185,34.7 186,34.8 187,34.9 188,35 189,35.1 190,35.2 191,35.4 192,35.5 193,35.7 194,35.8 195,36 196,36.3 197,36.5 198,36.8 198.9,37 199.9,37.3 200.9,37.7 201.9,38 202.9,38.4 203.9,38.8 204.9,39.2 205.9,39.6 206.9,40.1 207.9,40.6 208.9,41.1 209.9,41.7 210.9,42.3 211.9,43 212.9,43.7 213.9,44.4 214.9,45.1 215.9,45.9 216.9,46.7 217.9,47.5 218.9,48.3 219.9,49.2 220.8,50.1 221.8,51 222.8,52 223.8,53.1 224.8,54.2 225.8,55.4 226.8,56.6 227.8,57.9 228.8,59.3 229.8,60.8 230.8,62.3 231.8,63.9 232.8,65.5 233.8,67.2 234.8,69 235.8,70.9 236.8,72.7 237.8,74.7 238.8,76.7 239.8,78.7 240.8,80.8 241.8,82.9 242.7,85.1 243.7,87.2 244.7,89.5 245.7,91.8 246.7,94.1 247.7,96.5 248.7,99.1 249.7,101.6 250.7,104.3 251.7,107 252.7,109.8 253.7,112.6 254.7,115.5 255.7,118.5 256.7,121.4 257.7,124.4 258.7,127.4 259.7,130.3 260.7,133.3 261.7,136.1 262.7,138.9 263.7,141.7 264.6,144.3 265.6,146.9 266.6,149.5 267.6,152 268.6,154.4 269.6,156.8 270.6,159.1 271.6,161.3 272.6,163.5 273.6,165.6 274.6,167.6 275.6,169.5 276.6,171.4 277.6,173.2 278.6,175 279.6,176.7 280.6,178.4 281.6,180 282.6,181.6 283.6,183.2 284.6,184.7 285.6,186.1 286.5,187.5 287.5,188.8 288.5,190 289.5,191.2 290.5,192.4 291.5,193.4 292.5,194.5 293.5,195.4 294.5,196.3 295.5,197.2 296.5,198"/></g>
</g>
<g fill="none" stroke-linecap="butt">
<path stroke="#555" stroke-width="1.5" d="M57 5H297.1"/>
<path stroke="#111" stroke-width="1.3" d="M57.6 4.4V214.8"/>
<path stroke="#222" stroke-width="1.1" d="M296.5 4.4V214.8"/>
<path stroke="#111" stroke-width="1.3" d="M57 214.2H297.1"/>
<path stroke="#111" stroke-width="1" d="M57.6 214.2v3.5M69.6 214.2v1.8M76.6 214.2v1.8M81.6 214.2v1.8M85.4 214.2v1.8M88.6 214.2v1.8M91.2 214.2v1.8M93.6 214.2v1.8M95.6 214.2v1.8M97.4 214.2v3.5M109.4 214.2v1.8M116.4 214.2v1.8M121.4 214.2v1.8M125.2 214.2v1.8M128.4 214.2v1.8M131.1 214.2v1.8M133.4 214.2v1.8M135.4 214.2v1.8M137.2 214.2v3.5M149.2 214.2v1.8M156.2 214.2v1.8M161.2 214.2v1.8M165.1 214.2v1.8M168.2 214.2v1.8M170.9 214.2v1.8M173.2 214.2v1.8M175.2 214.2v1.8M177.1 214.2v3.5M189 214.2v1.8M196 214.2v1.8M201 214.2v1.8M204.9 214.2v1.8M208 214.2v1.8M210.7 214.2v1.8M213 214.2v1.8M215 214.2v1.8M216.9 214.2v3.5M228.9 214.2v1.8M235.9 214.2v1.8M240.8 214.2v1.8M244.7 214.2v1.8M247.9 214.2v1.8M250.5 214.2v1.8M252.8 214.2v1.8M254.9 214.2v1.8M256.7 214.2v3.5M268.7 214.2v1.8M275.7 214.2v1.8M280.7 214.2v1.8M284.5 214.2v1.8M287.7 214.2v1.8M290.3 214.2v1.8M292.6 214.2v1.8M294.7 214.2v1.8M296.5 214.2v3.5M57.6 210.1h-1.8M57.6 204.4h-1.8M57.6 200.1h-1.8M57.6 196.5h-1.8M57.6 193.4h-1.8M57.6 190.8h-1.8M57.6 188.5h-1.8M57.6 186.4h-3.5M57.6 172.7h-1.8M57.6 164.8h-1.8M57.6 159.1h-1.8M57.6 154.7h-1.8M57.6 151.1h-1.8M57.6 148.1h-1.8M57.6 145.4h-1.8M57.6 143.1h-1.8M57.6 141.1h-3.5M57.6 127.4h-1.8M57.6 119.4h-1.8M57.6 113.7h-1.8M57.6 109.4h-1.8M57.6 105.8h-1.8M57.6 102.7h-1.8M57.6 100.1h-1.8M57.6 97.8h-1.8M57.6 95.7h-3.5M57.6 82h-1.8M57.6 74.1h-1.8M57.6 68.4h-1.8M57.6 64h-1.8M57.6 60.4h-1.8M57.6 57.4h-1.8M57.6 54.7h-1.8M57.6 52.4h-1.8M57.6 50.4h-3.5M57.6 36.7h-1.8M57.6 28.7h-1.8M57.6 23h-1.8M57.6 18.7h-1.8M57.6 15.1h-1.8M57.6 12h-1.8M57.6 9.4h-1.8M57.6 7.1h-1.8M57.6 5h-3.5M296.5 214.2h3.5M296.5 202.6h-1.6M296.5 191h-1.6M296.5 179.3h-1.6M296.5 167.7h-1.6M296.5 156.1h-1.6M296.5 144.5h3.5M296.5 132.8h-1.6M296.5 121.2h-1.6M296.5 109.6h-1.6M296.5 98h-1.6M296.5 86.4h-1.6M296.5 74.7h3.5M296.5 63.1h-1.6M296.5 51.5h-1.6M296.5 39.9h-1.6M296.5 28.2h-1.6M296.5 16.6h-1.6M296.5 5h3.5"/>
</g>
<g font-family='"Liberation Serif", serif' font-weight="bold" fill="#111" stroke="#111" stroke-width="0.2">
<text x="57.6" y="227.6" font-size="10.0" text-anchor="middle" textLength="16.1" lengthAdjust="spacingAndGlyphs">0.01</text>
<text x="137.2" y="227.6" font-size="10.0" text-anchor="middle" textLength="4.6" lengthAdjust="spacingAndGlyphs">1</text>
<text x="216.9" y="227.6" font-size="10.0" text-anchor="middle" textLength="13.8" lengthAdjust="spacingAndGlyphs">100</text>
<text x="296.5" y="227.6" font-size="10.0" text-anchor="middle" textLength="23" lengthAdjust="spacingAndGlyphs">10000</text>
<text x="51.6" y="189.8" font-size="10.6" text-anchor="end" textLength="9.6" lengthAdjust="spacingAndGlyphs">10</text>
<text x="51.6" y="144.4" font-size="10.6" text-anchor="end" textLength="14.4" lengthAdjust="spacingAndGlyphs">100</text>
<text x="51.6" y="99.1" font-size="10.6" text-anchor="end" textLength="19.2" lengthAdjust="spacingAndGlyphs">1000</text>
<text x="51.6" y="53.7" font-size="10.6" text-anchor="end" textLength="24" lengthAdjust="spacingAndGlyphs">10000</text>
<text x="51.6" y="8.4" font-size="10.6" text-anchor="end" textLength="28.8" lengthAdjust="spacingAndGlyphs">100000</text>
<text x="302.5" y="217.6" font-size="10.5" textLength="5" lengthAdjust="spacingAndGlyphs">0</text>
<text x="302.5" y="147.8" font-size="10.5" textLength="10" lengthAdjust="spacingAndGlyphs">30</text>
<text x="302.5" y="78.1" font-size="10.5" textLength="10" lengthAdjust="spacingAndGlyphs">60</text>
<text x="302.5" y="8.4" font-size="10.5" textLength="10" lengthAdjust="spacingAndGlyphs">90</text>
</g>
<g stroke="#111" stroke-width="0.25">
<text x="177.2" y="245.5" text-anchor="middle" font-size="10.6" textLength="70.5" lengthAdjust="spacingAndGlyphs">Frequency (Hz)</text>
<text transform="translate(17.7 108.4) rotate(-90)" text-anchor="middle" font-size="11.0" textLength="67.3" lengthAdjust="spacingAndGlyphs">| Z | (ohm.cm<tspan font-size="7.2" dy="-4.6">2</tspan><tspan dy="4.6">)</tspan></text>
<text transform="translate(316.6 109.3) rotate(90)" text-anchor="middle" font-size="10.5" textLength="75.3" lengthAdjust="spacingAndGlyphs">- Phase angle (<tspan font-size="5.8" dy="-4.2">o</tspan><tspan dy="4.2">)</tspan></text>
<text x="292.6" y="23.9" text-anchor="end" font-size="21.5">(a)</text>
</g>
<text x="113.5" y="143.6" font-size="9.4" fill="#3ee8f2" stroke="#3ee8f2" stroke-width="0.3">Blank</text>
<text x="113.5" y="155.5" font-size="9.4" fill="#f0843a" stroke="#f0843a" stroke-width="0.3" textLength="51.5" lengthAdjust="spacingAndGlyphs">GLU 1 wt.%</text>
<text x="113.5" y="167.3" font-size="9.4" fill="#22e022" stroke="#22e022" stroke-width="0.3" textLength="51.5" lengthAdjust="spacingAndGlyphs">GLU 2 wt.%</text>
<text x="113.5" y="179.2" font-size="9.4" fill="#7a227e" stroke="#7a227e" stroke-width="0.3" textLength="51.5" lengthAdjust="spacingAndGlyphs">GLU 3 wt.%</text>
<text x="113.5" y="191" font-size="9.4" fill="#ee2aee" stroke="#ee2aee" stroke-width="0.3" textLength="51.5" lengthAdjust="spacingAndGlyphs">GLU 4 wt.%</text>
<text x="113.5" y="202.9" font-size="9.4" fill="#1a1ad8" stroke="#1a1ad8" stroke-width="0.3" textLength="51.5" lengthAdjust="spacingAndGlyphs">GLU 5 wt.%</text>
<g clip-path="url(#clipb)">
<circle cx="400.2" cy="40.7" r="2.4" fill="#22e6f0"/>
<circle cx="408.1" cy="40.8" r="2.4" fill="#22e6f0"/>
<circle cx="416.1" cy="41.2" r="2.4" fill="#22e6f0"/>
<circle cx="424" cy="42.2" r="2.4" fill="#22e6f0"/>
<circle cx="431.9" cy="43.8" r="2.4" fill="#22e6f0"/>
<circle cx="439.9" cy="45.7" r="2.4" fill="#22e6f0"/>
<circle cx="447.8" cy="48.6" r="2.4" fill="#22e6f0"/>
<circle cx="455.8" cy="53.2" r="2.4" fill="#22e6f0"/>
<circle cx="463.7" cy="59" r="2.4" fill="#22e6f0"/>
<circle cx="471.6" cy="65.7" r="2.4" fill="#22e6f0"/>
<circle cx="479.6" cy="72.9" r="2.4" fill="#22e6f0"/>
<circle cx="487.5" cy="80.3" r="2.4" fill="#22e6f0"/>
<circle cx="495.4" cy="88" r="2.4" fill="#22e6f0"/>
<circle cx="503.4" cy="95.7" r="2.4" fill="#22e6f0"/>
<circle cx="511.3" cy="103.5" r="2.4" fill="#22e6f0"/>
<circle cx="519.2" cy="111.4" r="2.4" fill="#22e6f0"/>
<circle cx="527.2" cy="119.2" r="2.4" fill="#22e6f0"/>
<circle cx="535.1" cy="127.3" r="2.4" fill="#22e6f0"/>
<circle cx="543.1" cy="135.2" r="2.4" fill="#22e6f0"/>
<circle cx="551" cy="142.8" r="2.4" fill="#22e6f0"/>
<circle cx="558.9" cy="150.4" r="2.4" fill="#22e6f0"/>
<circle cx="566.9" cy="157.7" r="2.4" fill="#22e6f0"/>
<circle cx="574.8" cy="164.9" r="2.4" fill="#22e6f0"/>
<circle cx="582.7" cy="172.3" r="2.4" fill="#22e6f0"/>
<circle cx="590.7" cy="180.5" r="2.4" fill="#22e6f0"/>
<circle cx="598.6" cy="187" r="2.4" fill="#22e6f0"/>
<circle cx="606.6" cy="191" r="2.4" fill="#22e6f0"/>
<circle cx="614.5" cy="193.4" r="2.4" fill="#22e6f0"/>
<circle cx="622.4" cy="195.2" r="2.4" fill="#22e6f0"/>
<circle cx="630.4" cy="196.2" r="2.4" fill="#22e6f0"/>
<circle cx="638.3" cy="197.2" r="2.4" fill="#22e6f0"/>
<circle cx="400.2" cy="200.7" r="2.4" fill="#22e6f0"/>
<circle cx="408.1" cy="192.4" r="2.4" fill="#22e6f0"/>
<circle cx="416.1" cy="183" r="2.4" fill="#22e6f0"/>
<circle cx="424" cy="169.8" r="2.4" fill="#22e6f0"/>
<circle cx="431.9" cy="152.2" r="2.4" fill="#22e6f0"/>
<circle cx="439.9" cy="131.8" r="2.4" fill="#22e6f0"/>
<circle cx="447.8" cy="110.8" r="2.4" fill="#22e6f0"/>
<circle cx="455.8" cy="91" r="2.4" fill="#22e6f0"/>
<circle cx="463.7" cy="75.2" r="2.4" fill="#22e6f0"/>
<circle cx="471.6" cy="62.7" r="2.4" fill="#22e6f0"/>
<circle cx="479.6" cy="53.8" r="2.4" fill="#22e6f0"/>
<circle cx="487.5" cy="47.7" r="2.4" fill="#22e6f0"/>
<circle cx="495.4" cy="43.1" r="2.4" fill="#22e6f0"/>
<circle cx="503.4" cy="39.8" r="2.4" fill="#22e6f0"/>
<circle cx="511.3" cy="37.7" r="2.4" fill="#22e6f0"/>
<circle cx="519.2" cy="36.4" r="2.4" fill="#22e6f0"/>
<circle cx="527.2" cy="35.9" r="2.4" fill="#22e6f0"/>
<circle cx="535.1" cy="36.5" r="2.4" fill="#22e6f0"/>
<circle cx="543.1" cy="37.7" r="2.4" fill="#22e6f0"/>
<circle cx="551" cy="39.4" r="2.4" fill="#22e6f0"/>
<circle cx="558.9" cy="42.1" r="2.4" fill="#22e6f0"/>
<circle cx="566.9" cy="46.2" r="2.4" fill="#22e6f0"/>
<circle cx="574.8" cy="52" r="2.4" fill="#22e6f0"/>
<circle cx="582.7" cy="60.6" r="2.4" fill="#22e6f0"/>
<circle cx="590.7" cy="72.8" r="2.4" fill="#22e6f0"/>
<circle cx="598.6" cy="88.6" r="2.4" fill="#22e6f0"/>
<circle cx="606.6" cy="109" r="2.4" fill="#22e6f0"/>
<circle cx="614.5" cy="130.4" r="2.4" fill="#22e6f0"/>
<circle cx="622.4" cy="150.7" r="2.4" fill="#22e6f0"/>
<circle cx="630.4" cy="168.2" r="2.4" fill="#22e6f0"/>
<circle cx="638.3" cy="181.7" r="2.4" fill="#22e6f0"/>
<rect x="398" y="29" width="4.4" height="4.4" fill="#f0863a"/>
<rect x="405.9" y="30.4" width="4.4" height="4.4" fill="#f0863a"/>
<rect x="413.9" y="32.5" width="4.4" height="4.4" fill="#f0863a"/>
<rect x="421.8" y="35.3" width="4.4" height="4.4" fill="#f0863a"/>
<rect x="429.7" y="39.3" width="4.4" height="4.4" fill="#f0863a"/>
<rect x="437.7" y="44.7" width="4.4" height="4.4" fill="#f0863a"/>
<rect x="445.6" y="51.1" width="4.4" height="4.4" fill="#f0863a"/>
<rect x="453.6" y="58.2" width="4.4" height="4.4" fill="#f0863a"/>
<rect x="461.5" y="65.6" width="4.4" height="4.4" fill="#f0863a"/>
<rect x="469.4" y="72.8" width="4.4" height="4.4" fill="#f0863a"/>
<rect x="477.4" y="80.3" width="4.4" height="4.4" fill="#f0863a"/>
<rect x="485.3" y="88.5" width="4.4" height="4.4" fill="#f0863a"/>
<rect x="493.2" y="97" width="4.4" height="4.4" fill="#f0863a"/>
<rect x="501.2" y="105" width="4.4" height="4.4" fill="#f0863a"/>
<rect x="509.1" y="112.7" width="4.4" height="4.4" fill="#f0863a"/>
<rect x="517" y="120.2" width="4.4" height="4.4" fill="#f0863a"/>
<rect x="525" y="127.9" width="4.4" height="4.4" fill="#f0863a"/>
<rect x="532.9" y="135.5" width="4.4" height="4.4" fill="#f0863a"/>
<rect x="540.9" y="143.4" width="4.4" height="4.4" fill="#f0863a"/>
<rect x="548.8" y="151.6" width="4.4" height="4.4" fill="#f0863a"/>
<rect x="556.7" y="159.2" width="4.4" height="4.4" fill="#f0863a"/>
<rect x="564.7" y="166.9" width="4.4" height="4.4" fill="#f0863a"/>
<rect x="572.6" y="174" width="4.4" height="4.4" fill="#f0863a"/>
<rect x="580.5" y="180.1" width="4.4" height="4.4" fill="#f0863a"/>
<rect x="588.5" y="185.7" width="4.4" height="4.4" fill="#f0863a"/>
<rect x="596.4" y="190.3" width="4.4" height="4.4" fill="#f0863a"/>
<rect x="604.4" y="193.1" width="4.4" height="4.4" fill="#f0863a"/>
<rect x="612.3" y="194.6" width="4.4" height="4.4" fill="#f0863a"/>
<rect x="620.2" y="195.5" width="4.4" height="4.4" fill="#f0863a"/>
<rect x="628.2" y="195.9" width="4.4" height="4.4" fill="#f0863a"/>
<rect x="636.1" y="196.4" width="4.4" height="4.4" fill="#f0863a"/>
<rect x="398" y="118.6" width="4.4" height="4.4" fill="#f0863a"/>
<rect x="405.9" y="103.9" width="4.4" height="4.4" fill="#f0863a"/>
<rect x="413.9" y="88.1" width="4.4" height="4.4" fill="#f0863a"/>
<rect x="421.8" y="72.6" width="4.4" height="4.4" fill="#f0863a"/>
<rect x="429.7" y="59.1" width="4.4" height="4.4" fill="#f0863a"/>
<rect x="437.7" y="48.7" width="4.4" height="4.4" fill="#f0863a"/>
<rect x="445.6" y="40.9" width="4.4" height="4.4" fill="#f0863a"/>
<rect x="453.6" y="34.8" width="4.4" height="4.4" fill="#f0863a"/>
<rect x="461.5" y="30.7" width="4.4" height="4.4" fill="#f0863a"/>
<rect x="469.4" y="29.1" width="4.4" height="4.4" fill="#f0863a"/>
<rect x="477.4" y="27.4" width="4.4" height="4.4" fill="#f0863a"/>
<rect x="485.3" y="26.6" width="4.4" height="4.4" fill="#f0863a"/>
<rect x="493.2" y="26.1" width="4.4" height="4.4" fill="#f0863a"/>
<rect x="501.2" y="26.2" width="4.4" height="4.4" fill="#f0863a"/>
<rect x="509.1" y="26.7" width="4.4" height="4.4" fill="#f0863a"/>
<rect x="517" y="27.7" width="4.4" height="4.4" fill="#f0863a"/>
<rect x="525" y="29.1" width="4.4" height="4.4" fill="#f0863a"/>
<rect x="532.9" y="31" width="4.4" height="4.4" fill="#f0863a"/>
<rect x="540.9" y="33.4" width="4.4" height="4.4" fill="#f0863a"/>
<rect x="548.8" y="36.7" width="4.4" height="4.4" fill="#f0863a"/>
<rect x="556.7" y="41.4" width="4.4" height="4.4" fill="#f0863a"/>
<rect x="564.7" y="48" width="4.4" height="4.4" fill="#f0863a"/>
<rect x="572.6" y="57.5" width="4.4" height="4.4" fill="#f0863a"/>
<rect x="580.5" y="70" width="4.4" height="4.4" fill="#f0863a"/>
<rect x="588.5" y="85.4" width="4.4" height="4.4" fill="#f0863a"/>
<rect x="596.4" y="105.3" width="4.4" height="4.4" fill="#f0863a"/>
<rect x="604.4" y="126.9" width="4.4" height="4.4" fill="#f0863a"/>
<rect x="612.3" y="148.1" width="4.4" height="4.4" fill="#f0863a"/>
<rect x="620.2" y="166.8" width="4.4" height="4.4" fill="#f0863a"/>
<rect x="628.2" y="181.4" width="4.4" height="4.4" fill="#f0863a"/>
<rect x="636.1" y="191.1" width="4.4" height="4.4" fill="#f0863a"/>
<polygon points="400.2,12.8 403,15.9 400.2,19 397.4,15.9" fill="#2ee62e"/>
<polygon points="408.1,14.4 410.9,17.5 408.1,20.6 405.3,17.5" fill="#2ee62e"/>
<polygon points="416.1,17.7 418.9,20.8 416.1,23.9 413.3,20.8" fill="#2ee62e"/>
<polygon points="424,22.4 426.8,25.5 424,28.6 421.2,25.5" fill="#2ee62e"/>
<polygon points="431.9,28.5 434.7,31.6 431.9,34.7 429.1,31.6" fill="#2ee62e"/>
<polygon points="439.9,34.9 442.7,38 439.9,41.1 437.1,38" fill="#2ee62e"/>
<polygon points="447.8,42.3 450.6,45.4 447.8,48.5 445,45.4" fill="#2ee62e"/>
<polygon points="455.8,50.2 458.6,53.3 455.8,56.4 453,53.3" fill="#2ee62e"/>
<polygon points="463.7,58.2 466.5,61.3 463.7,64.4 460.9,61.3" fill="#2ee62e"/>
<polygon points="471.6,65.2 474.4,68.3 471.6,71.4 468.8,68.3" fill="#2ee62e"/>
<polygon points="479.6,72.7 482.4,75.8 479.6,78.9 476.8,75.8" fill="#2ee62e"/>
<polygon points="487.5,81.6 490.3,84.7 487.5,87.8 484.7,84.7" fill="#2ee62e"/>
<polygon points="495.4,90.6 498.2,93.7 495.4,96.8 492.6,93.7" fill="#2ee62e"/>
<polygon points="503.4,98.8 506.2,101.9 503.4,105 500.6,101.9" fill="#2ee62e"/>
<polygon points="511.3,107 514.1,110.1 511.3,113.2 508.5,110.1" fill="#2ee62e"/>
<polygon points="519.2,115.2 522,118.3 519.2,121.4 516.5,118.3" fill="#2ee62e"/>
<polygon points="527.2,123.4 530,126.5 527.2,129.6 524.4,126.5" fill="#2ee62e"/>
<polygon points="535.1,132.1 537.9,135.2 535.1,138.3 532.3,135.2" fill="#2ee62e"/>
<polygon points="543.1,140.5 545.9,143.6 543.1,146.7 540.3,143.6" fill="#2ee62e"/>
<polygon points="551,148.3 553.8,151.4 551,154.5 548.2,151.4" fill="#2ee62e"/>
<polygon points="558.9,155.9 561.7,159 558.9,162.1 556.1,159" fill="#2ee62e"/>
<polygon points="566.9,163.8 569.7,166.9 566.9,170 564.1,166.9" fill="#2ee62e"/>
<polygon points="574.8,171.5 577.6,174.6 574.8,177.7 572,174.6" fill="#2ee62e"/>
<polygon points="582.7,178.7 585.5,181.8 582.7,184.9 579.9,181.8" fill="#2ee62e"/>
<polygon points="590.7,184.4 593.5,187.5 590.7,190.6 587.9,187.5" fill="#2ee62e"/>
<polygon points="598.6,189.4 601.4,192.5 598.6,195.6 595.8,192.5" fill="#2ee62e"/>
<polygon points="606.6,193.4 609.4,196.5 606.6,199.6 603.8,196.5" fill="#2ee62e"/>
<polygon points="614.5,196.3 617.3,199.4 614.5,202.5 611.7,199.4" fill="#2ee62e"/>
<polygon points="622.4,198.4 625.2,201.5 622.4,204.6 619.6,201.5" fill="#2ee62e"/>
<polygon points="630.4,199.6 633.2,202.7 630.4,205.8 627.6,202.7" fill="#2ee62e"/>
<polygon points="638.3,199.7 641.1,202.8 638.3,205.9 635.5,202.8" fill="#2ee62e"/>
<polygon points="400.2,135 403,138.1 400.2,141.2 397.4,138.1" fill="#2ee62e"/>
<polygon points="408.1,117.9 410.9,121 408.1,124.1 405.3,121" fill="#2ee62e"/>
<polygon points="416.1,104 418.9,107.1 416.1,110.2 413.3,107.1" fill="#2ee62e"/>
<polygon points="424,90.3 426.8,93.4 424,96.5 421.2,93.4" fill="#2ee62e"/>
<polygon points="431.9,75 434.7,78.1 431.9,81.2 429.1,78.1" fill="#2ee62e"/>
<polygon points="439.9,60.4 442.7,63.5 439.9,66.6 437.1,63.5" fill="#2ee62e"/>
<polygon points="447.8,48.4 450.6,51.5 447.8,54.6 445,51.5" fill="#2ee62e"/>
<polygon points="455.8,39 458.6,42.1 455.8,45.2 453,42.1" fill="#2ee62e"/>
<polygon points="463.7,32.3 466.5,35.4 463.7,38.5 460.9,35.4" fill="#2ee62e"/>
<polygon points="471.6,27.5 474.4,30.6 471.6,33.7 468.8,30.6" fill="#2ee62e"/>
<polygon points="479.6,24.4 482.4,27.5 479.6,30.6 476.8,27.5" fill="#2ee62e"/>
<polygon points="487.5,22.4 490.3,25.5 487.5,28.6 484.7,25.5" fill="#2ee62e"/>
<polygon points="495.4,21.4 498.2,24.5 495.4,27.6 492.6,24.5" fill="#2ee62e"/>
<polygon points="503.4,21.1 506.2,24.2 503.4,27.3 500.6,24.2" fill="#2ee62e"/>
<polygon points="511.3,21 514.1,24.1 511.3,27.2 508.5,24.1" fill="#2ee62e"/>
<polygon points="519.2,21.3 522,24.4 519.2,27.5 516.5,24.4" fill="#2ee62e"/>
<polygon points="527.2,21.7 530,24.8 527.2,27.9 524.4,24.8" fill="#2ee62e"/>
<polygon points="535.1,23 537.9,26.1 535.1,29.2 532.3,26.1" fill="#2ee62e"/>
<polygon points="543.1,25.2 545.9,28.3 543.1,31.4 540.3,28.3" fill="#2ee62e"/>
<polygon points="551,28.7 553.8,31.8 551,34.9 548.2,31.8" fill="#2ee62e"/>
<polygon points="558.9,34.1 561.7,37.2 558.9,40.3 556.1,37.2" fill="#2ee62e"/>
<polygon points="566.9,40.7 569.7,43.8 566.9,46.9 564.1,43.8" fill="#2ee62e"/>
<polygon points="574.8,49.8 577.6,52.9 574.8,56 572,52.9" fill="#2ee62e"/>
<polygon points="582.7,62.8 585.5,65.9 582.7,69 579.9,65.9" fill="#2ee62e"/>
<polygon points="590.7,79.3 593.5,82.4 590.7,85.5 587.9,82.4" fill="#2ee62e"/>
<polygon points="598.6,98.4 601.4,101.5 598.6,104.6 595.8,101.5" fill="#2ee62e"/>
<polygon points="606.6,120.2 609.4,123.3 606.6,126.4 603.8,123.3" fill="#2ee62e"/>
<polygon points="614.5,142.2 617.3,145.3 614.5,148.4 611.7,145.3" fill="#2ee62e"/>
<polygon points="622.4,161.3 625.2,164.4 622.4,167.5 619.6,164.4" fill="#2ee62e"/>
<polygon points="630.4,175.6 633.2,178.7 630.4,181.8 627.6,178.7" fill="#2ee62e"/>
<polygon points="638.3,187 641.1,190.1 638.3,193.2 635.5,190.1" fill="#2ee62e"/>
<polygon points="397.7,17.2 402.4,14.4 402.4,20" fill="#8a2ee8"/>
<polygon points="405.6,18.9 410.3,16.1 410.3,21.7" fill="#8a2ee8"/>
<polygon points="413.6,22.1 418.3,19.3 418.3,24.9" fill="#8a2ee8"/>
<polygon points="421.5,26.9 426.2,24.1 426.2,29.7" fill="#8a2ee8"/>
<polygon points="429.4,33 434.1,30.2 434.1,35.8" fill="#8a2ee8"/>
<polygon points="437.4,39.8 442.1,37 442.1,42.6" fill="#8a2ee8"/>
<polygon points="445.3,47.1 450,44.3 450,49.9" fill="#8a2ee8"/>
<polygon points="453.3,54.7 458,51.9 458,57.5" fill="#8a2ee8"/>
<polygon points="461.2,62.5 465.9,59.7 465.9,65.3" fill="#8a2ee8"/>
<polygon points="469.1,70.4 473.8,67.6 473.8,73.2" fill="#8a2ee8"/>
<polygon points="477.1,78.3 481.8,75.5 481.8,81.1" fill="#8a2ee8"/>
<polygon points="485,86.3 489.7,83.5 489.7,89.1" fill="#8a2ee8"/>
<polygon points="492.9,94.4 497.6,91.6 497.6,97.2" fill="#8a2ee8"/>
<polygon points="500.9,102.4 505.6,99.6 505.6,105.2" fill="#8a2ee8"/>
<polygon points="508.8,110.4 513.5,107.6 513.5,113.2" fill="#8a2ee8"/>
<polygon points="516.8,118.4 521.5,115.6 521.5,121.2" fill="#8a2ee8"/>
<polygon points="524.7,126.4 529.4,123.6 529.4,129.2" fill="#8a2ee8"/>
<polygon points="532.6,134.3 537.3,131.5 537.3,137.1" fill="#8a2ee8"/>
<polygon points="540.6,142.2 545.3,139.4 545.3,145" fill="#8a2ee8"/>
<polygon points="548.5,150.1 553.2,147.3 553.2,152.9" fill="#8a2ee8"/>
<polygon points="556.4,157.8 561.1,155 561.1,160.6" fill="#8a2ee8"/>
<polygon points="564.4,165.3 569.1,162.5 569.1,168.1" fill="#8a2ee8"/>
<polygon points="572.3,172.3 577,169.5 577,175.1" fill="#8a2ee8"/>
<polygon points="580.2,178.6 584.9,175.8 584.9,181.4" fill="#8a2ee8"/>
<polygon points="588.2,183.7 592.9,180.9 592.9,186.5" fill="#8a2ee8"/>
<polygon points="596.1,187.6 600.8,184.8 600.8,190.4" fill="#8a2ee8"/>
<polygon points="604.1,190 608.8,187.2 608.8,192.8" fill="#8a2ee8"/>
<polygon points="612,191.3 616.7,188.5 616.7,194.1" fill="#8a2ee8"/>
<polygon points="619.9,191.8 624.6,189 624.6,194.6" fill="#8a2ee8"/>
<polygon points="627.9,192.1 632.6,189.3 632.6,194.9" fill="#8a2ee8"/>
<polygon points="635.8,192.5 640.5,189.7 640.5,195.3" fill="#8a2ee8"/>
<polygon points="397.7,131.8 402.4,129 402.4,134.6" fill="#8a2ee8"/>
<polygon points="405.6,113.6 410.3,110.8 410.3,116.4" fill="#8a2ee8"/>
<polygon points="413.6,96.7 418.3,93.9 418.3,99.5" fill="#8a2ee8"/>
<polygon points="421.5,83.1 426.2,80.3 426.2,85.9" fill="#8a2ee8"/>
<polygon points="429.4,68.5 434.1,65.7 434.1,71.3" fill="#8a2ee8"/>
<polygon points="437.4,56.4 442.1,53.6 442.1,59.2" fill="#8a2ee8"/>
<polygon points="445.3,47.1 450,44.3 450,49.9" fill="#8a2ee8"/>
<polygon points="453.3,40.4 458,37.6 458,43.2" fill="#8a2ee8"/>
<polygon points="461.2,35.8 465.9,33 465.9,38.6" fill="#8a2ee8"/>
<polygon points="469.1,32.7 473.8,29.9 473.8,35.5" fill="#8a2ee8"/>
<polygon points="477.1,30.6 481.8,27.8 481.8,33.4" fill="#8a2ee8"/>
<polygon points="485,28.3 489.7,25.5 489.7,31.1" fill="#8a2ee8"/>
<polygon points="492.9,27 497.6,24.2 497.6,29.8" fill="#8a2ee8"/>
<polygon points="500.9,27.3 505.6,24.5 505.6,30.1" fill="#8a2ee8"/>
<polygon points="508.8,27.4 513.5,24.6 513.5,30.2" fill="#8a2ee8"/>
<polygon points="516.8,28.3 521.5,25.5 521.5,31.1" fill="#8a2ee8"/>
<polygon points="524.7,29.5 529.4,26.7 529.4,32.3" fill="#8a2ee8"/>
<polygon points="532.6,31.3 537.3,28.5 537.3,34.1" fill="#8a2ee8"/>
<polygon points="540.6,34.3 545.3,31.5 545.3,37.1" fill="#8a2ee8"/>
<polygon points="548.5,38.1 553.2,35.3 553.2,40.9" fill="#8a2ee8"/>
<polygon points="556.4,44.2 561.1,41.4 561.1,47" fill="#8a2ee8"/>
<polygon points="564.4,50.7 569.1,47.9 569.1,53.5" fill="#8a2ee8"/>
<polygon points="572.3,61.1 577,58.3 577,63.9" fill="#8a2ee8"/>
<polygon points="580.2,75.8 584.9,73 584.9,78.6" fill="#8a2ee8"/>
<polygon points="588.2,94.8 592.9,92 592.9,97.6" fill="#8a2ee8"/>
<polygon points="596.1,117.3 600.8,114.5 600.8,120.1" fill="#8a2ee8"/>
<polygon points="604.1,141 608.8,138.2 608.8,143.8" fill="#8a2ee8"/>
<polygon points="612,162.2 616.7,159.4 616.7,165" fill="#8a2ee8"/>
<polygon points="619.9,178.2 624.6,175.4 624.6,181" fill="#8a2ee8"/>
<polygon points="627.9,189.4 632.6,186.6 632.6,192.2" fill="#8a2ee8"/>
<polygon points="635.8,197.1 640.5,194.3 640.5,199.9" fill="#8a2ee8"/>
<polygon points="397.4,7.1 403,7.1 400.2,11.8" fill="#f02ef0"/>
<polygon points="405.3,8.5 410.9,8.5 408.1,13.2" fill="#f02ef0"/>
<polygon points="413.3,12.4 418.9,12.4 416.1,17.1" fill="#f02ef0"/>
<polygon points="421.2,17.7 426.8,17.7 424,22.4" fill="#f02ef0"/>
<polygon points="429.1,23.6 434.7,23.6 431.9,28.3" fill="#f02ef0"/>
<polygon points="437.1,30.7 442.7,30.7 439.9,35.4" fill="#f02ef0"/>
<polygon points="445,38.2 450.6,38.2 447.8,42.9" fill="#f02ef0"/>
<polygon points="453,45.8 458.6,45.8 455.8,50.5" fill="#f02ef0"/>
<polygon points="460.9,53.6 466.5,53.6 463.7,58.3" fill="#f02ef0"/>
<polygon points="468.8,61.3 474.4,61.3 471.6,66" fill="#f02ef0"/>
<polygon points="476.8,69.1 482.4,69.1 479.6,73.8" fill="#f02ef0"/>
<polygon points="484.7,77.2 490.3,77.2 487.5,81.9" fill="#f02ef0"/>
<polygon points="492.6,85.2 498.2,85.2 495.4,89.9" fill="#f02ef0"/>
<polygon points="500.6,93.1 506.2,93.1 503.4,97.8" fill="#f02ef0"/>
<polygon points="508.5,101 514.1,101 511.3,105.7" fill="#f02ef0"/>
<polygon points="516.5,109.2 522,109.2 519.2,113.9" fill="#f02ef0"/>
<polygon points="524.4,117 530,117 527.2,121.7" fill="#f02ef0"/>
<polygon points="532.3,125.2 537.9,125.2 535.1,129.9" fill="#f02ef0"/>
<polygon points="540.3,133.3 545.9,133.3 543.1,138" fill="#f02ef0"/>
<polygon points="548.2,141.2 553.8,141.2 551,145.9" fill="#f02ef0"/>
<polygon points="556.1,149 561.7,149 558.9,153.7" fill="#f02ef0"/>
<polygon points="564.1,156.6 569.7,156.6 566.9,161.3" fill="#f02ef0"/>
<polygon points="572,164.2 577.6,164.2 574.8,168.9" fill="#f02ef0"/>
<polygon points="579.9,170.3 585.5,170.3 582.7,175" fill="#f02ef0"/>
<polygon points="587.9,175.4 593.5,175.4 590.7,180.1" fill="#f02ef0"/>
<polygon points="595.8,181.4 601.4,181.4 598.6,186.1" fill="#f02ef0"/>
<polygon points="603.8,186.7 609.4,186.7 606.6,191.4" fill="#f02ef0"/>
<polygon points="611.7,189.5 617.3,189.5 614.5,194.2" fill="#f02ef0"/>
<polygon points="619.6,190.7 625.2,190.7 622.4,195.4" fill="#f02ef0"/>
<polygon points="627.6,191.4 633.2,191.4 630.4,196.1" fill="#f02ef0"/>
<polygon points="635.5,192 641.1,192 638.3,196.7" fill="#f02ef0"/>
<polygon points="397.4,116.3 403,116.3 400.2,121" fill="#f02ef0"/>
<polygon points="405.3,90.8 410.9,90.8 408.1,95.5" fill="#f02ef0"/>
<polygon points="413.3,71.8 418.9,71.8 416.1,76.5" fill="#f02ef0"/>
<polygon points="421.2,57.6 426.8,57.6 424,62.3" fill="#f02ef0"/>
<polygon points="429.1,47.4 434.7,47.4 431.9,52.1" fill="#f02ef0"/>
<polygon points="437.1,38.9 442.7,38.9 439.9,43.6" fill="#f02ef0"/>
<polygon points="445,32.7 450.6,32.7 447.8,37.4" fill="#f02ef0"/>
<polygon points="453,29.1 458.6,29.1 455.8,33.8" fill="#f02ef0"/>
<polygon points="460.9,26.5 466.5,26.5 463.7,31.2" fill="#f02ef0"/>
<polygon points="468.8,24.8 474.4,24.8 471.6,29.5" fill="#f02ef0"/>
<polygon points="476.8,23.7 482.4,23.7 479.6,28.4" fill="#f02ef0"/>
<polygon points="484.7,23.2 490.3,23.2 487.5,27.9" fill="#f02ef0"/>
<polygon points="492.6,23.4 498.2,23.4 495.4,28.1" fill="#f02ef0"/>
<polygon points="500.6,23.9 506.2,23.9 503.4,28.6" fill="#f02ef0"/>
<polygon points="508.5,24.4 514.1,24.4 511.3,29.1" fill="#f02ef0"/>
<polygon points="516.5,24.9 522,24.9 519.2,29.6" fill="#f02ef0"/>
<polygon points="524.4,26 530,26 527.2,30.7" fill="#f02ef0"/>
<polygon points="532.3,28 537.9,28 535.1,32.7" fill="#f02ef0"/>
<polygon points="540.3,30.6 545.9,30.6 543.1,35.3" fill="#f02ef0"/>
<polygon points="548.2,33.6 553.8,33.6 551,38.3" fill="#f02ef0"/>
<polygon points="556.1,38.3 561.7,38.3 558.9,43" fill="#f02ef0"/>
<polygon points="564.1,45.2 569.7,45.2 566.9,49.9" fill="#f02ef0"/>
<polygon points="572,53.7 577.6,53.7 574.8,58.4" fill="#f02ef0"/>
<polygon points="579.9,62.8 585.5,62.8 582.7,67.5" fill="#f02ef0"/>
<polygon points="587.9,74 593.5,74 590.7,78.7" fill="#f02ef0"/>
<polygon points="595.8,89.8 601.4,89.8 598.6,94.5" fill="#f02ef0"/>
<polygon points="603.8,109.9 609.4,109.9 606.6,114.6" fill="#f02ef0"/>
<polygon points="611.7,130.8 617.3,130.8 614.5,135.5" fill="#f02ef0"/>
<polygon points="619.6,151.3 625.2,151.3 622.4,156" fill="#f02ef0"/>
<polygon points="627.6,168.2 633.2,168.2 630.4,172.9" fill="#f02ef0"/>
<polygon points="635.5,181.7 641.1,181.7 638.3,186.4" fill="#f02ef0"/>
<polygon points="397.4,28.8 403,28.8 400.2,24.1" fill="#1c1ce0"/>
<polygon points="405.3,30.4 410.9,30.4 408.1,25.7" fill="#1c1ce0"/>
<polygon points="413.3,33.3 418.9,33.3 416.1,28.6" fill="#1c1ce0"/>
<polygon points="421.2,37 426.8,37 424,32.3" fill="#1c1ce0"/>
<polygon points="429.1,41.7 434.7,41.7 431.9,37" fill="#1c1ce0"/>
<polygon points="437.1,47.6 442.7,47.6 439.9,42.9" fill="#1c1ce0"/>
<polygon points="445,53.8 450.6,53.8 447.8,49.1" fill="#1c1ce0"/>
<polygon points="453,60.4 458.6,60.4 455.8,55.7" fill="#1c1ce0"/>
<polygon points="460.9,67.7 466.5,67.7 463.7,63" fill="#1c1ce0"/>
<polygon points="468.8,74 474.4,74 471.6,69.3" fill="#1c1ce0"/>
<polygon points="476.8,80.9 482.4,80.9 479.6,76.2" fill="#1c1ce0"/>
<polygon points="484.7,89.3 490.3,89.3 487.5,84.6" fill="#1c1ce0"/>
<polygon points="492.6,97.8 498.2,97.8 495.4,93.1" fill="#1c1ce0"/>
<polygon points="500.6,105.5 506.2,105.5 503.4,100.8" fill="#1c1ce0"/>
<polygon points="508.5,113.3 514.1,113.3 511.3,108.6" fill="#1c1ce0"/>
<polygon points="516.5,121.2 522,121.2 519.2,116.5" fill="#1c1ce0"/>
<polygon points="524.4,129 530,129 527.2,124.3" fill="#1c1ce0"/>
<polygon points="532.3,136.3 537.9,136.3 535.1,131.6" fill="#1c1ce0"/>
<polygon points="540.3,143.7 545.9,143.7 543.1,139" fill="#1c1ce0"/>
<polygon points="548.2,151.3 553.8,151.3 551,146.6" fill="#1c1ce0"/>
<polygon points="556.1,158.6 561.7,158.6 558.9,153.9" fill="#1c1ce0"/>
<polygon points="564.1,165.9 569.7,165.9 566.9,161.2" fill="#1c1ce0"/>
<polygon points="572,173.1 577.6,173.1 574.8,168.4" fill="#1c1ce0"/>
<polygon points="579.9,178.5 585.5,178.5 582.7,173.8" fill="#1c1ce0"/>
<polygon points="587.9,182.7 593.5,182.7 590.7,178" fill="#1c1ce0"/>
<polygon points="595.8,185.9 601.4,185.9 598.6,181.2" fill="#1c1ce0"/>
<polygon points="603.8,188 609.4,188 606.6,183.3" fill="#1c1ce0"/>
<polygon points="611.7,189.5 617.3,189.5 614.5,184.8" fill="#1c1ce0"/>
<polygon points="619.6,190.6 625.2,190.6 622.4,185.9" fill="#1c1ce0"/>
<polygon points="627.6,191.4 633.2,191.4 630.4,186.7" fill="#1c1ce0"/>
<polygon points="635.5,191.6 641.1,191.6 638.3,186.9" fill="#1c1ce0"/>
<polygon points="397.4,163.3 403,163.3 400.2,158.6" fill="#1c1ce0"/>
<polygon points="405.3,147.9 410.9,147.9 408.1,143.2" fill="#1c1ce0"/>
<polygon points="413.3,131.7 418.9,131.7 416.1,127" fill="#1c1ce0"/>
<polygon points="421.2,114.3 426.8,114.3 424,109.6" fill="#1c1ce0"/>
<polygon points="429.1,98 434.7,98 431.9,93.3" fill="#1c1ce0"/>
<polygon points="437.1,84.6 442.7,84.6 439.9,79.9" fill="#1c1ce0"/>
<polygon points="445,73.4 450.6,73.4 447.8,68.7" fill="#1c1ce0"/>
<polygon points="453,63.4 458.6,63.4 455.8,58.7" fill="#1c1ce0"/>
<polygon points="460.9,57.7 466.5,57.7 463.7,53" fill="#1c1ce0"/>
<polygon points="468.8,53.7 474.4,53.7 471.6,49" fill="#1c1ce0"/>
<polygon points="476.8,49.9 482.4,49.9 479.6,45.2" fill="#1c1ce0"/>
<polygon points="484.7,46.6 490.3,46.6 487.5,41.9" fill="#1c1ce0"/>
<polygon points="492.6,44.1 498.2,44.1 495.4,39.4" fill="#1c1ce0"/>
<polygon points="500.6,42.4 506.2,42.4 503.4,37.7" fill="#1c1ce0"/>
<polygon points="508.5,41.3 514.1,41.3 511.3,36.6" fill="#1c1ce0"/>
<polygon points="516.5,40.8 522,40.8 519.2,36.1" fill="#1c1ce0"/>
<polygon points="524.4,41.4 530,41.4 527.2,36.7" fill="#1c1ce0"/>
<polygon points="532.3,42.4 537.9,42.4 535.1,37.7" fill="#1c1ce0"/>
<polygon points="540.3,44.2 545.9,44.2 543.1,39.5" fill="#1c1ce0"/>
<polygon points="548.2,47.8 553.8,47.8 551,43.1" fill="#1c1ce0"/>
<polygon points="556.1,54.1 561.7,54.1 558.9,49.4" fill="#1c1ce0"/>
<polygon points="564.1,63.3 569.7,63.3 566.9,58.6" fill="#1c1ce0"/>
<polygon points="572,76.2 577.6,76.2 574.8,71.5" fill="#1c1ce0"/>
<polygon points="579.9,94.2 585.5,94.2 582.7,89.5" fill="#1c1ce0"/>
<polygon points="587.9,115.3 593.5,115.3 590.7,110.6" fill="#1c1ce0"/>
<polygon points="595.8,136.2 601.4,136.2 598.6,131.5" fill="#1c1ce0"/>
<polygon points="603.8,155.6 609.4,155.6 606.6,150.9" fill="#1c1ce0"/>
<polygon points="611.7,171.2 617.3,171.2 614.5,166.5" fill="#1c1ce0"/>
<polygon points="619.6,182.4 625.2,182.4 622.4,177.7" fill="#1c1ce0"/>
<polygon points="627.6,191.4 633.2,191.4 630.4,186.7" fill="#1c1ce0"/>
<polygon points="635.5,199.2 641.1,199.2 638.3,194.5" fill="#1c1ce0"/>
<g fill="none" stroke="#333" stroke-width="0.9"><polyline points="400.2,40.7 401.2,40.7 402.2,40.7 403.2,40.7 404.2,40.7 405.2,40.7 406.2,40.8 407.1,40.8 408.1,40.8 409.1,40.8 410.1,40.9 411.1,40.9 412.1,41 413.1,41 414.1,41.1 415.1,41.1 416.1,41.2 417.1,41.3 418.1,41.4 419,41.5 420,41.6 421,41.8 422,41.9 423,42 424,42.2 425,42.4 426,42.5 427,42.7 428,42.9 429,43.1 430,43.3 431,43.5 431.9,43.8 432.9,44 433.9,44.2 434.9,44.4 435.9,44.7 436.9,44.9 437.9,45.2 438.9,45.4 439.9,45.7 440.9,46 441.9,46.3 442.9,46.6 443.9,46.9 444.8,47.3 445.8,47.7 446.8,48.2 447.8,48.6 448.8,49.1 449.8,49.7 450.8,50.2 451.8,50.8 452.8,51.3 453.8,52 454.8,52.6 455.8,53.2 456.7,53.9 457.7,54.6 458.7,55.3 459.7,56 460.7,56.7 461.7,57.5 462.7,58.2 463.7,59 464.7,59.8 465.7,60.6 466.7,61.4 467.7,62.3 468.7,63.1 469.6,63.9 470.6,64.8 471.6,65.7 472.6,66.5 473.6,67.4 474.6,68.3 475.6,69.2 476.6,70.1 477.6,71 478.6,71.9 479.6,72.9 480.6,73.8 481.6,74.7 482.5,75.6 483.5,76.6 484.5,77.5 485.5,78.5 486.5,79.4 487.5,80.3 488.5,81.3 489.5,82.2 490.5,83.2 491.5,84.2 492.5,85.1 493.5,86.1 494.4,87 495.4,88 496.4,89 497.4,89.9 498.4,90.9 499.4,91.9 500.4,92.8 501.4,93.8 502.4,94.8 503.4,95.7 504.4,96.7 505.4,97.7 506.4,98.7 507.3,99.6 508.3,100.6 509.3,101.6 510.3,102.6 511.3,103.5 512.3,104.5 513.3,105.5 514.3,106.5 515.3,107.5 516.3,108.4 517.3,109.4 518.3,110.4 519.2,111.4 520.2,112.4 521.2,113.3 522.2,114.3 523.2,115.3 524.2,116.3 525.2,117.3 526.2,118.2 527.2,119.2 528.2,120.2 529.2,121.2 530.2,122.2 531.2,123.2 532.1,124.2 533.1,125.2 534.1,126.2 535.1,127.3 536.1,128.3 537.1,129.3 538.1,130.3 539.1,131.3 540.1,132.3 541.1,133.3 542.1,134.3 543.1,135.2 544.1,136.2 545,137.2 546,138.1 547,139.1 548,140 549,141 550,141.9 551,142.8 552,143.8 553,144.7 554,145.6 555,146.6 556,147.5 556.9,148.5 557.9,149.4 558.9,150.4 559.9,151.3 560.9,152.2 561.9,153.1 562.9,154.1 563.9,155 564.9,155.9 565.9,156.8 566.9,157.7 567.9,158.6 568.9,159.5 569.8,160.4 570.8,161.3 571.8,162.2 572.8,163.1 573.8,164 574.8,164.9 575.8,165.8 576.8,166.8 577.8,167.7 578.8,168.6 579.8,169.5 580.8,170.4 581.8,171.4 582.7,172.3 583.7,173.3 584.7,174.3 585.7,175.3 586.7,176.3 587.7,177.4 588.7,178.5 589.7,179.5 590.7,180.5 591.7,181.5 592.7,182.4 593.7,183.3 594.6,184.1 595.6,184.9 596.6,185.6 597.6,186.4 598.6,187 599.6,187.7 600.6,188.3 601.6,188.8 602.6,189.4 603.6,189.8 604.6,190.3 605.6,190.7 606.6,191 607.5,191.3 608.5,191.6 609.5,191.9 610.5,192.2 611.5,192.5 612.5,192.8 613.5,193.1 614.5,193.4 615.5,193.7 616.5,194 617.5,194.2 618.5,194.5 619.5,194.7 620.4,194.8 621.4,195 622.4,195.2 623.4,195.3 624.4,195.5 625.4,195.6 626.4,195.7 627.4,195.9 628.4,196 629.4,196.1 630.4,196.2 631.4,196.4 632.3,196.5 633.3,196.6 634.3,196.7 635.3,196.8 636.3,196.9 637.3,197.1 638.3,197.2"/><polyline points="400.2,200.7 401.2,199.8 402.2,198.9 403.2,197.9 404.2,196.8 405.2,195.7 406.2,194.6 407.1,193.5 408.1,192.4 409.1,191.3 410.1,190.2 411.1,189.1 412.1,188 413.1,186.8 414.1,185.6 415.1,184.3 416.1,183 417.1,181.6 418.1,180.1 419,178.6 420,177 421,175.3 422,173.5 423,171.7 424,169.8 425,167.8 426,165.7 427,163.6 428,161.4 429,159.2 430,156.9 431,154.6 431.9,152.2 432.9,149.7 433.9,147.3 434.9,144.8 435.9,142.2 436.9,139.6 437.9,137.1 438.9,134.5 439.9,131.8 440.9,129.2 441.9,126.6 442.9,124 443.9,121.4 444.8,118.7 445.8,116.1 446.8,113.5 447.8,110.8 448.8,108.2 449.8,105.6 450.8,103 451.8,100.5 452.8,98 453.8,95.6 454.8,93.2 455.8,91 456.7,88.8 457.7,86.6 458.7,84.6 459.7,82.6 460.7,80.7 461.7,78.8 462.7,77 463.7,75.2 464.7,73.5 465.7,71.8 466.7,70.1 467.7,68.5 468.7,67 469.6,65.5 470.6,64.1 471.6,62.7 472.6,61.4 473.6,60.2 474.6,59 475.6,57.9 476.6,56.8 477.6,55.8 478.6,54.8 479.6,53.8 480.6,52.9 481.6,52.1 482.5,51.3 483.5,50.5 484.5,49.7 485.5,49 486.5,48.3 487.5,47.7 488.5,47 489.5,46.4 490.5,45.8 491.5,45.2 492.5,44.6 493.5,44.1 494.4,43.6 495.4,43.1 496.4,42.6 497.4,42.1 498.4,41.7 499.4,41.3 500.4,40.9 501.4,40.5 502.4,40.1 503.4,39.8 504.4,39.5 505.4,39.2 506.4,38.9 507.3,38.6 508.3,38.4 509.3,38.1 510.3,37.9 511.3,37.7 512.3,37.5 513.3,37.3 514.3,37.1 515.3,36.9 516.3,36.8 517.3,36.6 518.3,36.5 519.2,36.4 520.2,36.3 521.2,36.2 522.2,36.1 523.2,36.1 524.2,36 525.2,36 526.2,35.9 527.2,35.9 528.2,35.9 529.2,36 530.2,36 531.2,36 532.1,36.1 533.1,36.2 534.1,36.3 535.1,36.5 536.1,36.6 537.1,36.8 538.1,36.9 539.1,37.1 540.1,37.2 541.1,37.4 542.1,37.6 543.1,37.7 544.1,37.9 545,38.1 546,38.3 547,38.5 548,38.7 549,38.9 550,39.1 551,39.4 552,39.7 553,40 554,40.3 555,40.6 556,40.9 556.9,41.3 557.9,41.7 558.9,42.1 559.9,42.5 560.9,43 561.9,43.4 562.9,43.9 563.9,44.5 564.9,45 565.9,45.6 566.9,46.2 567.9,46.8 568.9,47.5 569.8,48.1 570.8,48.9 571.8,49.6 572.8,50.4 573.8,51.2 574.8,52 575.8,52.9 576.8,53.8 577.8,54.8 578.8,55.9 579.8,57 580.8,58.1 581.8,59.3 582.7,60.6 583.7,61.9 584.7,63.3 585.7,64.8 586.7,66.3 587.7,67.9 588.7,69.5 589.7,71.1 590.7,72.8 591.7,74.6 592.7,76.4 593.7,78.3 594.6,80.2 595.6,82.2 596.6,84.3 597.6,86.4 598.6,88.6 599.6,91 600.6,93.4 601.6,95.8 602.6,98.4 603.6,101 604.6,103.6 605.6,106.3 606.6,109 607.5,111.6 608.5,114.3 609.5,117 610.5,119.7 611.5,122.4 612.5,125.1 613.5,127.7 614.5,130.4 615.5,133 616.5,135.6 617.5,138.2 618.5,140.7 619.5,143.3 620.4,145.8 621.4,148.3 622.4,150.7 623.4,153.1 624.4,155.4 625.4,157.7 626.4,159.9 627.4,162.1 628.4,164.1 629.4,166.2 630.4,168.2 631.4,170.1 632.3,171.9 633.3,173.7 634.3,175.4 635.3,177.1 636.3,178.7 637.3,180.2 638.3,181.7"/><polyline points="400.2,31.2 401.2,31.3 402.2,31.5 403.2,31.6 404.2,31.8 405.2,31.9 406.2,32.1 407.1,32.3 408.1,32.6 409.1,32.8 410.1,33 411.1,33.3 412.1,33.6 413.1,33.8 414.1,34.1 415.1,34.4 416.1,34.7 417.1,35 418.1,35.3 419,35.6 420,35.9 421,36.3 422,36.7 423,37.1 424,37.5 425,37.9 426,38.4 427,38.8 428,39.3 429,39.8 430,40.4 431,40.9 431.9,41.5 432.9,42.1 433.9,42.7 434.9,43.4 435.9,44 436.9,44.7 437.9,45.4 438.9,46.1 439.9,46.9 440.9,47.6 441.9,48.4 442.9,49.2 443.9,50 444.8,50.8 445.8,51.6 446.8,52.5 447.8,53.3 448.8,54.2 449.8,55.1 450.8,55.9 451.8,56.8 452.8,57.7 453.8,58.6 454.8,59.5 455.8,60.4 456.7,61.3 457.7,62.2 458.7,63.2 459.7,64.1 460.7,65 461.7,66 462.7,66.9 463.7,67.8 464.7,68.8 465.7,69.7 466.7,70.6 467.7,71.5 468.7,72.4 469.6,73.3 470.6,74.1 471.6,75 472.6,75.9 473.6,76.8 474.6,77.8 475.6,78.7 476.6,79.6 477.6,80.6 478.6,81.5 479.6,82.5 480.6,83.5 481.6,84.5 482.5,85.5 483.5,86.5 484.5,87.5 485.5,88.5 486.5,89.6 487.5,90.7 488.5,91.7 489.5,92.8 490.5,93.9 491.5,95 492.5,96 493.5,97.1 494.4,98.1 495.4,99.2 496.4,100.2 497.4,101.2 498.4,102.2 499.4,103.2 500.4,104.2 501.4,105.2 502.4,106.2 503.4,107.2 504.4,108.2 505.4,109.2 506.4,110.1 507.3,111.1 508.3,112.1 509.3,113 510.3,114 511.3,114.9 512.3,115.9 513.3,116.8 514.3,117.7 515.3,118.7 516.3,119.6 517.3,120.5 518.3,121.5 519.2,122.4 520.2,123.4 521.2,124.4 522.2,125.3 523.2,126.3 524.2,127.3 525.2,128.2 526.2,129.2 527.2,130.1 528.2,131.1 529.2,132 530.2,133 531.2,133.9 532.1,134.9 533.1,135.8 534.1,136.8 535.1,137.7 536.1,138.7 537.1,139.6 538.1,140.6 539.1,141.6 540.1,142.6 541.1,143.6 542.1,144.6 543.1,145.6 544.1,146.7 545,147.7 546,148.7 547,149.8 548,150.8 549,151.8 550,152.8 551,153.8 552,154.8 553,155.7 554,156.7 555,157.6 556,158.6 556.9,159.5 557.9,160.5 558.9,161.4 559.9,162.4 560.9,163.3 561.9,164.3 562.9,165.3 563.9,166.2 564.9,167.2 565.9,168.1 566.9,169.1 567.9,170 568.9,171 569.8,171.9 570.8,172.8 571.8,173.7 572.8,174.6 573.8,175.4 574.8,176.2 575.8,177.1 576.8,177.9 577.8,178.6 578.8,179.4 579.8,180.2 580.8,180.9 581.8,181.6 582.7,182.3 583.7,183 584.7,183.8 585.7,184.5 586.7,185.2 587.7,185.9 588.7,186.6 589.7,187.2 590.7,187.9 591.7,188.5 592.7,189.2 593.7,189.8 594.6,190.4 595.6,191 596.6,191.5 597.6,192 598.6,192.5 599.6,192.9 600.6,193.4 601.6,193.8 602.6,194.1 603.6,194.5 604.6,194.8 605.6,195 606.6,195.3 607.5,195.5 608.5,195.7 609.5,195.9 610.5,196.1 611.5,196.3 612.5,196.5 613.5,196.7 614.5,196.8 615.5,197 616.5,197.1 617.5,197.2 618.5,197.3 619.5,197.4 620.4,197.5 621.4,197.6 622.4,197.7 623.4,197.7 624.4,197.8 625.4,197.8 626.4,197.9 627.4,198 628.4,198 629.4,198.1 630.4,198.1 631.4,198.2 632.3,198.2 633.3,198.3 634.3,198.4 635.3,198.4 636.3,198.5 637.3,198.5 638.3,198.6"/><polyline points="400.2,120.8 401.2,119.1 402.2,117.3 403.2,115.5 404.2,113.7 405.2,111.9 406.2,110 407.1,108.1 408.1,106.1 409.1,104.2 410.1,102.2 411.1,100.3 412.1,98.3 413.1,96.3 414.1,94.3 415.1,92.3 416.1,90.3 417.1,88.3 418.1,86.3 419,84.3 420,82.4 421,80.4 422,78.5 423,76.6 424,74.8 425,72.9 426,71.2 427,69.4 428,67.7 429,66 430,64.4 431,62.8 431.9,61.3 432.9,59.9 433.9,58.4 434.9,57.1 435.9,55.8 436.9,54.5 437.9,53.3 438.9,52.1 439.9,50.9 440.9,49.8 441.9,48.8 442.9,47.7 443.9,46.8 444.8,45.8 445.8,44.9 446.8,44 447.8,43.1 448.8,42.3 449.8,41.4 450.8,40.6 451.8,39.9 452.8,39.1 453.8,38.4 454.8,37.7 455.8,37 456.7,36.4 457.7,35.8 458.7,35.2 459.7,34.7 460.7,34.2 461.7,33.7 462.7,33.3 463.7,32.9 464.7,32.6 465.7,32.3 466.7,32 467.7,31.8 468.7,31.7 469.6,31.6 470.6,31.4 471.6,31.3 472.6,31.1 473.6,30.9 474.6,30.6 475.6,30.4 476.6,30.2 477.6,30 478.6,29.8 479.6,29.6 480.6,29.5 481.6,29.4 482.5,29.3 483.5,29.2 484.5,29.1 485.5,29 486.5,28.9 487.5,28.8 488.5,28.7 489.5,28.7 490.5,28.6 491.5,28.5 492.5,28.5 493.5,28.4 494.4,28.4 495.4,28.3 496.4,28.3 497.4,28.3 498.4,28.3 499.4,28.3 500.4,28.3 501.4,28.3 502.4,28.3 503.4,28.4 504.4,28.4 505.4,28.4 506.4,28.5 507.3,28.5 508.3,28.6 509.3,28.7 510.3,28.8 511.3,28.9 512.3,29 513.3,29.1 514.3,29.2 515.3,29.3 516.3,29.4 517.3,29.6 518.3,29.7 519.2,29.9 520.2,30 521.2,30.2 522.2,30.3 523.2,30.5 524.2,30.7 525.2,30.9 526.2,31.1 527.2,31.3 528.2,31.5 529.2,31.7 530.2,32 531.2,32.2 532.1,32.4 533.1,32.7 534.1,33 535.1,33.2 536.1,33.5 537.1,33.8 538.1,34.1 539.1,34.4 540.1,34.6 541.1,35 542.1,35.3 543.1,35.6 544.1,35.9 545,36.3 546,36.7 547,37.1 548,37.5 549,37.9 550,38.4 551,38.9 552,39.4 553,39.9 554,40.4 555,41 556,41.6 556.9,42.2 557.9,42.9 558.9,43.6 559.9,44.3 560.9,45 561.9,45.8 562.9,46.6 563.9,47.4 564.9,48.3 565.9,49.2 566.9,50.2 567.9,51.2 568.9,52.3 569.8,53.4 570.8,54.6 571.8,55.8 572.8,57.1 573.8,58.4 574.8,59.7 575.8,61.1 576.8,62.6 577.8,64.1 578.8,65.6 579.8,67.2 580.8,68.8 581.8,70.5 582.7,72.2 583.7,73.9 584.7,75.7 585.7,77.5 586.7,79.3 587.7,81.3 588.7,83.3 589.7,85.4 590.7,87.6 591.7,89.9 592.7,92.3 593.7,94.8 594.6,97.3 595.6,99.8 596.6,102.4 597.6,104.9 598.6,107.5 599.6,110.1 600.6,112.7 601.6,115.3 602.6,118 603.6,120.8 604.6,123.5 605.6,126.3 606.6,129.1 607.5,131.8 608.5,134.6 609.5,137.3 610.5,140 611.5,142.6 612.5,145.2 613.5,147.8 614.5,150.3 615.5,152.8 616.5,155.2 617.5,157.6 618.5,160 619.5,162.3 620.4,164.6 621.4,166.8 622.4,169 623.4,171.1 624.4,173.2 625.4,175.2 626.4,177.1 627.4,178.8 628.4,180.5 629.4,182.1 630.4,183.6 631.4,185 632.3,186.3 633.3,187.6 634.3,188.9 635.3,190 636.3,191.2 637.3,192.2 638.3,193.3"/><polyline points="400.2,15.9 401.2,16 402.2,16.2 403.2,16.3 404.2,16.5 405.2,16.7 406.2,16.9 407.1,17.2 408.1,17.5 409.1,17.8 410.1,18.1 411.1,18.5 412.1,18.9 413.1,19.4 414.1,19.9 415.1,20.3 416.1,20.8 417.1,21.3 418.1,21.9 419,22.4 420,23 421,23.6 422,24.2 423,24.9 424,25.5 425,26.3 426,27 427,27.7 428,28.5 429,29.3 430,30.1 431,30.8 431.9,31.6 432.9,32.4 433.9,33.2 434.9,33.9 435.9,34.7 436.9,35.5 437.9,36.3 438.9,37.1 439.9,38 440.9,38.8 441.9,39.7 442.9,40.6 443.9,41.5 444.8,42.5 445.8,43.4 446.8,44.4 447.8,45.4 448.8,46.4 449.8,47.4 450.8,48.4 451.8,49.4 452.8,50.4 453.8,51.3 454.8,52.3 455.8,53.3 456.7,54.3 457.7,55.3 458.7,56.3 459.7,57.3 460.7,58.3 461.7,59.3 462.7,60.3 463.7,61.3 464.7,62.2 465.7,63.2 466.7,64.1 467.7,65 468.7,65.8 469.6,66.7 470.6,67.5 471.6,68.3 472.6,69.2 473.6,70.1 474.6,71 475.6,71.9 476.6,72.9 477.6,73.8 478.6,74.8 479.6,75.8 480.6,76.9 481.6,77.9 482.5,79 483.5,80.1 484.5,81.2 485.5,82.3 486.5,83.5 487.5,84.7 488.5,85.9 489.5,87.1 490.5,88.3 491.5,89.4 492.5,90.5 493.5,91.6 494.4,92.7 495.4,93.7 496.4,94.8 497.4,95.8 498.4,96.8 499.4,97.9 500.4,98.9 501.4,99.9 502.4,100.9 503.4,101.9 504.4,103 505.4,104 506.4,105 507.3,106 508.3,107 509.3,108.1 510.3,109.1 511.3,110.1 512.3,111.1 513.3,112.1 514.3,113.2 515.3,114.2 516.3,115.2 517.3,116.2 518.3,117.2 519.2,118.3 520.2,119.3 521.2,120.3 522.2,121.3 523.2,122.3 524.2,123.4 525.2,124.4 526.2,125.4 527.2,126.5 528.2,127.5 529.2,128.6 530.2,129.7 531.2,130.8 532.1,131.9 533.1,133 534.1,134.1 535.1,135.2 536.1,136.3 537.1,137.4 538.1,138.5 539.1,139.5 540.1,140.5 541.1,141.6 542.1,142.6 543.1,143.6 544.1,144.6 545,145.6 546,146.6 547,147.6 548,148.6 549,149.5 550,150.5 551,151.4 552,152.4 553,153.3 554,154.3 555,155.2 556,156.1 556.9,157.1 557.9,158 558.9,159 559.9,160 560.9,160.9 561.9,161.9 562.9,162.9 563.9,163.9 564.9,164.9 565.9,165.9 566.9,166.9 567.9,167.9 568.9,168.8 569.8,169.8 570.8,170.8 571.8,171.8 572.8,172.7 573.8,173.7 574.8,174.6 575.8,175.6 576.8,176.5 577.8,177.4 578.8,178.3 579.8,179.2 580.8,180.1 581.8,180.9 582.7,181.8 583.7,182.6 584.7,183.4 585.7,184.1 586.7,184.8 587.7,185.5 588.7,186.2 589.7,186.9 590.7,187.5 591.7,188.1 592.7,188.8 593.7,189.4 594.6,190 595.6,190.7 596.6,191.3 597.6,191.9 598.6,192.5 599.6,193 600.6,193.6 601.6,194.1 602.6,194.6 603.6,195.2 604.6,195.6 605.6,196.1 606.6,196.5 607.5,197 608.5,197.4 609.5,197.7 610.5,198.1 611.5,198.5 612.5,198.8 613.5,199.1 614.5,199.4 615.5,199.7 616.5,200 617.5,200.3 618.5,200.6 619.5,200.8 620.4,201 621.4,201.3 622.4,201.5 623.4,201.7 624.4,201.9 625.4,202.1 626.4,202.2 627.4,202.4 628.4,202.5 629.4,202.6 630.4,202.7 631.4,202.8 632.3,202.9 633.3,202.9 634.3,202.9 635.3,202.9 636.3,202.9 637.3,202.9 638.3,202.8"/><polyline points="400.2,138.1 401.2,135.9 402.2,133.6 403.2,131.4 404.2,129.2 405.2,127 406.2,125 407.1,122.9 408.1,121 409.1,119.1 410.1,117.3 411.1,115.5 412.1,113.8 413.1,112.1 414.1,110.4 415.1,108.7 416.1,107.1 417.1,105.4 418.1,103.8 419,102.1 420,100.4 421,98.7 422,97 423,95.2 424,93.4 425,91.5 426,89.6 427,87.7 428,85.8 429,83.9 430,82 431,80 431.9,78.1 432.9,76.2 433.9,74.3 434.9,72.4 435.9,70.6 436.9,68.7 437.9,67 438.9,65.2 439.9,63.5 440.9,61.9 441.9,60.3 442.9,58.7 443.9,57.2 444.8,55.7 445.8,54.3 446.8,52.9 447.8,51.5 448.8,50.2 449.8,48.9 450.8,47.7 451.8,46.5 452.8,45.3 453.8,44.2 454.8,43.1 455.8,42.1 456.7,41.1 457.7,40.2 458.7,39.3 459.7,38.5 460.7,37.7 461.7,36.9 462.7,36.1 463.7,35.4 464.7,34.7 465.7,34.1 466.7,33.4 467.7,32.8 468.7,32.2 469.6,31.7 470.6,31.1 471.6,30.6 472.6,30.2 473.6,29.7 474.6,29.3 475.6,28.9 476.6,28.6 477.6,28.2 478.6,27.9 479.6,27.5 480.6,27.2 481.6,26.9 482.5,26.6 483.5,26.4 484.5,26.1 485.5,25.9 486.5,25.6 487.5,25.5 488.5,25.3 489.5,25.1 490.5,25 491.5,24.9 492.5,24.8 493.5,24.7 494.4,24.6 495.4,24.5 496.4,24.4 497.4,24.4 498.4,24.3 499.4,24.3 500.4,24.3 501.4,24.2 502.4,24.2 503.4,24.2 504.4,24.1 505.4,24.1 506.4,24.1 507.3,24.1 508.3,24.1 509.3,24.1 510.3,24.1 511.3,24.1 512.3,24.1 513.3,24.2 514.3,24.2 515.3,24.2 516.3,24.3 517.3,24.3 518.3,24.3 519.2,24.4 520.2,24.4 521.2,24.4 522.2,24.5 523.2,24.5 524.2,24.6 525.2,24.6 526.2,24.7 527.2,24.8 528.2,24.9 529.2,25 530.2,25.2 531.2,25.3 532.1,25.5 533.1,25.7 534.1,25.9 535.1,26.1 536.1,26.4 537.1,26.6 538.1,26.9 539.1,27.1 540.1,27.4 541.1,27.7 542.1,28 543.1,28.3 544.1,28.7 545,29 546,29.4 547,29.8 548,30.3 549,30.7 550,31.2 551,31.8 552,32.4 553,33 554,33.7 555,34.3 556,35 556.9,35.8 557.9,36.5 558.9,37.2 559.9,38 560.9,38.7 561.9,39.5 562.9,40.3 563.9,41.1 564.9,42 565.9,42.9 566.9,43.8 567.9,44.7 568.9,45.7 569.8,46.8 570.8,47.9 571.8,49.1 572.8,50.3 573.8,51.6 574.8,52.9 575.8,54.3 576.8,55.8 577.8,57.4 578.8,59 579.8,60.6 580.8,62.3 581.8,64.1 582.7,65.9 583.7,67.8 584.7,69.7 585.7,71.6 586.7,73.7 587.7,75.8 588.7,77.9 589.7,80.2 590.7,82.4 591.7,84.8 592.7,87.2 593.7,89.6 594.6,92 595.6,94.4 596.6,96.8 597.6,99.1 598.6,101.5 599.6,103.9 600.6,106.4 601.6,109 602.6,111.8 603.6,114.6 604.6,117.5 605.6,120.4 606.6,123.3 607.5,126.2 608.5,129 609.5,131.8 610.5,134.6 611.5,137.3 612.5,140 613.5,142.7 614.5,145.3 615.5,147.9 616.5,150.4 617.5,152.9 618.5,155.4 619.5,157.8 620.4,160.1 621.4,162.3 622.4,164.4 623.4,166.5 624.4,168.5 625.4,170.4 626.4,172.2 627.4,173.9 628.4,175.6 629.4,177.2 630.4,178.7 631.4,180.2 632.3,181.7 633.3,183.1 634.3,184.6 635.3,186 636.3,187.3 637.3,188.7 638.3,190.1"/><polyline points="400.2,17.2 401.2,17.3 402.2,17.5 403.2,17.7 404.2,17.9 405.2,18.1 406.2,18.3 407.1,18.6 408.1,18.9 409.1,19.2 410.1,19.5 411.1,19.9 412.1,20.3 413.1,20.7 414.1,21.1 415.1,21.6 416.1,22.1 417.1,22.6 418.1,23.2 419,23.7 420,24.3 421,24.9 422,25.5 423,26.2 424,26.9 425,27.6 426,28.3 427,29 428,29.8 429,30.6 430,31.4 431,32.2 431.9,33 432.9,33.8 433.9,34.7 434.9,35.5 435.9,36.3 436.9,37.2 437.9,38.1 438.9,38.9 439.9,39.8 440.9,40.7 441.9,41.6 442.9,42.5 443.9,43.4 444.8,44.3 445.8,45.2 446.8,46.1 447.8,47.1 448.8,48 449.8,49 450.8,49.9 451.8,50.9 452.8,51.8 453.8,52.8 454.8,53.7 455.8,54.7 456.7,55.7 457.7,56.7 458.7,57.6 459.7,58.6 460.7,59.6 461.7,60.6 462.7,61.6 463.7,62.5 464.7,63.5 465.7,64.5 466.7,65.5 467.7,66.5 468.7,67.4 469.6,68.4 470.6,69.4 471.6,70.4 472.6,71.4 473.6,72.4 474.6,73.3 475.6,74.3 476.6,75.3 477.6,76.3 478.6,77.3 479.6,78.3 480.6,79.3 481.6,80.3 482.5,81.3 483.5,82.3 484.5,83.3 485.5,84.3 486.5,85.3 487.5,86.3 488.5,87.3 489.5,88.3 490.5,89.3 491.5,90.4 492.5,91.4 493.5,92.4 494.4,93.4 495.4,94.4 496.4,95.4 497.4,96.4 498.4,97.4 499.4,98.4 500.4,99.4 501.4,100.4 502.4,101.4 503.4,102.4 504.4,103.4 505.4,104.4 506.4,105.4 507.3,106.4 508.3,107.4 509.3,108.4 510.3,109.4 511.3,110.4 512.3,111.4 513.3,112.4 514.3,113.4 515.3,114.4 516.3,115.4 517.3,116.4 518.3,117.4 519.2,118.4 520.2,119.4 521.2,120.4 522.2,121.4 523.2,122.4 524.2,123.4 525.2,124.4 526.2,125.4 527.2,126.4 528.2,127.3 529.2,128.3 530.2,129.3 531.2,130.3 532.1,131.3 533.1,132.3 534.1,133.3 535.1,134.3 536.1,135.3 537.1,136.3 538.1,137.3 539.1,138.3 540.1,139.3 541.1,140.3 542.1,141.3 543.1,142.2 544.1,143.2 545,144.2 546,145.2 547,146.2 548,147.2 549,148.1 550,149.1 551,150.1 552,151.1 553,152 554,153 555,154 556,154.9 556.9,155.9 557.9,156.9 558.9,157.8 559.9,158.8 560.9,159.7 561.9,160.7 562.9,161.6 563.9,162.5 564.9,163.5 565.9,164.4 566.9,165.3 567.9,166.2 568.9,167.1 569.8,168 570.8,168.9 571.8,169.7 572.8,170.6 573.8,171.5 574.8,172.3 575.8,173.1 576.8,174 577.8,174.8 578.8,175.6 579.8,176.3 580.8,177.1 581.8,177.8 582.7,178.6 583.7,179.3 584.7,180 585.7,180.6 586.7,181.3 587.7,181.9 588.7,182.5 589.7,183.1 590.7,183.7 591.7,184.2 592.7,184.8 593.7,185.3 594.6,185.8 595.6,186.3 596.6,186.7 597.6,187.2 598.6,187.6 599.6,188 600.6,188.3 601.6,188.7 602.6,189 603.6,189.3 604.6,189.5 605.6,189.8 606.6,190 607.5,190.3 608.5,190.5 609.5,190.6 610.5,190.8 611.5,191 612.5,191.1 613.5,191.2 614.5,191.3 615.5,191.4 616.5,191.5 617.5,191.5 618.5,191.6 619.5,191.7 620.4,191.7 621.4,191.7 622.4,191.8 623.4,191.8 624.4,191.9 625.4,191.9 626.4,191.9 627.4,192 628.4,192 629.4,192.1 630.4,192.1 631.4,192.1 632.3,192.2 633.3,192.2 634.3,192.3 635.3,192.3 636.3,192.4 637.3,192.4 638.3,192.5"/><polyline points="400.2,131.8 401.2,129.5 402.2,127.2 403.2,124.9 404.2,122.6 405.2,120.4 406.2,118.1 407.1,115.9 408.1,113.6 409.1,111.4 410.1,109.1 411.1,106.9 412.1,104.7 413.1,102.6 414.1,100.5 415.1,98.5 416.1,96.7 417.1,94.9 418.1,93.2 419,91.5 420,89.8 421,88.2 422,86.5 423,84.8 424,83.1 425,81.3 426,79.4 427,77.6 428,75.7 429,73.9 430,72.1 431,70.3 431.9,68.5 432.9,66.8 433.9,65.2 434.9,63.6 435.9,62.1 436.9,60.6 437.9,59.1 438.9,57.7 439.9,56.4 440.9,55.1 441.9,53.8 442.9,52.6 443.9,51.4 444.8,50.3 445.8,49.2 446.8,48.1 447.8,47.1 448.8,46.2 449.8,45.2 450.8,44.3 451.8,43.5 452.8,42.7 453.8,41.9 454.8,41.1 455.8,40.4 456.7,39.7 457.7,39.1 458.7,38.5 459.7,37.9 460.7,37.3 461.7,36.8 462.7,36.3 463.7,35.8 464.7,35.3 465.7,34.9 466.7,34.5 467.7,34.1 468.7,33.7 469.6,33.3 470.6,33 471.6,32.7 472.6,32.4 473.6,32.1 474.6,31.8 475.6,31.6 476.6,31.3 477.6,31.1 478.6,30.8 479.6,30.6 480.6,30.4 481.6,30.1 482.5,29.9 483.5,29.6 484.5,29.3 485.5,29 486.5,28.6 487.5,28.3 488.5,28.1 489.5,27.8 490.5,27.6 491.5,27.5 492.5,27.3 493.5,27.2 494.4,27.1 495.4,27 496.4,27 497.4,27 498.4,27 499.4,27 500.4,27.1 501.4,27.1 502.4,27.2 503.4,27.3 504.4,27.3 505.4,27.3 506.4,27.3 507.3,27.3 508.3,27.3 509.3,27.3 510.3,27.3 511.3,27.4 512.3,27.4 513.3,27.5 514.3,27.5 515.3,27.6 516.3,27.8 517.3,27.9 518.3,28.1 519.2,28.3 520.2,28.5 521.2,28.6 522.2,28.8 523.2,28.9 524.2,29.1 525.2,29.2 526.2,29.3 527.2,29.5 528.2,29.6 529.2,29.8 530.2,29.9 531.2,30.1 532.1,30.4 533.1,30.6 534.1,30.9 535.1,31.3 536.1,31.7 537.1,32.1 538.1,32.5 539.1,32.8 540.1,33.2 541.1,33.6 542.1,33.9 543.1,34.3 544.1,34.7 545,35.1 546,35.5 547,35.9 548,36.4 549,36.9 550,37.5 551,38.1 552,38.8 553,39.6 554,40.3 555,41.1 556,41.8 556.9,42.6 557.9,43.4 558.9,44.2 559.9,44.9 560.9,45.7 561.9,46.6 562.9,47.4 563.9,48.2 564.9,49 565.9,49.8 566.9,50.7 567.9,51.7 568.9,52.8 569.8,54 570.8,55.2 571.8,56.6 572.8,58 573.8,59.6 574.8,61.1 575.8,62.8 576.8,64.5 577.8,66.2 578.8,68 579.8,69.9 580.8,71.8 581.8,73.7 582.7,75.8 583.7,77.9 584.7,80.1 585.7,82.3 586.7,84.7 587.7,87.1 588.7,89.6 589.7,92.2 590.7,94.8 591.7,97.5 592.7,100.2 593.7,102.9 594.6,105.7 595.6,108.5 596.6,111.4 597.6,114.3 598.6,117.3 599.6,120.2 600.6,123.2 601.6,126.2 602.6,129.2 603.6,132.2 604.6,135.2 605.6,138.1 606.6,141 607.5,143.9 608.5,146.7 609.5,149.5 610.5,152.2 611.5,154.8 612.5,157.3 613.5,159.8 614.5,162.2 615.5,164.5 616.5,166.7 617.5,168.8 618.5,170.8 619.5,172.8 620.4,174.6 621.4,176.4 622.4,178.2 623.4,179.8 624.4,181.4 625.4,182.9 626.4,184.3 627.4,185.7 628.4,187 629.4,188.2 630.4,189.4 631.4,190.5 632.3,191.6 633.3,192.6 634.3,193.5 635.3,194.5 636.3,195.4 637.3,196.3 638.3,197.1"/><polyline points="400.2,9.1 401.2,9.2 402.2,9.3 403.2,9.5 404.2,9.6 405.2,9.8 406.2,10 407.1,10.2 408.1,10.5 409.1,10.8 410.1,11.2 411.1,11.6 412.1,12.1 413.1,12.6 414.1,13.2 415.1,13.8 416.1,14.4 417.1,15 418.1,15.6 419,16.2 420,16.9 421,17.6 422,18.3 423,19 424,19.7 425,20.4 426,21.1 427,21.8 428,22.5 429,23.3 430,24 431,24.8 431.9,25.6 432.9,26.5 433.9,27.3 434.9,28.2 435.9,29.1 436.9,30 437.9,30.9 438.9,31.8 439.9,32.7 440.9,33.6 441.9,34.6 442.9,35.5 443.9,36.4 444.8,37.4 445.8,38.3 446.8,39.2 447.8,40.2 448.8,41.1 449.8,42.1 450.8,43 451.8,44 452.8,44.9 453.8,45.9 454.8,46.9 455.8,47.8 456.7,48.8 457.7,49.8 458.7,50.7 459.7,51.7 460.7,52.7 461.7,53.7 462.7,54.6 463.7,55.6 464.7,56.6 465.7,57.6 466.7,58.5 467.7,59.5 468.7,60.4 469.6,61.4 470.6,62.4 471.6,63.3 472.6,64.3 473.6,65.3 474.6,66.2 475.6,67.2 476.6,68.2 477.6,69.2 478.6,70.2 479.6,71.1 480.6,72.1 481.6,73.1 482.5,74.1 483.5,75.1 484.5,76.1 485.5,77.1 486.5,78.2 487.5,79.2 488.5,80.2 489.5,81.2 490.5,82.2 491.5,83.2 492.5,84.3 493.5,85.3 494.4,86.3 495.4,87.2 496.4,88.2 497.4,89.2 498.4,90.2 499.4,91.2 500.4,92.2 501.4,93.1 502.4,94.1 503.4,95.1 504.4,96 505.4,97 506.4,98 507.3,99 508.3,100 509.3,101 510.3,102 511.3,103 512.3,104 513.3,105.1 514.3,106.1 515.3,107.2 516.3,108.2 517.3,109.2 518.3,110.2 519.2,111.2 520.2,112.2 521.2,113.2 522.2,114.2 523.2,115.1 524.2,116.1 525.2,117 526.2,118 527.2,119 528.2,120 529.2,121 530.2,122 531.2,123 532.1,124.1 533.1,125.1 534.1,126.2 535.1,127.2 536.1,128.2 537.1,129.3 538.1,130.3 539.1,131.3 540.1,132.3 541.1,133.3 542.1,134.3 543.1,135.3 544.1,136.3 545,137.3 546,138.3 547,139.2 548,140.2 549,141.2 550,142.2 551,143.2 552,144.2 553,145.2 554,146.2 555,147.1 556,148.1 556.9,149.1 557.9,150.1 558.9,151 559.9,152 560.9,153 561.9,153.9 562.9,154.9 563.9,155.8 564.9,156.7 565.9,157.7 566.9,158.6 567.9,159.6 568.9,160.5 569.8,161.5 570.8,162.4 571.8,163.4 572.8,164.3 573.8,165.2 574.8,166.2 575.8,167.1 576.8,167.9 577.8,168.8 578.8,169.6 579.8,170.4 580.8,171.1 581.8,171.7 582.7,172.3 583.7,172.8 584.7,173.4 585.7,174 586.7,174.6 587.7,175.3 588.7,176 589.7,176.7 590.7,177.4 591.7,178.2 592.7,178.9 593.7,179.6 594.6,180.4 595.6,181.1 596.6,181.9 597.6,182.6 598.6,183.4 599.6,184.2 600.6,185 601.6,185.7 602.6,186.4 603.6,187.1 604.6,187.7 605.6,188.2 606.6,188.7 607.5,189.2 608.5,189.6 609.5,190 610.5,190.4 611.5,190.7 612.5,191 613.5,191.3 614.5,191.5 615.5,191.7 616.5,191.9 617.5,192.1 618.5,192.3 619.5,192.4 620.4,192.5 621.4,192.6 622.4,192.7 623.4,192.8 624.4,192.9 625.4,193 626.4,193.1 627.4,193.2 628.4,193.3 629.4,193.3 630.4,193.4 631.4,193.5 632.3,193.6 633.3,193.6 634.3,193.7 635.3,193.8 636.3,193.8 637.3,193.9 638.3,194"/><polyline points="400.2,118.3 401.2,115 402.2,111.7 403.2,108.4 404.2,105.1 405.2,101.8 406.2,98.7 407.1,95.7 408.1,92.8 409.1,90 410.1,87.4 411.1,84.9 412.1,82.5 413.1,80.2 414.1,78 415.1,75.9 416.1,73.8 417.1,71.8 418.1,69.9 419,68 420,66.2 421,64.5 422,62.8 423,61.2 424,59.6 425,58.2 426,56.8 427,55.4 428,54.1 429,52.9 430,51.7 431,50.5 431.9,49.4 432.9,48.2 433.9,47.2 434.9,46.1 435.9,45 436.9,44 437.9,43 438.9,41.9 439.9,40.9 440.9,39.9 441.9,39 442.9,38.1 443.9,37.3 444.8,36.5 445.8,35.9 446.8,35.2 447.8,34.7 448.8,34.1 449.8,33.6 450.8,33.2 451.8,32.7 452.8,32.3 453.8,31.9 454.8,31.5 455.8,31.1 456.7,30.7 457.7,30.3 458.7,30 459.7,29.7 460.7,29.4 461.7,29.1 462.7,28.8 463.7,28.5 464.7,28.3 465.7,28 466.7,27.8 467.7,27.6 468.7,27.4 469.6,27.2 470.6,27 471.6,26.8 472.6,26.6 473.6,26.5 474.6,26.3 475.6,26.2 476.6,26.1 477.6,25.9 478.6,25.8 479.6,25.7 480.6,25.6 481.6,25.5 482.5,25.4 483.5,25.4 484.5,25.3 485.5,25.3 486.5,25.3 487.5,25.2 488.5,25.2 489.5,25.3 490.5,25.3 491.5,25.3 492.5,25.3 493.5,25.4 494.4,25.4 495.4,25.4 496.4,25.5 497.4,25.5 498.4,25.5 499.4,25.6 500.4,25.7 501.4,25.7 502.4,25.8 503.4,25.9 504.4,26 505.4,26.1 506.4,26.2 507.3,26.2 508.3,26.3 509.3,26.3 510.3,26.4 511.3,26.4 512.3,26.5 513.3,26.6 514.3,26.6 515.3,26.7 516.3,26.7 517.3,26.8 518.3,26.8 519.2,26.9 520.2,27 521.2,27 522.2,27.2 523.2,27.3 524.2,27.4 525.2,27.6 526.2,27.8 527.2,28 528.2,28.2 529.2,28.4 530.2,28.6 531.2,28.9 532.1,29.2 533.1,29.5 534.1,29.7 535.1,30 536.1,30.3 537.1,30.6 538.1,31 539.1,31.3 540.1,31.6 541.1,31.9 542.1,32.2 543.1,32.6 544.1,32.9 545,33.2 546,33.6 547,34 548,34.3 549,34.7 550,35.2 551,35.6 552,36.1 553,36.6 554,37.1 555,37.7 556,38.3 556.9,39 557.9,39.6 558.9,40.3 559.9,41.1 560.9,41.8 561.9,42.7 562.9,43.5 563.9,44.4 564.9,45.3 565.9,46.2 566.9,47.2 567.9,48.2 568.9,49.2 569.8,50.3 570.8,51.4 571.8,52.4 572.8,53.5 573.8,54.6 574.8,55.7 575.8,56.8 576.8,57.9 577.8,59 578.8,60.2 579.8,61.3 580.8,62.4 581.8,63.6 582.7,64.8 583.7,66 584.7,67.3 585.7,68.6 586.7,69.9 587.7,71.4 588.7,72.9 589.7,74.4 590.7,76 591.7,77.7 592.7,79.5 593.7,81.4 594.6,83.3 595.6,85.3 596.6,87.4 597.6,89.6 598.6,91.8 599.6,94.1 600.6,96.5 601.6,99 602.6,101.5 603.6,104.1 604.6,106.7 605.6,109.3 606.6,111.9 607.5,114.5 608.5,117.1 609.5,119.7 610.5,122.3 611.5,124.9 612.5,127.5 613.5,130.1 614.5,132.8 615.5,135.4 616.5,138 617.5,140.7 618.5,143.3 619.5,145.8 620.4,148.4 621.4,150.8 622.4,153.3 623.4,155.6 624.4,157.9 625.4,160.1 626.4,162.2 627.4,164.3 628.4,166.3 629.4,168.3 630.4,170.2 631.4,172 632.3,173.8 633.3,175.6 634.3,177.3 635.3,178.9 636.3,180.6 637.3,182.1 638.3,183.7"/><polyline points="400.2,26.8 401.2,27 402.2,27.1 403.2,27.3 404.2,27.5 405.2,27.7 406.2,27.9 407.1,28.2 408.1,28.4 409.1,28.7 410.1,29.1 411.1,29.4 412.1,29.8 413.1,30.1 414.1,30.5 415.1,30.9 416.1,31.3 417.1,31.7 418.1,32.2 419,32.6 420,33 421,33.5 422,34 423,34.5 424,35 425,35.5 426,36 427,36.6 428,37.2 429,37.8 430,38.4 431,39 431.9,39.7 432.9,40.4 433.9,41.1 434.9,41.8 435.9,42.5 436.9,43.3 437.9,44 438.9,44.8 439.9,45.6 440.9,46.3 441.9,47.1 442.9,47.9 443.9,48.7 444.8,49.5 445.8,50.2 446.8,51 447.8,51.8 448.8,52.6 449.8,53.3 450.8,54.1 451.8,55 452.8,55.8 453.8,56.7 454.8,57.5 455.8,58.4 456.7,59.3 457.7,60.2 458.7,61.1 459.7,62 460.7,62.9 461.7,63.9 462.7,64.8 463.7,65.7 464.7,66.5 465.7,67.4 466.7,68.2 467.7,69 468.7,69.8 469.6,70.5 470.6,71.3 471.6,72 472.6,72.8 473.6,73.6 474.6,74.4 475.6,75.3 476.6,76.1 477.6,77 478.6,78 479.6,78.9 480.6,79.9 481.6,80.9 482.5,81.9 483.5,82.9 484.5,84 485.5,85 486.5,86.2 487.5,87.3 488.5,88.5 489.5,89.6 490.5,90.8 491.5,91.9 492.5,92.9 493.5,93.9 494.4,94.9 495.4,95.8 496.4,96.8 497.4,97.7 498.4,98.7 499.4,99.6 500.4,100.6 501.4,101.5 502.4,102.5 503.4,103.5 504.4,104.4 505.4,105.4 506.4,106.4 507.3,107.4 508.3,108.4 509.3,109.3 510.3,110.3 511.3,111.3 512.3,112.3 513.3,113.3 514.3,114.3 515.3,115.3 516.3,116.3 517.3,117.2 518.3,118.2 519.2,119.2 520.2,120.2 521.2,121.2 522.2,122.2 523.2,123.1 524.2,124.1 525.2,125.1 526.2,126 527.2,127 528.2,127.9 529.2,128.8 530.2,129.8 531.2,130.7 532.1,131.6 533.1,132.5 534.1,133.4 535.1,134.3 536.1,135.2 537.1,136.1 538.1,137.1 539.1,138 540.1,138.9 541.1,139.8 542.1,140.7 543.1,141.7 544.1,142.6 545,143.6 546,144.5 547,145.5 548,146.4 549,147.4 550,148.4 551,149.3 552,150.2 553,151.2 554,152.1 555,153 556,153.9 556.9,154.8 557.9,155.7 558.9,156.6 559.9,157.6 560.9,158.5 561.9,159.4 562.9,160.3 563.9,161.2 564.9,162.1 565.9,163 566.9,163.9 567.9,164.9 568.9,165.8 569.8,166.7 570.8,167.6 571.8,168.5 572.8,169.4 573.8,170.2 574.8,171.1 575.8,171.9 576.8,172.6 577.8,173.4 578.8,174.1 579.8,174.7 580.8,175.3 581.8,175.9 582.7,176.5 583.7,177.1 584.7,177.6 585.7,178.1 586.7,178.6 587.7,179.1 588.7,179.7 589.7,180.2 590.7,180.7 591.7,181.2 592.7,181.6 593.7,182.1 594.6,182.5 595.6,182.9 596.6,183.2 597.6,183.6 598.6,183.9 599.6,184.2 600.6,184.5 601.6,184.8 602.6,185.1 603.6,185.3 604.6,185.6 605.6,185.8 606.6,186 607.5,186.2 608.5,186.5 609.5,186.6 610.5,186.8 611.5,187 612.5,187.2 613.5,187.4 614.5,187.5 615.5,187.7 616.5,187.8 617.5,188 618.5,188.1 619.5,188.2 620.4,188.4 621.4,188.5 622.4,188.6 623.4,188.7 624.4,188.9 625.4,189 626.4,189.1 627.4,189.2 628.4,189.3 629.4,189.3 630.4,189.4 631.4,189.5 632.3,189.5 633.3,189.6 634.3,189.6 635.3,189.6 636.3,189.6 637.3,189.6 638.3,189.6"/><polyline points="400.2,161.3 401.2,159.5 402.2,157.6 403.2,155.7 404.2,153.8 405.2,151.8 406.2,149.8 407.1,147.9 408.1,145.9 409.1,143.9 410.1,141.9 411.1,139.9 412.1,137.9 413.1,135.9 414.1,133.9 415.1,131.8 416.1,129.7 417.1,127.6 418.1,125.4 419,123.3 420,121.1 421,118.9 422,116.7 423,114.5 424,112.3 425,110.2 426,108 427,105.9 428,103.9 429,101.8 430,99.8 431,97.9 431.9,96 432.9,94.2 433.9,92.4 434.9,90.6 435.9,88.9 436.9,87.3 437.9,85.7 438.9,84.1 439.9,82.6 440.9,81.1 441.9,79.7 442.9,78.2 443.9,76.8 444.8,75.5 445.8,74.1 446.8,72.8 447.8,71.4 448.8,70.1 449.8,68.7 450.8,67.4 451.8,66.1 452.8,64.9 453.8,63.7 454.8,62.5 455.8,61.4 456.7,60.4 457.7,59.5 458.7,58.7 459.7,57.9 460.7,57.2 461.7,56.7 462.7,56.2 463.7,55.7 464.7,55.3 465.7,54.9 466.7,54.4 467.7,53.9 468.7,53.3 469.6,52.8 470.6,52.3 471.6,51.7 472.6,51.2 473.6,50.7 474.6,50.2 475.6,49.7 476.6,49.3 477.6,48.8 478.6,48.4 479.6,47.9 480.6,47.5 481.6,47 482.5,46.6 483.5,46.2 484.5,45.8 485.5,45.4 486.5,45 487.5,44.6 488.5,44.2 489.5,43.9 490.5,43.6 491.5,43.3 492.5,43 493.5,42.7 494.4,42.4 495.4,42.1 496.4,41.9 497.4,41.7 498.4,41.4 499.4,41.2 500.4,41 501.4,40.8 502.4,40.6 503.4,40.4 504.4,40.3 505.4,40.1 506.4,39.9 507.3,39.8 508.3,39.6 509.3,39.5 510.3,39.4 511.3,39.3 512.3,39.2 513.3,39.1 514.3,39 515.3,38.9 516.3,38.9 517.3,38.8 518.3,38.8 519.2,38.8 520.2,38.9 521.2,38.9 522.2,39 523.2,39.1 524.2,39.1 525.2,39.2 526.2,39.3 527.2,39.4 528.2,39.5 529.2,39.6 530.2,39.8 531.2,39.9 532.1,40 533.1,40.1 534.1,40.3 535.1,40.4 536.1,40.6 537.1,40.8 538.1,41 539.1,41.2 540.1,41.4 541.1,41.7 542.1,41.9 543.1,42.2 544.1,42.6 545,42.9 546,43.3 547,43.7 548,44.2 549,44.7 550,45.3 551,45.8 552,46.5 553,47.2 554,47.9 555,48.6 556,49.5 556.9,50.3 557.9,51.2 558.9,52.1 559.9,53.1 560.9,54.1 561.9,55.2 562.9,56.3 563.9,57.5 564.9,58.7 565.9,59.9 566.9,61.3 567.9,62.6 568.9,64.1 569.8,65.6 570.8,67.1 571.8,68.8 572.8,70.5 573.8,72.3 574.8,74.2 575.8,76.2 576.8,78.3 577.8,80.4 578.8,82.6 579.8,84.9 580.8,87.3 581.8,89.7 582.7,92.2 583.7,94.7 584.7,97.3 585.7,100 586.7,102.6 587.7,105.3 588.7,107.9 589.7,110.6 590.7,113.3 591.7,115.9 592.7,118.6 593.7,121.2 594.6,123.9 595.6,126.5 596.6,129.1 597.6,131.7 598.6,134.2 599.6,136.8 600.6,139.3 601.6,141.8 602.6,144.2 603.6,146.6 604.6,149 605.6,151.3 606.6,153.6 607.5,155.8 608.5,157.9 609.5,160 610.5,162 611.5,163.9 612.5,165.8 613.5,167.5 614.5,169.2 615.5,170.9 616.5,172.4 617.5,173.9 618.5,175.3 619.5,176.6 620.4,177.9 621.4,179.1 622.4,180.4 623.4,181.6 624.4,182.7 625.4,183.9 626.4,185.1 627.4,186.2 628.4,187.3 629.4,188.3 630.4,189.4 631.4,190.4 632.3,191.4 633.3,192.4 634.3,193.3 635.3,194.3 636.3,195.3 637.3,196.2 638.3,197.2"/></g>
</g>
<g fill="none" stroke-linecap="butt">
<path stroke="#000" stroke-width="1.4" d="M399.6 5.2H638.9"/>
<path stroke="#111" stroke-width="1.4" d="M400.2 4.6V214.3"/>
<path stroke="#111" stroke-width="1.3" d="M638.3 4.6V214.3"/>
<path stroke="#111" stroke-width="1.4" d="M399.6 213.7H638.9"/>
<path stroke="#111" stroke-width="1" d="M400.2 213.7v4M412.1 213.7v-1.8M419.1 213.7v-1.8M424.1 213.7v-1.8M427.9 213.7v-1.8M431.1 213.7v-1.8M433.7 213.7v-1.8M436 213.7v-1.8M438.1 213.7v-1.8M439.9 213.7v4M451.8 213.7v-1.8M458.8 213.7v-1.8M463.8 213.7v-1.8M467.6 213.7v-1.8M470.8 213.7v-1.8M473.4 213.7v-1.8M475.7 213.7v-1.8M477.8 213.7v-1.8M479.6 213.7v4M491.5 213.7v-1.8M498.5 213.7v-1.8M503.5 213.7v-1.8M507.3 213.7v-1.8M510.4 213.7v-1.8M513.1 213.7v-1.8M515.4 213.7v-1.8M517.4 213.7v-1.8M519.2 213.7v4M531.2 213.7v-1.8M538.2 213.7v-1.8M543.1 213.7v-1.8M547 213.7v-1.8M550.1 213.7v-1.8M552.8 213.7v-1.8M555.1 213.7v-1.8M557.1 213.7v-1.8M558.9 213.7v4M570.9 213.7v-1.8M577.9 213.7v-1.8M582.8 213.7v-1.8M586.7 213.7v-1.8M589.8 213.7v-1.8M592.5 213.7v-1.8M594.8 213.7v-1.8M596.8 213.7v-1.8M598.6 213.7v4M610.6 213.7v-1.8M617.6 213.7v-1.8M622.5 213.7v-1.8M626.4 213.7v-1.8M629.5 213.7v-1.8M632.2 213.7v-1.8M634.5 213.7v-1.8M636.5 213.7v-1.8M638.3 213.7v3.5M400.2 210h1.8M400.2 204.4h1.8M400.2 200.1h1.8M400.2 196.6h1.8M400.2 193.6h1.8M400.2 191h1.8M400.2 188.7h1.8M400.2 186.7h-3.5M400.2 173.3h1.8M400.2 165.5h1.8M400.2 159.9h1.8M400.2 155.6h1.8M400.2 152.1h1.8M400.2 149.1h1.8M400.2 146.5h1.8M400.2 144.2h1.8M400.2 142.2h-3.5M400.2 128.8h1.8M400.2 121h1.8M400.2 115.4h1.8M400.2 111.1h1.8M400.2 107.6h1.8M400.2 104.6h1.8M400.2 102h1.8M400.2 99.7h1.8M400.2 97.7h-3.5M400.2 84.3h1.8M400.2 76.5h1.8M400.2 70.9h1.8M400.2 66.6h1.8M400.2 63.1h1.8M400.2 60.1h1.8M400.2 57.5h1.8M400.2 55.2h1.8M400.2 53.2h-3.5M400.2 39.8h1.8M400.2 32h1.8M400.2 26.4h1.8M400.2 22.1h1.8M400.2 18.6h1.8M400.2 15.6h1.8M400.2 13h1.8M400.2 10.7h1.8M400.2 8.7h-3.5M638.3 213.7h3.5M638.3 202.1h-1.6M638.3 190.5h-1.6M638.3 178.9h-1.6M638.3 167.4h-1.6M638.3 155.8h-1.6M638.3 144.2h3.5M638.3 132.6h-1.6M638.3 121h-1.6M638.3 109.4h-1.6M638.3 97.9h-1.6M638.3 86.3h-1.6M638.3 74.7h3.5M638.3 63.1h-1.6M638.3 51.5h-1.6M638.3 39.9h-1.6M638.3 28.4h-1.6M638.3 16.8h-1.6M638.3 5.2h3.5"/>
</g>
<g font-family='"Liberation Serif", serif' font-weight="bold" fill="#111" stroke="#111" stroke-width="0.2">
<text x="400.2" y="229.7" font-size="10.9" text-anchor="middle" textLength="17.5" lengthAdjust="spacingAndGlyphs">0.01</text>
<text x="479.6" y="229.7" font-size="10.9" text-anchor="middle" textLength="5" lengthAdjust="spacingAndGlyphs">1</text>
<text x="558.9" y="229.7" font-size="10.9" text-anchor="middle" textLength="15" lengthAdjust="spacingAndGlyphs">100</text>
<text x="638.3" y="229.7" font-size="10.9" text-anchor="middle" textLength="25" lengthAdjust="spacingAndGlyphs">10000</text>
<text x="393.2" y="190.2" font-size="11.8" text-anchor="end" textLength="9.8" lengthAdjust="spacingAndGlyphs">10</text>
<text x="393.2" y="145.7" font-size="11.8" text-anchor="end" textLength="14.7" lengthAdjust="spacingAndGlyphs">100</text>
<text x="393.2" y="101.2" font-size="11.8" text-anchor="end" textLength="19.6" lengthAdjust="spacingAndGlyphs">1000</text>
<text x="393.2" y="56.7" font-size="11.8" text-anchor="end" textLength="24.5" lengthAdjust="spacingAndGlyphs">10000</text>
<text x="393.2" y="12.2" font-size="11.8" text-anchor="end" textLength="29.4" lengthAdjust="spacingAndGlyphs">100000</text>
<text x="645" y="217.2" font-size="10.8" textLength="4.7" lengthAdjust="spacingAndGlyphs">0</text>
<text x="645" y="147.7" font-size="10.8" textLength="9.4" lengthAdjust="spacingAndGlyphs">30</text>
<text x="645" y="78.2" font-size="10.8" textLength="9.4" lengthAdjust="spacingAndGlyphs">60</text>
<text x="645" y="8.7" font-size="10.8" textLength="9.4" lengthAdjust="spacingAndGlyphs">90</text>
</g>
<g stroke="#111" stroke-width="0.25">
<text x="519.4" y="249.8" text-anchor="middle" font-size="11.2" textLength="75.0" lengthAdjust="spacingAndGlyphs">Frequency (Hz)</text>
<text transform="translate(357.6 107.9) rotate(-90)" text-anchor="middle" font-size="12.0" textLength="77.0" lengthAdjust="spacingAndGlyphs">| Z | (ohm.cm<tspan font-size="7.8" dy="-5">2</tspan><tspan dy="5">)</tspan></text>
<text transform="translate(660.5 107.7) rotate(90)" text-anchor="middle" font-size="11.4" textLength="79.5" lengthAdjust="spacingAndGlyphs">- Phase angle (<tspan font-size="6.3" dy="-4.6">o</tspan><tspan dy="4.6">)</tspan></text>
<text x="635.9" y="26" text-anchor="end" font-size="20.8">(b)</text>
</g>
<text x="451.8" y="133.9" font-size="9.8" fill="#3ee8f2" stroke="#3ee8f2" stroke-width="0.3">Blank</text>
<text x="451.8" y="147.5" font-size="9.8" fill="#f0843a" stroke="#f0843a" stroke-width="0.3" textLength="53.4" lengthAdjust="spacingAndGlyphs">GLU 1 wt.%</text>
<text x="451.8" y="161" font-size="9.8" fill="#22e022" stroke="#22e022" stroke-width="0.3" textLength="53.4" lengthAdjust="spacingAndGlyphs">GLU 2 wt.%</text>
<text x="451.8" y="174.6" font-size="9.8" fill="#7a227e" stroke="#7a227e" stroke-width="0.3" textLength="53.4" lengthAdjust="spacingAndGlyphs">GLU 3 wt.%</text>
<text x="451.8" y="188.1" font-size="9.8" fill="#ee2aee" stroke="#ee2aee" stroke-width="0.3" textLength="53.4" lengthAdjust="spacingAndGlyphs">GLU 4 wt.%</text>
<text x="451.8" y="201.7" font-size="9.8" fill="#1a1ad8" stroke="#1a1ad8" stroke-width="0.3" textLength="53.4" lengthAdjust="spacingAndGlyphs">GLU 5 wt.%</text>
<g clip-path="url(#clipc)">
<circle cx="57.9" cy="309.4" r="2.4" fill="#22e6f0"/>
<circle cx="65.8" cy="310" r="2.4" fill="#22e6f0"/>
<circle cx="73.8" cy="311.2" r="2.4" fill="#22e6f0"/>
<circle cx="81.8" cy="312.9" r="2.4" fill="#22e6f0"/>
<circle cx="89.7" cy="315.1" r="2.4" fill="#22e6f0"/>
<circle cx="97.6" cy="317.4" r="2.4" fill="#22e6f0"/>
<circle cx="105.6" cy="321.2" r="2.4" fill="#22e6f0"/>
<circle cx="113.5" cy="326.5" r="2.4" fill="#22e6f0"/>
<circle cx="121.5" cy="332.8" r="2.4" fill="#22e6f0"/>
<circle cx="129.4" cy="339.6" r="2.4" fill="#22e6f0"/>
<circle cx="137.4" cy="346.7" r="2.4" fill="#22e6f0"/>
<circle cx="145.3" cy="353.9" r="2.4" fill="#22e6f0"/>
<circle cx="153.3" cy="361.2" r="2.4" fill="#22e6f0"/>
<circle cx="161.2" cy="368.7" r="2.4" fill="#22e6f0"/>
<circle cx="169.2" cy="376.1" r="2.4" fill="#22e6f0"/>
<circle cx="177.1" cy="383.6" r="2.4" fill="#22e6f0"/>
<circle cx="185.1" cy="391.1" r="2.4" fill="#22e6f0"/>
<circle cx="193.1" cy="398.6" r="2.4" fill="#22e6f0"/>
<circle cx="201" cy="406" r="2.4" fill="#22e6f0"/>
<circle cx="209" cy="413.4" r="2.4" fill="#22e6f0"/>
<circle cx="216.9" cy="420.7" r="2.4" fill="#22e6f0"/>
<circle cx="224.8" cy="427.9" r="2.4" fill="#22e6f0"/>
<circle cx="232.8" cy="434.8" r="2.4" fill="#22e6f0"/>
<circle cx="240.8" cy="441.3" r="2.4" fill="#22e6f0"/>
<circle cx="248.7" cy="447.2" r="2.4" fill="#22e6f0"/>
<circle cx="256.6" cy="452.2" r="2.4" fill="#22e6f0"/>
<circle cx="264.6" cy="456.1" r="2.4" fill="#22e6f0"/>
<circle cx="272.5" cy="458.5" r="2.4" fill="#22e6f0"/>
<circle cx="280.5" cy="460" r="2.4" fill="#22e6f0"/>
<circle cx="288.4" cy="460.8" r="2.4" fill="#22e6f0"/>
<circle cx="296.4" cy="461.5" r="2.4" fill="#22e6f0"/>
<circle cx="57.9" cy="447.6" r="2.4" fill="#22e6f0"/>
<circle cx="65.8" cy="437.6" r="2.4" fill="#22e6f0"/>
<circle cx="73.8" cy="427.6" r="2.4" fill="#22e6f0"/>
<circle cx="81.8" cy="416" r="2.4" fill="#22e6f0"/>
<circle cx="89.7" cy="401.5" r="2.4" fill="#22e6f0"/>
<circle cx="97.6" cy="384.5" r="2.4" fill="#22e6f0"/>
<circle cx="105.6" cy="366.8" r="2.4" fill="#22e6f0"/>
<circle cx="113.5" cy="350.2" r="2.4" fill="#22e6f0"/>
<circle cx="121.5" cy="337.3" r="2.4" fill="#22e6f0"/>
<circle cx="129.4" cy="327.3" r="2.4" fill="#22e6f0"/>
<circle cx="137.4" cy="319.8" r="2.4" fill="#22e6f0"/>
<circle cx="145.3" cy="314.9" r="2.4" fill="#22e6f0"/>
<circle cx="153.3" cy="311.8" r="2.4" fill="#22e6f0"/>
<circle cx="161.2" cy="309.6" r="2.4" fill="#22e6f0"/>
<circle cx="169.2" cy="308.2" r="2.4" fill="#22e6f0"/>
<circle cx="177.1" cy="307.2" r="2.4" fill="#22e6f0"/>
<circle cx="185.1" cy="306.6" r="2.4" fill="#22e6f0"/>
<circle cx="193.1" cy="306.3" r="2.4" fill="#22e6f0"/>
<circle cx="201" cy="306.5" r="2.4" fill="#22e6f0"/>
<circle cx="209" cy="306.9" r="2.4" fill="#22e6f0"/>
<circle cx="216.9" cy="309.2" r="2.4" fill="#22e6f0"/>
<circle cx="224.8" cy="314.5" r="2.4" fill="#22e6f0"/>
<circle cx="232.8" cy="321.5" r="2.4" fill="#22e6f0"/>
<circle cx="240.8" cy="330.4" r="2.4" fill="#22e6f0"/>
<circle cx="248.7" cy="342.6" r="2.4" fill="#22e6f0"/>
<circle cx="256.6" cy="358.6" r="2.4" fill="#22e6f0"/>
<circle cx="264.6" cy="377.4" r="2.4" fill="#22e6f0"/>
<circle cx="272.5" cy="396.6" r="2.4" fill="#22e6f0"/>
<circle cx="280.5" cy="413.8" r="2.4" fill="#22e6f0"/>
<circle cx="288.4" cy="427.7" r="2.4" fill="#22e6f0"/>
<circle cx="296.4" cy="438.8" r="2.4" fill="#22e6f0"/>
<rect x="55.7" y="297.1" width="4.4" height="4.4" fill="#f0863a"/>
<rect x="63.6" y="300.6" width="4.4" height="4.4" fill="#f0863a"/>
<rect x="71.6" y="304.4" width="4.4" height="4.4" fill="#f0863a"/>
<rect x="79.5" y="308.9" width="4.4" height="4.4" fill="#f0863a"/>
<rect x="87.5" y="313.9" width="4.4" height="4.4" fill="#f0863a"/>
<rect x="95.4" y="320.1" width="4.4" height="4.4" fill="#f0863a"/>
<rect x="103.4" y="326.2" width="4.4" height="4.4" fill="#f0863a"/>
<rect x="111.3" y="331.9" width="4.4" height="4.4" fill="#f0863a"/>
<rect x="119.3" y="337.8" width="4.4" height="4.4" fill="#f0863a"/>
<rect x="127.2" y="344.1" width="4.4" height="4.4" fill="#f0863a"/>
<rect x="135.2" y="350" width="4.4" height="4.4" fill="#f0863a"/>
<rect x="143.2" y="356.1" width="4.4" height="4.4" fill="#f0863a"/>
<rect x="151.1" y="362.2" width="4.4" height="4.4" fill="#f0863a"/>
<rect x="159.1" y="368.2" width="4.4" height="4.4" fill="#f0863a"/>
<rect x="167" y="375.6" width="4.4" height="4.4" fill="#f0863a"/>
<rect x="174.9" y="383" width="4.4" height="4.4" fill="#f0863a"/>
<rect x="182.9" y="389.5" width="4.4" height="4.4" fill="#f0863a"/>
<rect x="190.9" y="396" width="4.4" height="4.4" fill="#f0863a"/>
<rect x="198.8" y="402.5" width="4.4" height="4.4" fill="#f0863a"/>
<rect x="206.8" y="408.9" width="4.4" height="4.4" fill="#f0863a"/>
<rect x="214.7" y="415.2" width="4.4" height="4.4" fill="#f0863a"/>
<rect x="222.7" y="421.3" width="4.4" height="4.4" fill="#f0863a"/>
<rect x="230.6" y="427.2" width="4.4" height="4.4" fill="#f0863a"/>
<rect x="238.6" y="433.3" width="4.4" height="4.4" fill="#f0863a"/>
<rect x="246.5" y="438.8" width="4.4" height="4.4" fill="#f0863a"/>
<rect x="254.4" y="443.1" width="4.4" height="4.4" fill="#f0863a"/>
<rect x="262.4" y="446.2" width="4.4" height="4.4" fill="#f0863a"/>
<rect x="270.3" y="448.6" width="4.4" height="4.4" fill="#f0863a"/>
<rect x="278.3" y="450.5" width="4.4" height="4.4" fill="#f0863a"/>
<rect x="286.2" y="451.6" width="4.4" height="4.4" fill="#f0863a"/>
<rect x="294.2" y="452.8" width="4.4" height="4.4" fill="#f0863a"/>
<rect x="55.7" y="426.1" width="4.4" height="4.4" fill="#f0863a"/>
<rect x="63.6" y="415.6" width="4.4" height="4.4" fill="#f0863a"/>
<rect x="71.6" y="404.4" width="4.4" height="4.4" fill="#f0863a"/>
<rect x="79.5" y="390.7" width="4.4" height="4.4" fill="#f0863a"/>
<rect x="87.5" y="374.6" width="4.4" height="4.4" fill="#f0863a"/>
<rect x="95.4" y="357.9" width="4.4" height="4.4" fill="#f0863a"/>
<rect x="103.4" y="342.5" width="4.4" height="4.4" fill="#f0863a"/>
<rect x="111.3" y="330" width="4.4" height="4.4" fill="#f0863a"/>
<rect x="119.3" y="319.9" width="4.4" height="4.4" fill="#f0863a"/>
<rect x="127.2" y="311.4" width="4.4" height="4.4" fill="#f0863a"/>
<rect x="135.2" y="305.6" width="4.4" height="4.4" fill="#f0863a"/>
<rect x="143.2" y="300.9" width="4.4" height="4.4" fill="#f0863a"/>
<rect x="151.1" y="297" width="4.4" height="4.4" fill="#f0863a"/>
<rect x="159.1" y="294.1" width="4.4" height="4.4" fill="#f0863a"/>
<rect x="167" y="291.9" width="4.4" height="4.4" fill="#f0863a"/>
<rect x="174.9" y="290.8" width="4.4" height="4.4" fill="#f0863a"/>
<rect x="182.9" y="290.8" width="4.4" height="4.4" fill="#f0863a"/>
<rect x="190.9" y="291.6" width="4.4" height="4.4" fill="#f0863a"/>
<rect x="198.8" y="293.1" width="4.4" height="4.4" fill="#f0863a"/>
<rect x="206.8" y="295.9" width="4.4" height="4.4" fill="#f0863a"/>
<rect x="214.7" y="300.4" width="4.4" height="4.4" fill="#f0863a"/>
<rect x="222.7" y="307.3" width="4.4" height="4.4" fill="#f0863a"/>
<rect x="230.6" y="317.9" width="4.4" height="4.4" fill="#f0863a"/>
<rect x="238.6" y="332.1" width="4.4" height="4.4" fill="#f0863a"/>
<rect x="246.5" y="350" width="4.4" height="4.4" fill="#f0863a"/>
<rect x="254.4" y="371.9" width="4.4" height="4.4" fill="#f0863a"/>
<rect x="262.4" y="394.6" width="4.4" height="4.4" fill="#f0863a"/>
<rect x="270.3" y="414.1" width="4.4" height="4.4" fill="#f0863a"/>
<rect x="278.3" y="429.1" width="4.4" height="4.4" fill="#f0863a"/>
<rect x="286.2" y="439.8" width="4.4" height="4.4" fill="#f0863a"/>
<rect x="294.2" y="447.5" width="4.4" height="4.4" fill="#f0863a"/>
<polygon points="57.9,287 60.7,290.1 57.9,293.2 55.1,290.1" fill="#2ee62e"/>
<polygon points="65.8,288.2 68.6,291.3 65.8,294.4 63,291.3" fill="#2ee62e"/>
<polygon points="73.8,289.6 76.6,292.7 73.8,295.8 71,292.7" fill="#2ee62e"/>
<polygon points="81.8,291.8 84.5,294.9 81.8,298 79,294.9" fill="#2ee62e"/>
<polygon points="89.7,295.5 92.5,298.6 89.7,301.7 86.9,298.6" fill="#2ee62e"/>
<polygon points="97.6,300.1 100.4,303.2 97.6,306.3 94.8,303.2" fill="#2ee62e"/>
<polygon points="105.6,305.4 108.4,308.5 105.6,311.6 102.8,308.5" fill="#2ee62e"/>
<polygon points="113.5,311.4 116.3,314.5 113.5,317.6 110.8,314.5" fill="#2ee62e"/>
<polygon points="121.5,318.4 124.3,321.5 121.5,324.6 118.7,321.5" fill="#2ee62e"/>
<polygon points="129.4,325.8 132.2,328.9 129.4,332 126.6,328.9" fill="#2ee62e"/>
<polygon points="137.4,333.1 140.2,336.2 137.4,339.3 134.6,336.2" fill="#2ee62e"/>
<polygon points="145.3,340.3 148.2,343.4 145.3,346.5 142.5,343.4" fill="#2ee62e"/>
<polygon points="153.3,348.3 156.1,351.4 153.3,354.5 150.5,351.4" fill="#2ee62e"/>
<polygon points="161.2,355.8 164.1,358.9 161.2,362 158.4,358.9" fill="#2ee62e"/>
<polygon points="169.2,363.6 172,366.7 169.2,369.8 166.4,366.7" fill="#2ee62e"/>
<polygon points="177.1,371.5 179.9,374.6 177.1,377.7 174.3,374.6" fill="#2ee62e"/>
<polygon points="185.1,379.5 187.9,382.6 185.1,385.7 182.3,382.6" fill="#2ee62e"/>
<polygon points="193.1,387.6 195.9,390.7 193.1,393.8 190.2,390.7" fill="#2ee62e"/>
<polygon points="201,395.9 203.8,399 201,402.1 198.2,399" fill="#2ee62e"/>
<polygon points="209,403.5 211.8,406.6 209,409.7 206.2,406.6" fill="#2ee62e"/>
<polygon points="216.9,410.3 219.7,413.4 216.9,416.5 214.1,413.4" fill="#2ee62e"/>
<polygon points="224.8,417.9 227.7,421 224.8,424.1 222,421" fill="#2ee62e"/>
<polygon points="232.8,425.3 235.6,428.4 232.8,431.5 230,428.4" fill="#2ee62e"/>
<polygon points="240.8,432.1 243.6,435.2 240.8,438.3 237.9,435.2" fill="#2ee62e"/>
<polygon points="248.7,438.1 251.5,441.2 248.7,444.3 245.9,441.2" fill="#2ee62e"/>
<polygon points="256.6,442.8 259.4,445.9 256.6,449 253.8,445.9" fill="#2ee62e"/>
<polygon points="264.6,446.5 267.4,449.6 264.6,452.7 261.8,449.6" fill="#2ee62e"/>
<polygon points="272.5,449 275.3,452.1 272.5,455.2 269.7,452.1" fill="#2ee62e"/>
<polygon points="280.5,450.3 283.3,453.4 280.5,456.5 277.7,453.4" fill="#2ee62e"/>
<polygon points="288.4,451 291.2,454.1 288.4,457.2 285.6,454.1" fill="#2ee62e"/>
<polygon points="296.4,451.6 299.2,454.7 296.4,457.8 293.6,454.7" fill="#2ee62e"/>
<polygon points="58.3,424.9 61.1,428 58.3,431.1 55.5,428" fill="#2ee62e"/>
<polygon points="65.8,369.6 68.6,372.7 65.8,375.8 63,372.7" fill="#2ee62e"/>
<polygon points="73.8,351.5 76.6,354.6 73.8,357.7 71,354.6" fill="#2ee62e"/>
<polygon points="81.8,338.9 84.5,342 81.8,345.1 79,342" fill="#2ee62e"/>
<polygon points="89.7,325.4 92.5,328.5 89.7,331.6 86.9,328.5" fill="#2ee62e"/>
<polygon points="97.6,314.1 100.4,317.2 97.6,320.3 94.8,317.2" fill="#2ee62e"/>
<polygon points="105.6,305.1 108.4,308.2 105.6,311.3 102.8,308.2" fill="#2ee62e"/>
<polygon points="113.5,297.6 116.3,300.7 113.5,303.8 110.8,300.7" fill="#2ee62e"/>
<polygon points="121.5,292.1 124.3,295.2 121.5,298.3 118.7,295.2" fill="#2ee62e"/>
<polygon points="129.4,288.6 132.2,291.7 129.4,294.8 126.6,291.7" fill="#2ee62e"/>
<polygon points="137.4,286.3 140.2,289.4 137.4,292.5 134.6,289.4" fill="#2ee62e"/>
<polygon points="145.3,284.8 148.2,287.9 145.3,291 142.5,287.9" fill="#2ee62e"/>
<polygon points="153.3,283.9 156.1,287 153.3,290.1 150.5,287" fill="#2ee62e"/>
<polygon points="161.2,283.5 164.1,286.6 161.2,289.7 158.4,286.6" fill="#2ee62e"/>
<polygon points="169.2,283.2 172,286.3 169.2,289.4 166.4,286.3" fill="#2ee62e"/>
<polygon points="177.1,283.4 179.9,286.5 177.1,289.6 174.3,286.5" fill="#2ee62e"/>
<polygon points="185.1,284.3 187.9,287.4 185.1,290.5 182.3,287.4" fill="#2ee62e"/>
<polygon points="193.1,285.7 195.9,288.8 193.1,291.9 190.2,288.8" fill="#2ee62e"/>
<polygon points="201,287.5 203.8,290.6 201,293.7 198.2,290.6" fill="#2ee62e"/>
<polygon points="209,290.6 211.8,293.7 209,296.8 206.2,293.7" fill="#2ee62e"/>
<polygon points="216.9,295.9 219.7,299 216.9,302.1 214.1,299" fill="#2ee62e"/>
<polygon points="224.8,303.3 227.7,306.4 224.8,309.5 222,306.4" fill="#2ee62e"/>
<polygon points="232.8,312.5 235.6,315.6 232.8,318.7 230,315.6" fill="#2ee62e"/>
<polygon points="240.8,325.3 243.6,328.4 240.8,331.5 237.9,328.4" fill="#2ee62e"/>
<polygon points="248.7,343.1 251.5,346.2 248.7,349.3 245.9,346.2" fill="#2ee62e"/>
<polygon points="256.6,367.9 259.4,371 256.6,374.1 253.8,371" fill="#2ee62e"/>
<polygon points="264.6,391.4 267.4,394.5 264.6,397.6 261.8,394.5" fill="#2ee62e"/>
<polygon points="272.5,410.9 275.3,414 272.5,417.1 269.7,414" fill="#2ee62e"/>
<polygon points="280.5,426.5 283.3,429.6 280.5,432.7 277.7,429.6" fill="#2ee62e"/>
<polygon points="288.4,438 291.2,441.1 288.4,444.2 285.6,441.1" fill="#2ee62e"/>
<polygon points="296.4,446 299.2,449.1 296.4,452.2 293.6,449.1" fill="#2ee62e"/>
<polygon points="55.4,279.8 60.1,277 60.1,282.6" fill="#8a2ee8"/>
<polygon points="63.3,281.5 68,278.7 68,284.3" fill="#8a2ee8"/>
<polygon points="71.3,284.5 76,281.7 76,287.3" fill="#8a2ee8"/>
<polygon points="79.2,289.4 84,286.6 84,292.2" fill="#8a2ee8"/>
<polygon points="87.2,295.6 91.9,292.8 91.9,298.4" fill="#8a2ee8"/>
<polygon points="95.1,302.3 99.8,299.5 99.8,305.1" fill="#8a2ee8"/>
<polygon points="103.1,309.4 107.8,306.6 107.8,312.2" fill="#8a2ee8"/>
<polygon points="111,316.8 115.8,314 115.8,319.6" fill="#8a2ee8"/>
<polygon points="119,324.4 123.7,321.6 123.7,327.2" fill="#8a2ee8"/>
<polygon points="126.9,332 131.6,329.2 131.6,334.8" fill="#8a2ee8"/>
<polygon points="134.9,339.6 139.6,336.8 139.6,342.4" fill="#8a2ee8"/>
<polygon points="142.8,348.1 147.5,345.3 147.5,350.9" fill="#8a2ee8"/>
<polygon points="150.8,356.5 155.5,353.7 155.5,359.3" fill="#8a2ee8"/>
<polygon points="158.8,364.2 163.4,361.4 163.4,367" fill="#8a2ee8"/>
<polygon points="166.7,372.5 171.4,369.7 171.4,375.3" fill="#8a2ee8"/>
<polygon points="174.6,380.6 179.3,377.8 179.3,383.4" fill="#8a2ee8"/>
<polygon points="182.6,388.6 187.3,385.8 187.3,391.4" fill="#8a2ee8"/>
<polygon points="190.6,396.7 195.2,393.9 195.2,399.5" fill="#8a2ee8"/>
<polygon points="198.5,405.1 203.2,402.3 203.2,407.9" fill="#8a2ee8"/>
<polygon points="206.5,413.2 211.2,410.4 211.2,416" fill="#8a2ee8"/>
<polygon points="214.4,421.2 219.1,418.4 219.1,424" fill="#8a2ee8"/>
<polygon points="222.3,428.5 227,425.7 227,431.3" fill="#8a2ee8"/>
<polygon points="230.3,436 235,433.2 235,438.8" fill="#8a2ee8"/>
<polygon points="238.2,442.8 242.9,440 242.9,445.6" fill="#8a2ee8"/>
<polygon points="246.2,449.1 250.9,446.3 250.9,451.9" fill="#8a2ee8"/>
<polygon points="254.1,454.2 258.8,451.4 258.8,457" fill="#8a2ee8"/>
<polygon points="262.1,458.4 266.8,455.6 266.8,461.2" fill="#8a2ee8"/>
<polygon points="270,461.4 274.7,458.6 274.7,464.2" fill="#8a2ee8"/>
<polygon points="278,463 282.7,460.2 282.7,465.8" fill="#8a2ee8"/>
<polygon points="285.9,464.1 290.6,461.3 290.6,466.9" fill="#8a2ee8"/>
<polygon points="293.9,464.5 298.6,461.7 298.6,467.3" fill="#8a2ee8"/>
<polygon points="55.4,412 60.1,409.2 60.1,414.8" fill="#8a2ee8"/>
<polygon points="63.3,391.9 68,389.1 68,394.7" fill="#8a2ee8"/>
<polygon points="71.3,374.5 76,371.7 76,377.3" fill="#8a2ee8"/>
<polygon points="79.2,357.6 84,354.8 84,360.4" fill="#8a2ee8"/>
<polygon points="87.2,341.6 91.9,338.8 91.9,344.4" fill="#8a2ee8"/>
<polygon points="95.1,327 99.8,324.2 99.8,329.8" fill="#8a2ee8"/>
<polygon points="103.1,315 107.8,312.2 107.8,317.8" fill="#8a2ee8"/>
<polygon points="111,305.6 115.8,302.8 115.8,308.4" fill="#8a2ee8"/>
<polygon points="119,298.8 123.7,296 123.7,301.6" fill="#8a2ee8"/>
<polygon points="126.9,293.7 131.6,290.9 131.6,296.5" fill="#8a2ee8"/>
<polygon points="134.9,290.8 139.6,288 139.6,293.6" fill="#8a2ee8"/>
<polygon points="142.8,289.2 147.5,286.4 147.5,292" fill="#8a2ee8"/>
<polygon points="150.8,288.4 155.5,285.6 155.5,291.2" fill="#8a2ee8"/>
<polygon points="158.8,287.9 163.4,285.1 163.4,290.7" fill="#8a2ee8"/>
<polygon points="166.7,287.8 171.4,285 171.4,290.6" fill="#8a2ee8"/>
<polygon points="174.6,287.9 179.3,285.1 179.3,290.7" fill="#8a2ee8"/>
<polygon points="182.6,288.4 187.3,285.6 187.3,291.2" fill="#8a2ee8"/>
<polygon points="190.6,289.3 195.2,286.5 195.2,292.1" fill="#8a2ee8"/>
<polygon points="198.5,290.9 203.2,288.1 203.2,293.7" fill="#8a2ee8"/>
<polygon points="206.5,293.9 211.2,291.1 211.2,296.7" fill="#8a2ee8"/>
<polygon points="214.4,299 219.1,296.2 219.1,301.8" fill="#8a2ee8"/>
<polygon points="222.3,306.2 227,303.4 227,309" fill="#8a2ee8"/>
<polygon points="230.3,315.2 235,312.4 235,318" fill="#8a2ee8"/>
<polygon points="238.2,327.3 242.9,324.5 242.9,330.1" fill="#8a2ee8"/>
<polygon points="246.2,342.3 250.9,339.5 250.9,345.1" fill="#8a2ee8"/>
<polygon points="254.1,360.9 258.8,358.1 258.8,363.7" fill="#8a2ee8"/>
<polygon points="262.1,381 266.8,378.2 266.8,383.8" fill="#8a2ee8"/>
<polygon points="270,400.3 274.7,397.5 274.7,403.1" fill="#8a2ee8"/>
<polygon points="278,419.2 282.7,416.4 282.7,422" fill="#8a2ee8"/>
<polygon points="285.9,432.6 290.6,429.8 290.6,435.4" fill="#8a2ee8"/>
<polygon points="293.9,443.3 298.6,440.5 298.6,446.1" fill="#8a2ee8"/>
<polygon points="55.1,273.7 60.7,273.7 57.9,278.4" fill="#f02ef0"/>
<polygon points="63,275.6 68.6,275.6 65.8,280.3" fill="#f02ef0"/>
<polygon points="71,279.9 76.6,279.9 73.8,284.6" fill="#f02ef0"/>
<polygon points="79,285.7 84.5,285.7 81.8,290.4" fill="#f02ef0"/>
<polygon points="86.9,291.9 92.5,291.9 89.7,296.6" fill="#f02ef0"/>
<polygon points="94.8,298.6 100.4,298.6 97.6,303.3" fill="#f02ef0"/>
<polygon points="102.8,306.1 108.4,306.1 105.6,310.8" fill="#f02ef0"/>
<polygon points="110.8,313.9 116.3,313.9 113.5,318.6" fill="#f02ef0"/>
<polygon points="118.7,321.6 124.3,321.6 121.5,326.3" fill="#f02ef0"/>
<polygon points="126.6,329.3 132.2,329.3 129.4,334" fill="#f02ef0"/>
<polygon points="134.6,336.9 140.2,336.9 137.4,341.6" fill="#f02ef0"/>
<polygon points="142.5,345.2 148.2,345.2 145.3,349.9" fill="#f02ef0"/>
<polygon points="150.5,353.5 156.1,353.5 153.3,358.2" fill="#f02ef0"/>
<polygon points="158.4,361.3 164.1,361.3 161.2,366" fill="#f02ef0"/>
<polygon points="166.4,369.5 172,369.5 169.2,374.2" fill="#f02ef0"/>
<polygon points="174.3,377.7 179.9,377.7 177.1,382.4" fill="#f02ef0"/>
<polygon points="182.3,385.8 187.9,385.8 185.1,390.5" fill="#f02ef0"/>
<polygon points="190.2,394 195.9,394 193.1,398.7" fill="#f02ef0"/>
<polygon points="198.2,402.3 203.8,402.3 201,407" fill="#f02ef0"/>
<polygon points="206.2,409.8 211.8,409.8 209,414.5" fill="#f02ef0"/>
<polygon points="214.1,417.3 219.7,417.3 216.9,422" fill="#f02ef0"/>
<polygon points="222,425.1 227.7,425.1 224.8,429.8" fill="#f02ef0"/>
<polygon points="230,432.6 235.6,432.6 232.8,437.3" fill="#f02ef0"/>
<polygon points="237.9,439.8 243.6,439.8 240.8,444.5" fill="#f02ef0"/>
<polygon points="245.9,446.3 251.5,446.3 248.7,451" fill="#f02ef0"/>
<polygon points="253.8,451.4 259.4,451.4 256.6,456.1" fill="#f02ef0"/>
<polygon points="261.8,455.4 267.4,455.4 264.6,460.1" fill="#f02ef0"/>
<polygon points="269.7,458.5 275.3,458.5 272.5,463.2" fill="#f02ef0"/>
<polygon points="277.7,460.2 283.3,460.2 280.5,464.9" fill="#f02ef0"/>
<polygon points="285.6,461.3 291.2,461.3 288.4,466" fill="#f02ef0"/>
<polygon points="293.6,461.7 299.2,461.7 296.4,466.4" fill="#f02ef0"/>
<polygon points="55.1,383.7 60.7,383.7 57.9,388.4" fill="#f02ef0"/>
<polygon points="63,359.9 68.6,359.9 65.8,364.6" fill="#f02ef0"/>
<polygon points="71,343.3 76.6,343.3 73.8,348" fill="#f02ef0"/>
<polygon points="79,330.8 84.5,330.8 81.8,335.5" fill="#f02ef0"/>
<polygon points="86.9,319.8 92.5,319.8 89.7,324.5" fill="#f02ef0"/>
<polygon points="94.8,310.3 100.4,310.3 97.6,315" fill="#f02ef0"/>
<polygon points="102.8,302.8 108.4,302.8 105.6,307.5" fill="#f02ef0"/>
<polygon points="110.8,297.1 116.3,297.1 113.5,301.8" fill="#f02ef0"/>
<polygon points="118.7,293.5 124.3,293.5 121.5,298.2" fill="#f02ef0"/>
<polygon points="126.6,292.3 132.2,292.3 129.4,297" fill="#f02ef0"/>
<polygon points="134.6,292.3 140.2,292.3 137.4,297" fill="#f02ef0"/>
<polygon points="142.5,291.5 148.2,291.5 145.3,296.2" fill="#f02ef0"/>
<polygon points="150.5,290.9 156.1,290.9 153.3,295.6" fill="#f02ef0"/>
<polygon points="158.4,290.2 164.1,290.2 161.2,294.9" fill="#f02ef0"/>
<polygon points="166.4,290 172,290 169.2,294.7" fill="#f02ef0"/>
<polygon points="174.3,290.5 179.9,290.5 177.1,295.2" fill="#f02ef0"/>
<polygon points="182.3,291.3 187.9,291.3 185.1,296" fill="#f02ef0"/>
<polygon points="190.2,292.9 195.9,292.9 193.1,297.6" fill="#f02ef0"/>
<polygon points="198.2,294.7 203.8,294.7 201,299.4" fill="#f02ef0"/>
<polygon points="206.2,297.3 211.8,297.3 209,302" fill="#f02ef0"/>
<polygon points="214.1,301.4 219.7,301.4 216.9,306.1" fill="#f02ef0"/>
<polygon points="222,307.4 227.7,307.4 224.8,312.1" fill="#f02ef0"/>
<polygon points="230,316.1 235.6,316.1 232.8,320.8" fill="#f02ef0"/>
<polygon points="237.9,326 243.6,326 240.8,330.7" fill="#f02ef0"/>
<polygon points="245.9,340.6 251.5,340.6 248.7,345.3" fill="#f02ef0"/>
<polygon points="253.8,358.9 259.4,358.9 256.6,363.6" fill="#f02ef0"/>
<polygon points="261.8,378.7 267.4,378.7 264.6,383.4" fill="#f02ef0"/>
<polygon points="269.7,397.8 275.3,397.8 272.5,402.5" fill="#f02ef0"/>
<polygon points="277.7,416.7 283.3,416.7 280.5,421.4" fill="#f02ef0"/>
<polygon points="285.6,430.2 291.2,430.2 288.4,434.9" fill="#f02ef0"/>
<polygon points="293.6,440.5 299.2,440.5 296.4,445.2" fill="#f02ef0"/>
<polygon points="55.1,292.9 60.7,292.9 57.9,288.2" fill="#1c1ce0"/>
<polygon points="63,297.4 68.6,297.4 65.8,292.7" fill="#1c1ce0"/>
<polygon points="71,302 76.6,302 73.8,297.3" fill="#1c1ce0"/>
<polygon points="79,307.2 84.5,307.2 81.8,302.5" fill="#1c1ce0"/>
<polygon points="86.9,311.8 92.5,311.8 89.7,307.1" fill="#1c1ce0"/>
<polygon points="94.8,317.4 100.4,317.4 97.6,312.7" fill="#1c1ce0"/>
<polygon points="102.8,323.5 108.4,323.5 105.6,318.8" fill="#1c1ce0"/>
<polygon points="110.8,328.8 116.3,328.8 113.5,324.1" fill="#1c1ce0"/>
<polygon points="118.7,334.4 124.3,334.4 121.5,329.7" fill="#1c1ce0"/>
<polygon points="126.6,342.5 132.2,342.5 129.4,337.8" fill="#1c1ce0"/>
<polygon points="134.6,349.3 140.2,349.3 137.4,344.6" fill="#1c1ce0"/>
<polygon points="142.5,356.6 148.2,356.6 145.3,351.9" fill="#1c1ce0"/>
<polygon points="150.5,363.8 156.1,363.8 153.3,359.1" fill="#1c1ce0"/>
<polygon points="158.4,371.1 164.1,371.1 161.2,366.4" fill="#1c1ce0"/>
<polygon points="166.4,378.7 172,378.7 169.2,374" fill="#1c1ce0"/>
<polygon points="174.3,385.9 179.9,385.9 177.1,381.2" fill="#1c1ce0"/>
<polygon points="182.3,392.9 187.9,392.9 185.1,388.2" fill="#1c1ce0"/>
<polygon points="190.2,399.7 195.9,399.7 193.1,395" fill="#1c1ce0"/>
<polygon points="198.2,407.2 203.8,407.2 201,402.5" fill="#1c1ce0"/>
<polygon points="206.2,414.4 211.8,414.4 209,409.7" fill="#1c1ce0"/>
<polygon points="214.1,421.8 219.7,421.8 216.9,417.1" fill="#1c1ce0"/>
<polygon points="222,429.2 227.7,429.2 224.8,424.5" fill="#1c1ce0"/>
<polygon points="230,435.5 235.6,435.5 232.8,430.8" fill="#1c1ce0"/>
<polygon points="237.9,441.5 243.6,441.5 240.8,436.8" fill="#1c1ce0"/>
<polygon points="245.9,446.3 251.5,446.3 248.7,441.6" fill="#1c1ce0"/>
<polygon points="253.8,450.4 259.4,450.4 256.6,445.7" fill="#1c1ce0"/>
<polygon points="261.8,453.2 267.4,453.2 264.6,448.5" fill="#1c1ce0"/>
<polygon points="269.7,454.9 275.3,454.9 272.5,450.2" fill="#1c1ce0"/>
<polygon points="277.7,456.2 283.3,456.2 280.5,451.5" fill="#1c1ce0"/>
<polygon points="285.6,456.9 291.2,456.9 288.4,452.2" fill="#1c1ce0"/>
<polygon points="293.6,457.4 299.2,457.4 296.4,452.7" fill="#1c1ce0"/>
<polygon points="55.1,386 60.7,386 57.9,381.3" fill="#1c1ce0"/>
<polygon points="63,376.2 68.6,376.2 65.8,371.5" fill="#1c1ce0"/>
<polygon points="71,366.4 76.6,366.4 73.8,361.7" fill="#1c1ce0"/>
<polygon points="79,358.2 84.5,358.2 81.8,353.5" fill="#1c1ce0"/>
<polygon points="86.9,351.6 92.5,351.6 89.7,346.9" fill="#1c1ce0"/>
<polygon points="94.8,346.2 100.4,346.2 97.6,341.5" fill="#1c1ce0"/>
<polygon points="102.8,341.4 108.4,341.4 105.6,336.7" fill="#1c1ce0"/>
<polygon points="110.8,336.5 116.3,336.5 113.5,331.8" fill="#1c1ce0"/>
<polygon points="118.7,331.4 124.3,331.4 121.5,326.7" fill="#1c1ce0"/>
<polygon points="126.6,325.2 132.2,325.2 129.4,320.5" fill="#1c1ce0"/>
<polygon points="134.6,319 140.2,319 137.4,314.3" fill="#1c1ce0"/>
<polygon points="142.5,314.2 148.2,314.2 145.3,309.5" fill="#1c1ce0"/>
<polygon points="150.5,310.8 156.1,310.8 153.3,306.1" fill="#1c1ce0"/>
<polygon points="158.4,308.1 164.1,308.1 161.2,303.4" fill="#1c1ce0"/>
<polygon points="166.4,306.5 172,306.5 169.2,301.8" fill="#1c1ce0"/>
<polygon points="174.3,305.9 179.9,305.9 177.1,301.2" fill="#1c1ce0"/>
<polygon points="182.3,305.7 187.9,305.7 185.1,301" fill="#1c1ce0"/>
<polygon points="190.2,305.8 195.9,305.8 193.1,301.1" fill="#1c1ce0"/>
<polygon points="198.2,307.1 203.8,307.1 201,302.4" fill="#1c1ce0"/>
<polygon points="206.2,309.6 211.8,309.6 209,304.9" fill="#1c1ce0"/>
<polygon points="214.1,314.6 219.7,314.6 216.9,309.9" fill="#1c1ce0"/>
<polygon points="222,322.4 227.7,322.4 224.8,317.7" fill="#1c1ce0"/>
<polygon points="230,333.5 235.6,333.5 232.8,328.8" fill="#1c1ce0"/>
<polygon points="237.9,348.3 243.6,348.3 240.8,343.6" fill="#1c1ce0"/>
<polygon points="245.9,366.7 251.5,366.7 248.7,362" fill="#1c1ce0"/>
<polygon points="253.8,387.2 259.4,387.2 256.6,382.5" fill="#1c1ce0"/>
<polygon points="261.8,406.9 267.4,406.9 264.6,402.2" fill="#1c1ce0"/>
<polygon points="269.7,423.8 275.3,423.8 272.5,419.1" fill="#1c1ce0"/>
<polygon points="277.7,437 283.3,437 280.5,432.3" fill="#1c1ce0"/>
<polygon points="285.6,446.2 291.2,446.2 288.4,441.5" fill="#1c1ce0"/>
<polygon points="293.6,452.7 299.2,452.7 296.4,448" fill="#1c1ce0"/>
<g fill="none" stroke="#333" stroke-width="0.9"><polyline points="57.9,309.4 58.9,309.4 59.9,309.5 60.9,309.6 61.9,309.6 62.9,309.7 63.9,309.8 64.9,309.9 65.8,310 66.8,310.1 67.8,310.3 68.8,310.4 69.8,310.5 70.8,310.7 71.8,310.9 72.8,311 73.8,311.2 74.8,311.4 75.8,311.6 76.8,311.8 77.8,312 78.8,312.2 79.8,312.5 80.8,312.7 81.8,312.9 82.7,313.2 83.7,313.4 84.7,313.7 85.7,314 86.7,314.2 87.7,314.5 88.7,314.8 89.7,315.1 90.7,315.4 91.7,315.7 92.7,316 93.7,316.3 94.7,316.6 95.7,316.9 96.7,317.2 97.6,317.4 98.6,317.8 99.6,318.1 100.6,318.5 101.6,319 102.6,319.5 103.6,320 104.6,320.6 105.6,321.2 106.6,321.8 107.6,322.4 108.6,323 109.6,323.7 110.6,324.4 111.6,325.1 112.6,325.8 113.5,326.5 114.5,327.2 115.5,328 116.5,328.7 117.5,329.5 118.5,330.3 119.5,331.1 120.5,331.9 121.5,332.8 122.5,333.6 123.5,334.5 124.5,335.3 125.5,336.2 126.5,337 127.5,337.9 128.5,338.7 129.4,339.6 130.4,340.5 131.4,341.3 132.4,342.2 133.4,343.1 134.4,344 135.4,344.9 136.4,345.8 137.4,346.7 138.4,347.5 139.4,348.4 140.4,349.4 141.4,350.3 142.4,351.2 143.4,352.1 144.4,353 145.3,353.9 146.3,354.8 147.3,355.7 148.3,356.6 149.3,357.6 150.3,358.5 151.3,359.4 152.3,360.3 153.3,361.2 154.3,362.2 155.3,363.1 156.3,364 157.3,365 158.3,365.9 159.3,366.8 160.3,367.7 161.2,368.7 162.2,369.6 163.2,370.5 164.2,371.5 165.2,372.4 166.2,373.3 167.2,374.3 168.2,375.2 169.2,376.1 170.2,377.1 171.2,378 172.2,378.9 173.2,379.9 174.2,380.8 175.2,381.7 176.2,382.7 177.1,383.6 178.1,384.5 179.1,385.5 180.1,386.4 181.1,387.3 182.1,388.3 183.1,389.2 184.1,390.2 185.1,391.1 186.1,392 187.1,393 188.1,393.9 189.1,394.8 190.1,395.8 191.1,396.7 192.1,397.6 193.1,398.6 194,399.5 195,400.4 196,401.4 197,402.3 198,403.2 199,404.2 200,405.1 201,406 202,406.9 203,407.9 204,408.8 205,409.7 206,410.6 207,411.6 208,412.5 209,413.4 209.9,414.3 210.9,415.3 211.9,416.2 212.9,417.1 213.9,418 214.9,418.9 215.9,419.8 216.9,420.7 217.9,421.6 218.9,422.5 219.9,423.4 220.9,424.3 221.9,425.2 222.9,426.1 223.9,427 224.8,427.9 225.8,428.8 226.8,429.7 227.8,430.5 228.8,431.4 229.8,432.3 230.8,433.1 231.8,434 232.8,434.8 233.8,435.7 234.8,436.5 235.8,437.3 236.8,438.2 237.8,439 238.8,439.8 239.8,440.6 240.8,441.3 241.7,442.1 242.7,442.9 243.7,443.6 244.7,444.4 245.7,445.1 246.7,445.8 247.7,446.5 248.7,447.2 249.7,447.9 250.7,448.5 251.7,449.2 252.7,449.8 253.7,450.4 254.7,451 255.7,451.6 256.6,452.2 257.6,452.8 258.6,453.3 259.6,453.8 260.6,454.3 261.6,454.8 262.6,455.2 263.6,455.7 264.6,456.1 265.6,456.5 266.6,456.8 267.6,457.2 268.6,457.5 269.6,457.8 270.6,458 271.6,458.3 272.5,458.5 273.5,458.8 274.5,459 275.5,459.2 276.5,459.4 277.5,459.6 278.5,459.7 279.5,459.9 280.5,460 281.5,460.2 282.5,460.3 283.5,460.4 284.5,460.5 285.5,460.6 286.5,460.7 287.5,460.8 288.4,460.8 289.4,460.9 290.4,461 291.4,461.1 292.4,461.2 293.4,461.2 294.4,461.3 295.4,461.4 296.4,461.5"/><polyline points="57.9,447.6 58.9,446.6 59.9,445.4 60.9,444.2 61.9,442.9 62.9,441.6 63.9,440.2 64.9,438.9 65.8,437.6 66.8,436.3 67.8,435.1 68.8,433.8 69.8,432.6 70.8,431.4 71.8,430.2 72.8,428.9 73.8,427.6 74.8,426.3 75.8,424.9 76.8,423.6 77.8,422.1 78.8,420.7 79.8,419.1 80.8,417.6 81.8,416 82.7,414.3 83.7,412.6 84.7,410.9 85.7,409.1 86.7,407.3 87.7,405.4 88.7,403.5 89.7,401.5 90.7,399.5 91.7,397.4 92.7,395.3 93.7,393.2 94.7,391 95.7,388.9 96.7,386.7 97.6,384.5 98.6,382.3 99.6,380 100.6,377.8 101.6,375.6 102.6,373.4 103.6,371.2 104.6,369 105.6,366.8 106.6,364.6 107.6,362.4 108.6,360.3 109.6,358.2 110.6,356.1 111.6,354.1 112.6,352.1 113.5,350.2 114.5,348.4 115.5,346.6 116.5,344.9 117.5,343.3 118.5,341.7 119.5,340.2 120.5,338.7 121.5,337.3 122.5,335.9 123.5,334.6 124.5,333.2 125.5,332 126.5,330.7 127.5,329.5 128.5,328.4 129.4,327.3 130.4,326.2 131.4,325.2 132.4,324.2 133.4,323.2 134.4,322.3 135.4,321.4 136.4,320.6 137.4,319.8 138.4,319.1 139.4,318.4 140.4,317.7 141.4,317.1 142.4,316.5 143.4,315.9 144.4,315.4 145.3,314.9 146.3,314.5 147.3,314 148.3,313.6 149.3,313.2 150.3,312.8 151.3,312.4 152.3,312.1 153.3,311.8 154.3,311.4 155.3,311.1 156.3,310.8 157.3,310.6 158.3,310.3 159.3,310.1 160.3,309.8 161.2,309.6 162.2,309.4 163.2,309.2 164.2,309 165.2,308.8 166.2,308.7 167.2,308.5 168.2,308.4 169.2,308.2 170.2,308.1 171.2,307.9 172.2,307.8 173.2,307.6 174.2,307.5 175.2,307.4 176.2,307.3 177.1,307.2 178.1,307.1 179.1,307 180.1,306.9 181.1,306.8 182.1,306.8 183.1,306.7 184.1,306.6 185.1,306.6 186.1,306.5 187.1,306.5 188.1,306.4 189.1,306.4 190.1,306.4 191.1,306.3 192.1,306.3 193.1,306.3 194,306.3 195,306.3 196,306.3 197,306.3 198,306.3 199,306.4 200,306.5 201,306.5 202,306.6 203,306.7 204,306.7 205,306.8 206,306.8 207,306.8 208,306.9 209,306.9 209.9,307 210.9,307.2 211.9,307.4 212.9,307.6 213.9,307.9 214.9,308.3 215.9,308.7 216.9,309.2 217.9,309.7 218.9,310.3 219.9,310.9 220.9,311.5 221.9,312.2 222.9,313 223.9,313.7 224.8,314.5 225.8,315.3 226.8,316.1 227.8,317 228.8,317.8 229.8,318.7 230.8,319.6 231.8,320.6 232.8,321.5 233.8,322.5 234.8,323.6 235.8,324.6 236.8,325.7 237.8,326.8 238.8,328 239.8,329.2 240.8,330.4 241.7,331.7 242.7,333 243.7,334.4 244.7,335.9 245.7,337.5 246.7,339.1 247.7,340.8 248.7,342.6 249.7,344.4 250.7,346.3 251.7,348.2 252.7,350.2 253.7,352.2 254.7,354.3 255.7,356.4 256.6,358.6 257.6,360.8 258.6,363.1 259.6,365.4 260.6,367.7 261.6,370.1 262.6,372.5 263.6,374.9 264.6,377.4 265.6,379.8 266.6,382.2 267.6,384.7 268.6,387.1 269.6,389.5 270.6,391.9 271.6,394.3 272.5,396.6 273.5,398.9 274.5,401.2 275.5,403.4 276.5,405.6 277.5,407.7 278.5,409.8 279.5,411.8 280.5,413.8 281.5,415.7 282.5,417.6 283.5,419.4 284.5,421.2 285.5,422.9 286.5,424.5 287.5,426.1 288.4,427.7 289.4,429.2 290.4,430.7 291.4,432.2 292.4,433.6 293.4,434.9 294.4,436.3 295.4,437.5 296.4,438.8"/><polyline points="57.9,299.3 58.9,299.6 59.9,300 60.9,300.5 61.9,300.9 62.9,301.4 63.9,301.9 64.9,302.3 65.8,302.8 66.8,303.3 67.8,303.7 68.8,304.2 69.8,304.7 70.8,305.1 71.8,305.6 72.8,306.1 73.8,306.6 74.8,307.1 75.8,307.7 76.8,308.2 77.8,308.8 78.8,309.4 79.8,310 80.8,310.6 81.8,311.1 82.7,311.7 83.7,312.3 84.7,312.9 85.7,313.5 86.7,314.1 87.7,314.7 88.7,315.4 89.7,316.1 90.7,316.8 91.7,317.5 92.7,318.3 93.7,319.1 94.7,319.9 95.7,320.7 96.7,321.5 97.6,322.3 98.6,323.1 99.6,323.9 100.6,324.7 101.6,325.4 102.6,326.2 103.6,326.9 104.6,327.7 105.6,328.4 106.6,329.2 107.6,329.9 108.6,330.6 109.6,331.4 110.6,332.1 111.6,332.7 112.6,333.4 113.5,334.1 114.5,334.7 115.5,335.4 116.5,336.1 117.5,336.8 118.5,337.6 119.5,338.3 120.5,339.2 121.5,340 122.5,340.8 123.5,341.6 124.5,342.4 125.5,343.2 126.5,344 127.5,344.8 128.5,345.6 129.4,346.3 130.4,347.1 131.4,347.8 132.4,348.5 133.4,349.2 134.4,350 135.4,350.7 136.4,351.4 137.4,352.2 138.4,352.9 139.4,353.7 140.4,354.5 141.4,355.2 142.4,356 143.4,356.8 144.4,357.6 145.3,358.3 146.3,359.1 147.3,359.9 148.3,360.6 149.3,361.4 150.3,362.2 151.3,362.9 152.3,363.6 153.3,364.4 154.3,365.1 155.3,365.8 156.3,366.5 157.3,367.3 158.3,368 159.3,368.8 160.3,369.6 161.2,370.4 162.2,371.2 163.2,372.1 164.2,372.9 165.2,373.8 166.2,374.8 167.2,375.8 168.2,376.8 169.2,377.8 170.2,378.8 171.2,379.8 172.2,380.8 173.2,381.7 174.2,382.6 175.2,383.5 176.2,384.3 177.1,385.2 178.1,386 179.1,386.8 180.1,387.7 181.1,388.5 182.1,389.3 183.1,390.1 184.1,390.9 185.1,391.7 186.1,392.6 187.1,393.4 188.1,394.2 189.1,395 190.1,395.8 191.1,396.6 192.1,397.4 193.1,398.2 194,399.1 195,399.9 196,400.7 197,401.5 198,402.3 199,403.1 200,403.9 201,404.7 202,405.5 203,406.3 204,407.1 205,407.9 206,408.7 207,409.5 208,410.3 209,411.1 209.9,411.9 210.9,412.7 211.9,413.5 212.9,414.3 213.9,415 214.9,415.8 215.9,416.6 216.9,417.4 217.9,418.2 218.9,418.9 219.9,419.7 220.9,420.5 221.9,421.2 222.9,422 223.9,422.8 224.8,423.5 225.8,424.3 226.8,425 227.8,425.8 228.8,426.5 229.8,427.2 230.8,428 231.8,428.7 232.8,429.4 233.8,430.2 234.8,430.9 235.8,431.7 236.8,432.4 237.8,433.2 238.8,434 239.8,434.8 240.8,435.5 241.7,436.3 242.7,437 243.7,437.7 244.7,438.4 245.7,439.1 246.7,439.7 247.7,440.4 248.7,441 249.7,441.6 250.7,442.2 251.7,442.7 252.7,443.3 253.7,443.8 254.7,444.3 255.7,444.8 256.6,445.3 257.6,445.7 258.6,446.1 259.6,446.6 260.6,446.9 261.6,447.3 262.6,447.7 263.6,448 264.6,448.4 265.6,448.7 266.6,449 267.6,449.3 268.6,449.6 269.6,449.9 270.6,450.2 271.6,450.5 272.5,450.8 273.5,451 274.5,451.3 275.5,451.6 276.5,451.8 277.5,452.1 278.5,452.3 279.5,452.5 280.5,452.7 281.5,452.9 282.5,453 283.5,453.2 284.5,453.3 285.5,453.5 286.5,453.6 287.5,453.7 288.4,453.8 289.4,454 290.4,454.1 291.4,454.2 292.4,454.4 293.4,454.5 294.4,454.7 295.4,454.8 296.4,455"/><polyline points="57.9,428.3 58.9,427.1 59.9,425.8 60.9,424.5 61.9,423.2 62.9,421.8 63.9,420.5 64.9,419.1 65.8,417.8 66.8,416.4 67.8,415.1 68.8,413.7 69.8,412.3 70.8,411 71.8,409.5 72.8,408.1 73.8,406.6 74.8,405 75.8,403.5 76.8,401.8 77.8,400.1 78.8,398.4 79.8,396.6 80.8,394.8 81.8,392.9 82.7,391 83.7,389.1 84.7,387.1 85.7,385.1 86.7,383 87.7,381 88.7,378.9 89.7,376.8 90.7,374.7 91.7,372.6 92.7,370.5 93.7,368.4 94.7,366.3 95.7,364.2 96.7,362.1 97.6,360.1 98.6,358.1 99.6,356 100.6,354.1 101.6,352.1 102.6,350.2 103.6,348.3 104.6,346.5 105.6,344.7 106.6,343 107.6,341.3 108.6,339.7 109.6,338.1 110.6,336.5 111.6,335 112.6,333.6 113.5,332.2 114.5,330.8 115.5,329.5 116.5,328.2 117.5,326.9 118.5,325.7 119.5,324.5 120.5,323.3 121.5,322.1 122.5,320.9 123.5,319.8 124.5,318.7 125.5,317.6 126.5,316.5 127.5,315.5 128.5,314.5 129.4,313.6 130.4,312.7 131.4,311.9 132.4,311.2 133.4,310.4 134.4,309.8 135.4,309.1 136.4,308.5 137.4,307.8 138.4,307.2 139.4,306.6 140.4,306 141.4,305.4 142.4,304.8 143.4,304.2 144.4,303.6 145.3,303.1 146.3,302.6 147.3,302 148.3,301.5 149.3,301 150.3,300.6 151.3,300.1 152.3,299.7 153.3,299.2 154.3,298.8 155.3,298.4 156.3,298 157.3,297.7 158.3,297.3 159.3,297 160.3,296.6 161.2,296.3 162.2,296 163.2,295.7 164.2,295.4 165.2,295.1 166.2,294.8 167.2,294.6 168.2,294.4 169.2,294.1 170.2,294 171.2,293.8 172.2,293.6 173.2,293.5 174.2,293.3 175.2,293.2 176.2,293.1 177.1,293 178.1,293 179.1,292.9 180.1,292.9 181.1,292.9 182.1,292.9 183.1,292.9 184.1,293 185.1,293 186.1,293.1 187.1,293.2 188.1,293.3 189.1,293.4 190.1,293.5 191.1,293.6 192.1,293.7 193.1,293.8 194,294 195,294.1 196,294.3 197,294.4 198,294.6 199,294.8 200,295.1 201,295.3 202,295.6 203,295.9 204,296.2 205,296.5 206,296.9 207,297.2 208,297.6 209,298.1 209.9,298.5 210.9,299 211.9,299.5 212.9,300.1 213.9,300.6 214.9,301.2 215.9,301.9 216.9,302.6 217.9,303.3 218.9,304 219.9,304.8 220.9,305.7 221.9,306.6 222.9,307.5 223.9,308.5 224.8,309.5 225.8,310.6 226.8,311.8 227.8,313 228.8,314.3 229.8,315.7 230.8,317.1 231.8,318.6 232.8,320.1 233.8,321.7 234.8,323.3 235.8,325 236.8,326.8 237.8,328.6 238.8,330.5 239.8,332.4 240.8,334.3 241.7,336.3 242.7,338.4 243.7,340.5 244.7,342.7 245.7,345 246.7,347.3 247.7,349.7 248.7,352.2 249.7,354.8 250.7,357.4 251.7,360.1 252.7,362.8 253.7,365.6 254.7,368.4 255.7,371.2 256.6,374.1 257.6,377 258.6,379.9 259.6,382.8 260.6,385.7 261.6,388.5 262.6,391.3 263.6,394.1 264.6,396.8 265.6,399.5 266.6,402.1 267.6,404.6 268.6,407.1 269.6,409.5 270.6,411.8 271.6,414.1 272.5,416.3 273.5,418.4 274.5,420.5 275.5,422.5 276.5,424.4 277.5,426.2 278.5,428 279.5,429.7 280.5,431.3 281.5,432.8 282.5,434.3 283.5,435.7 284.5,437.1 285.5,438.4 286.5,439.7 287.5,440.9 288.4,442 289.4,443.2 290.4,444.2 291.4,445.2 292.4,446.2 293.4,447.1 294.4,448 295.4,448.9 296.4,449.7"/><polyline points="57.9,290.1 58.9,290.2 59.9,290.4 60.9,290.5 61.9,290.7 62.9,290.8 63.9,291 64.9,291.2 65.8,291.3 66.8,291.5 67.8,291.7 68.8,291.8 69.8,292 70.8,292.1 71.8,292.3 72.8,292.5 73.8,292.7 74.8,292.9 75.8,293.1 76.8,293.3 77.8,293.6 78.8,293.9 79.8,294.2 80.8,294.6 81.8,294.9 82.7,295.3 83.7,295.7 84.7,296.2 85.7,296.6 86.7,297.1 87.7,297.6 88.7,298.1 89.7,298.6 90.7,299.2 91.7,299.7 92.7,300.3 93.7,300.8 94.7,301.4 95.7,302 96.7,302.6 97.6,303.2 98.6,303.9 99.6,304.5 100.6,305.2 101.6,305.8 102.6,306.5 103.6,307.2 104.6,307.8 105.6,308.5 106.6,309.2 107.6,309.9 108.6,310.6 109.6,311.3 110.6,312.1 111.6,312.9 112.6,313.7 113.5,314.5 114.5,315.3 115.5,316.2 116.5,317.1 117.5,318 118.5,318.8 119.5,319.7 120.5,320.6 121.5,321.5 122.5,322.4 123.5,323.4 124.5,324.3 125.5,325.2 126.5,326.1 127.5,327.1 128.5,328 129.4,328.9 130.4,329.8 131.4,330.8 132.4,331.7 133.4,332.6 134.4,333.5 135.4,334.4 136.4,335.3 137.4,336.2 138.4,337.1 139.4,338 140.4,338.9 141.4,339.7 142.4,340.6 143.4,341.5 144.4,342.4 145.3,343.4 146.3,344.3 147.3,345.3 148.3,346.3 149.3,347.3 150.3,348.4 151.3,349.4 152.3,350.4 153.3,351.4 154.3,352.3 155.3,353.3 156.3,354.2 157.3,355.2 158.3,356.1 159.3,357 160.3,358 161.2,358.9 162.2,359.9 163.2,360.8 164.2,361.8 165.2,362.8 166.2,363.8 167.2,364.8 168.2,365.7 169.2,366.7 170.2,367.7 171.2,368.7 172.2,369.7 173.2,370.7 174.2,371.7 175.2,372.7 176.2,373.7 177.1,374.6 178.1,375.6 179.1,376.6 180.1,377.6 181.1,378.6 182.1,379.6 183.1,380.6 184.1,381.6 185.1,382.6 186.1,383.6 187.1,384.6 188.1,385.6 189.1,386.6 190.1,387.6 191.1,388.6 192.1,389.6 193.1,390.7 194,391.7 195,392.8 196,393.8 197,394.9 198,395.9 199,397 200,398 201,399 202,400 203,401 204,402 205,403 206,403.9 207,404.9 208,405.8 209,406.6 209.9,407.5 210.9,408.3 211.9,409.2 212.9,410 213.9,410.8 214.9,411.7 215.9,412.6 216.9,413.4 217.9,414.4 218.9,415.3 219.9,416.2 220.9,417.2 221.9,418.2 222.9,419.1 223.9,420.1 224.8,421 225.8,422 226.8,422.9 227.8,423.8 228.8,424.7 229.8,425.7 230.8,426.6 231.8,427.5 232.8,428.4 233.8,429.2 234.8,430.1 235.8,431 236.8,431.9 237.8,432.7 238.8,433.6 239.8,434.4 240.8,435.2 241.7,436 242.7,436.8 243.7,437.6 244.7,438.3 245.7,439.1 246.7,439.8 247.7,440.5 248.7,441.2 249.7,441.8 250.7,442.4 251.7,443.1 252.7,443.7 253.7,444.2 254.7,444.8 255.7,445.4 256.6,445.9 257.6,446.5 258.6,447 259.6,447.5 260.6,447.9 261.6,448.4 262.6,448.8 263.6,449.2 264.6,449.6 265.6,450 266.6,450.4 267.6,450.7 268.6,451 269.6,451.3 270.6,451.6 271.6,451.8 272.5,452.1 273.5,452.3 274.5,452.5 275.5,452.7 276.5,452.9 277.5,453 278.5,453.2 279.5,453.3 280.5,453.4 281.5,453.5 282.5,453.6 283.5,453.7 284.5,453.8 285.5,453.9 286.5,453.9 287.5,454 288.4,454.1 289.4,454.2 290.4,454.3 291.4,454.3 292.4,454.4 293.4,454.5 294.4,454.5 295.4,454.6 296.4,454.7"/><polyline points="57.9,393.6 58.9,391 59.9,388.4 60.9,385.7 61.9,383.1 62.9,380.5 63.9,377.8 64.9,375.2 65.8,372.7 66.8,370.2 67.8,367.7 68.8,365.3 69.8,362.9 70.8,360.7 71.8,358.6 72.8,356.5 73.8,354.6 74.8,352.9 75.8,351.2 76.8,349.6 77.8,348.1 78.8,346.6 79.8,345.1 80.8,343.6 81.8,342 82.7,340.4 83.7,338.7 84.7,337 85.7,335.2 86.7,333.5 87.7,331.8 88.7,330.1 89.7,328.5 90.7,326.9 91.7,325.4 92.7,323.9 93.7,322.5 94.7,321.2 95.7,319.8 96.7,318.5 97.6,317.2 98.6,316 99.6,314.8 100.6,313.6 101.6,312.5 102.6,311.4 103.6,310.3 104.6,309.2 105.6,308.2 106.6,307.1 107.6,306.2 108.6,305.2 109.6,304.2 110.6,303.3 111.6,302.4 112.6,301.6 113.5,300.7 114.5,299.9 115.5,299.1 116.5,298.4 117.5,297.7 118.5,297 119.5,296.4 120.5,295.8 121.5,295.2 122.5,294.7 123.5,294.2 124.5,293.7 125.5,293.3 126.5,292.8 127.5,292.4 128.5,292.1 129.4,291.7 130.4,291.3 131.4,291 132.4,290.7 133.4,290.4 134.4,290.1 135.4,289.9 136.4,289.6 137.4,289.4 138.4,289.2 139.4,288.9 140.4,288.7 141.4,288.6 142.4,288.4 143.4,288.2 144.4,288.1 145.3,287.9 146.3,287.8 147.3,287.6 148.3,287.5 149.3,287.4 150.3,287.3 151.3,287.2 152.3,287.1 153.3,287 154.3,286.9 155.3,286.9 156.3,286.8 157.3,286.8 158.3,286.7 159.3,286.7 160.3,286.6 161.2,286.6 162.2,286.5 163.2,286.5 164.2,286.5 165.2,286.5 166.2,286.4 167.2,286.4 168.2,286.4 169.2,286.3 170.2,286.3 171.2,286.3 172.2,286.3 173.2,286.4 174.2,286.4 175.2,286.4 176.2,286.5 177.1,286.5 178.1,286.6 179.1,286.7 180.1,286.8 181.1,286.9 182.1,287 183.1,287.1 184.1,287.2 185.1,287.4 186.1,287.5 187.1,287.7 188.1,287.9 189.1,288 190.1,288.2 191.1,288.4 192.1,288.6 193.1,288.8 194,289 195,289.2 196,289.4 197,289.6 198,289.8 199,290.1 200,290.4 201,290.6 202,290.9 203,291.2 204,291.6 205,292 206,292.3 207,292.8 208,293.2 209,293.7 209.9,294.2 210.9,294.8 211.9,295.4 212.9,296.1 213.9,296.7 214.9,297.4 215.9,298.2 216.9,299 217.9,299.8 218.9,300.7 219.9,301.5 220.9,302.5 221.9,303.4 222.9,304.4 223.9,305.4 224.8,306.4 225.8,307.4 226.8,308.5 227.8,309.5 228.8,310.7 229.8,311.8 230.8,313 231.8,314.3 232.8,315.6 233.8,317 234.8,318.5 235.8,320 236.8,321.6 237.8,323.2 238.8,324.9 239.8,326.6 240.8,328.4 241.7,330.3 242.7,332.3 243.7,334.3 244.7,336.4 245.7,338.6 246.7,341 247.7,343.5 248.7,346.2 249.7,349 250.7,351.9 251.7,355 252.7,358.2 253.7,361.4 254.7,364.6 255.7,367.8 256.6,371 257.6,374.1 258.6,377.2 259.6,380.2 260.6,383.2 261.6,386.1 262.6,389 263.6,391.8 264.6,394.5 265.6,397.2 266.6,399.8 267.6,402.3 268.6,404.8 269.6,407.1 270.6,409.5 271.6,411.8 272.5,414 273.5,416.1 274.5,418.3 275.5,420.3 276.5,422.3 277.5,424.2 278.5,426.1 279.5,427.9 280.5,429.6 281.5,431.3 282.5,432.9 283.5,434.4 284.5,435.9 285.5,437.3 286.5,438.6 287.5,439.9 288.4,441.1 289.4,442.3 290.4,443.4 291.4,444.5 292.4,445.5 293.4,446.5 294.4,447.4 295.4,448.3 296.4,449.1"/><polyline points="57.9,279.8 58.9,280 59.9,280.2 60.9,280.3 61.9,280.5 62.9,280.8 63.9,281 64.9,281.2 65.8,281.5 66.8,281.8 67.8,282.1 68.8,282.4 69.8,282.8 70.8,283.2 71.8,283.6 72.8,284 73.8,284.5 74.8,285 75.8,285.6 76.8,286.1 77.8,286.8 78.8,287.4 79.8,288 80.8,288.7 81.8,289.4 82.7,290.1 83.7,290.9 84.7,291.6 85.7,292.4 86.7,293.2 87.7,293.9 88.7,294.7 89.7,295.6 90.7,296.4 91.7,297.2 92.7,298 93.7,298.9 94.7,299.7 95.7,300.6 96.7,301.4 97.6,302.3 98.6,303.2 99.6,304.1 100.6,304.9 101.6,305.8 102.6,306.7 103.6,307.6 104.6,308.5 105.6,309.4 106.6,310.3 107.6,311.2 108.6,312.1 109.6,313 110.6,313.9 111.6,314.9 112.6,315.8 113.5,316.8 114.5,317.7 115.5,318.7 116.5,319.7 117.5,320.6 118.5,321.6 119.5,322.5 120.5,323.4 121.5,324.4 122.5,325.3 123.5,326.3 124.5,327.2 125.5,328.2 126.5,329.1 127.5,330.1 128.5,331 129.4,332 130.4,332.9 131.4,333.9 132.4,334.8 133.4,335.8 134.4,336.7 135.4,337.7 136.4,338.6 137.4,339.6 138.4,340.6 139.4,341.7 140.4,342.7 141.4,343.8 142.4,344.8 143.4,345.9 144.4,347 145.3,348.1 146.3,349.1 147.3,350.2 148.3,351.3 149.3,352.3 150.3,353.4 151.3,354.4 152.3,355.5 153.3,356.5 154.3,357.5 155.3,358.4 156.3,359.4 157.3,360.3 158.3,361.3 159.3,362.3 160.3,363.3 161.2,364.2 162.2,365.3 163.2,366.3 164.2,367.3 165.2,368.4 166.2,369.4 167.2,370.5 168.2,371.5 169.2,372.5 170.2,373.6 171.2,374.6 172.2,375.6 173.2,376.6 174.2,377.6 175.2,378.6 176.2,379.6 177.1,380.6 178.1,381.6 179.1,382.6 180.1,383.6 181.1,384.6 182.1,385.6 183.1,386.6 184.1,387.6 185.1,388.6 186.1,389.6 187.1,390.6 188.1,391.6 189.1,392.6 190.1,393.6 191.1,394.7 192.1,395.7 193.1,396.7 194,397.8 195,398.8 196,399.9 197,401 198,402 199,403 200,404.1 201,405.1 202,406.1 203,407.1 204,408.1 205,409.1 206,410.1 207,411.2 208,412.2 209,413.2 209.9,414.3 210.9,415.3 211.9,416.4 212.9,417.4 213.9,418.4 214.9,419.3 215.9,420.3 216.9,421.2 217.9,422.2 218.9,423.1 219.9,424 220.9,424.9 221.9,425.8 222.9,426.7 223.9,427.6 224.8,428.5 225.8,429.4 226.8,430.4 227.8,431.3 228.8,432.3 229.8,433.2 230.8,434.1 231.8,435.1 232.8,436 233.8,436.9 234.8,437.7 235.8,438.6 236.8,439.4 237.8,440.3 238.8,441.1 239.8,441.9 240.8,442.8 241.7,443.6 242.7,444.4 243.7,445.2 244.7,446 245.7,446.8 246.7,447.6 247.7,448.3 248.7,449.1 249.7,449.8 250.7,450.5 251.7,451.1 252.7,451.8 253.7,452.4 254.7,453 255.7,453.6 256.6,454.2 257.6,454.8 258.6,455.4 259.6,455.9 260.6,456.4 261.6,456.9 262.6,457.4 263.6,457.9 264.6,458.4 265.6,458.8 266.6,459.2 267.6,459.7 268.6,460.1 269.6,460.4 270.6,460.8 271.6,461.1 272.5,461.4 273.5,461.6 274.5,461.9 275.5,462.1 276.5,462.3 277.5,462.5 278.5,462.7 279.5,462.9 280.5,463 281.5,463.2 282.5,463.3 283.5,463.5 284.5,463.6 285.5,463.8 286.5,463.9 287.5,464 288.4,464.1 289.4,464.2 290.4,464.3 291.4,464.4 292.4,464.4 293.4,464.5 294.4,464.5 295.4,464.5 296.4,464.5"/><polyline points="57.9,412 58.9,409.6 59.9,407.1 60.9,404.6 61.9,402 62.9,399.4 63.9,396.9 64.9,394.3 65.8,391.9 66.8,389.5 67.8,387.2 68.8,385 69.8,382.9 70.8,380.7 71.8,378.6 72.8,376.6 73.8,374.5 74.8,372.4 75.8,370.2 76.8,368.1 77.8,366 78.8,363.9 79.8,361.8 80.8,359.7 81.8,357.6 82.7,355.6 83.7,353.5 84.7,351.5 85.7,349.5 86.7,347.5 87.7,345.5 88.7,343.5 89.7,341.6 90.7,339.6 91.7,337.7 92.7,335.9 93.7,334 94.7,332.2 95.7,330.4 96.7,328.7 97.6,327 98.6,325.4 99.6,323.7 100.6,322.2 101.6,320.7 102.6,319.2 103.6,317.7 104.6,316.4 105.6,315 106.6,313.7 107.6,312.4 108.6,311.1 109.6,309.9 110.6,308.8 111.6,307.7 112.6,306.6 113.5,305.6 114.5,304.7 115.5,303.7 116.5,302.9 117.5,302 118.5,301.2 119.5,300.4 120.5,299.6 121.5,298.8 122.5,298 123.5,297.2 124.5,296.5 125.5,295.9 126.5,295.3 127.5,294.7 128.5,294.2 129.4,293.7 130.4,293.3 131.4,292.9 132.4,292.5 133.4,292.1 134.4,291.7 135.4,291.4 136.4,291.1 137.4,290.8 138.4,290.5 139.4,290.3 140.4,290.1 141.4,289.8 142.4,289.6 143.4,289.5 144.4,289.3 145.3,289.2 146.3,289 147.3,288.9 148.3,288.8 149.3,288.7 150.3,288.6 151.3,288.5 152.3,288.4 153.3,288.4 154.3,288.3 155.3,288.2 156.3,288.1 157.3,288.1 158.3,288 159.3,288 160.3,287.9 161.2,287.9 162.2,287.9 163.2,287.8 164.2,287.8 165.2,287.8 166.2,287.8 167.2,287.8 168.2,287.8 169.2,287.8 170.2,287.8 171.2,287.8 172.2,287.8 173.2,287.8 174.2,287.8 175.2,287.8 176.2,287.9 177.1,287.9 178.1,287.9 179.1,288 180.1,288 181.1,288.1 182.1,288.2 183.1,288.2 184.1,288.3 185.1,288.4 186.1,288.5 187.1,288.6 188.1,288.7 189.1,288.8 190.1,288.9 191.1,289 192.1,289.1 193.1,289.3 194,289.4 195,289.6 196,289.8 197,289.9 198,290.2 199,290.4 200,290.6 201,290.9 202,291.2 203,291.5 204,291.8 205,292.2 206,292.6 207,293 208,293.4 209,293.9 209.9,294.4 210.9,295 211.9,295.6 212.9,296.2 213.9,296.8 214.9,297.5 215.9,298.3 216.9,299 217.9,299.8 218.9,300.7 219.9,301.5 220.9,302.4 221.9,303.3 222.9,304.3 223.9,305.2 224.8,306.2 225.8,307.2 226.8,308.2 227.8,309.3 228.8,310.3 229.8,311.5 230.8,312.7 231.8,313.9 232.8,315.2 233.8,316.5 234.8,317.9 235.8,319.3 236.8,320.8 237.8,322.4 238.8,324 239.8,325.6 240.8,327.3 241.7,329 242.7,330.7 243.7,332.5 244.7,334.4 245.7,336.3 246.7,338.2 247.7,340.2 248.7,342.3 249.7,344.5 250.7,346.7 251.7,348.9 252.7,351.2 253.7,353.6 254.7,356 255.7,358.4 256.6,360.9 257.6,363.4 258.6,365.9 259.6,368.4 260.6,371 261.6,373.5 262.6,376 263.6,378.5 264.6,381 265.6,383.4 266.6,385.9 267.6,388.3 268.6,390.6 269.6,393 270.6,395.4 271.6,397.8 272.5,400.3 273.5,402.7 274.5,405.2 275.5,407.7 276.5,410.1 277.5,412.5 278.5,414.8 279.5,417 280.5,419.2 281.5,421.2 282.5,423 283.5,424.8 284.5,426.5 285.5,428.1 286.5,429.7 287.5,431.2 288.4,432.6 289.4,434 290.4,435.4 291.4,436.7 292.4,438 293.4,439.3 294.4,440.7 295.4,442 296.4,443.3"/><polyline points="57.9,275.7 58.9,275.9 59.9,276.1 60.9,276.3 61.9,276.5 62.9,276.7 63.9,277 64.9,277.2 65.8,277.6 66.8,278 67.8,278.4 68.8,278.9 69.8,279.4 70.8,280 71.8,280.6 72.8,281.3 73.8,281.9 74.8,282.6 75.8,283.3 76.8,284 77.8,284.7 78.8,285.4 79.8,286.2 80.8,286.9 81.8,287.7 82.7,288.5 83.7,289.2 84.7,290 85.7,290.8 86.7,291.5 87.7,292.3 88.7,293.1 89.7,293.9 90.7,294.7 91.7,295.5 92.7,296.4 93.7,297.2 94.7,298 95.7,298.9 96.7,299.8 97.6,300.6 98.6,301.5 99.6,302.4 100.6,303.4 101.6,304.3 102.6,305.2 103.6,306.2 104.6,307.1 105.6,308.1 106.6,309 107.6,310 108.6,311 109.6,312 110.6,312.9 111.6,313.9 112.6,314.9 113.5,315.9 114.5,316.8 115.5,317.8 116.5,318.8 117.5,319.8 118.5,320.7 119.5,321.7 120.5,322.6 121.5,323.6 122.5,324.5 123.5,325.5 124.5,326.5 125.5,327.4 126.5,328.4 127.5,329.4 128.5,330.3 129.4,331.3 130.4,332.2 131.4,333.2 132.4,334.1 133.4,335.1 134.4,336 135.4,337 136.4,337.9 137.4,338.9 138.4,339.9 139.4,340.9 140.4,342 141.4,343 142.4,344.1 143.4,345.1 144.4,346.2 145.3,347.2 146.3,348.3 147.3,349.4 148.3,350.4 149.3,351.5 150.3,352.5 151.3,353.5 152.3,354.5 153.3,355.5 154.3,356.5 155.3,357.5 156.3,358.4 157.3,359.4 158.3,360.4 159.3,361.3 160.3,362.3 161.2,363.3 162.2,364.3 163.2,365.3 164.2,366.3 165.2,367.4 166.2,368.4 167.2,369.5 168.2,370.5 169.2,371.5 170.2,372.6 171.2,373.6 172.2,374.6 173.2,375.6 174.2,376.6 175.2,377.6 176.2,378.7 177.1,379.7 178.1,380.7 179.1,381.7 180.1,382.7 181.1,383.7 182.1,384.7 183.1,385.7 184.1,386.8 185.1,387.8 186.1,388.8 187.1,389.8 188.1,390.8 189.1,391.9 190.1,392.9 191.1,393.9 192.1,395 193.1,396 194,397 195,398.1 196,399.1 197,400.2 198,401.2 199,402.2 200,403.3 201,404.3 202,405.3 203,406.2 204,407.2 205,408.2 206,409.1 207,410 208,410.9 209,411.8 209.9,412.7 210.9,413.6 211.9,414.6 212.9,415.5 213.9,416.4 214.9,417.4 215.9,418.4 216.9,419.3 217.9,420.3 218.9,421.3 219.9,422.3 220.9,423.2 221.9,424.2 222.9,425.2 223.9,426.1 224.8,427.1 225.8,428 226.8,429 227.8,430 228.8,430.9 229.8,431.8 230.8,432.8 231.8,433.7 232.8,434.6 233.8,435.6 234.8,436.5 235.8,437.4 236.8,438.3 237.8,439.2 238.8,440.1 239.8,441 240.8,441.8 241.7,442.7 242.7,443.5 243.7,444.4 244.7,445.2 245.7,446 246.7,446.8 247.7,447.6 248.7,448.3 249.7,449 250.7,449.7 251.7,450.4 252.7,451.1 253.7,451.7 254.7,452.3 255.7,452.9 256.6,453.4 257.6,454 258.6,454.5 259.6,455 260.6,455.5 261.6,456 262.6,456.5 263.6,457 264.6,457.4 265.6,457.9 266.6,458.3 267.6,458.7 268.6,459.1 269.6,459.5 270.6,459.8 271.6,460.2 272.5,460.5 273.5,460.7 274.5,461 275.5,461.2 276.5,461.5 277.5,461.7 278.5,461.9 279.5,462.1 280.5,462.2 281.5,462.4 282.5,462.6 283.5,462.7 284.5,462.9 285.5,463 286.5,463.1 287.5,463.2 288.4,463.3 289.4,463.4 290.4,463.5 291.4,463.6 292.4,463.6 293.4,463.7 294.4,463.7 295.4,463.7 296.4,463.7"/><polyline points="57.9,385.7 58.9,382.7 59.9,379.6 60.9,376.5 61.9,373.4 62.9,370.4 63.9,367.4 64.9,364.6 65.8,361.9 66.8,359.3 67.8,357 68.8,354.8 69.8,352.7 70.8,350.7 71.8,348.9 72.8,347.1 73.8,345.3 74.8,343.6 75.8,342 76.8,340.4 77.8,338.8 78.8,337.3 79.8,335.8 80.8,334.3 81.8,332.8 82.7,331.4 83.7,329.9 84.7,328.5 85.7,327.1 86.7,325.8 87.7,324.4 88.7,323.1 89.7,321.8 90.7,320.5 91.7,319.2 92.7,318 93.7,316.8 94.7,315.6 95.7,314.5 96.7,313.4 97.6,312.3 98.6,311.3 99.6,310.3 100.6,309.3 101.6,308.4 102.6,307.5 103.6,306.6 104.6,305.7 105.6,304.8 106.6,304 107.6,303.2 108.6,302.4 109.6,301.7 110.6,301 111.6,300.3 112.6,299.7 113.5,299.1 114.5,298.5 115.5,298 116.5,297.4 117.5,297 118.5,296.5 119.5,296.1 120.5,295.8 121.5,295.5 122.5,295.2 123.5,294.9 124.5,294.7 125.5,294.5 126.5,294.4 127.5,294.3 128.5,294.3 129.4,294.3 130.4,294.4 131.4,294.4 132.4,294.5 133.4,294.5 134.4,294.5 135.4,294.4 136.4,294.4 137.4,294.3 138.4,294.2 139.4,294.1 140.4,293.9 141.4,293.8 142.4,293.7 143.4,293.6 144.4,293.6 145.3,293.5 146.3,293.4 147.3,293.3 148.3,293.2 149.3,293.2 150.3,293.1 151.3,293.1 152.3,293 153.3,292.9 154.3,292.9 155.3,292.8 156.3,292.7 157.3,292.6 158.3,292.5 159.3,292.4 160.3,292.3 161.2,292.2 162.2,292.1 163.2,292.1 164.2,292 165.2,292 166.2,292 167.2,292 168.2,292 169.2,292 170.2,292 171.2,292.1 172.2,292.1 173.2,292.2 174.2,292.2 175.2,292.3 176.2,292.4 177.1,292.5 178.1,292.6 179.1,292.6 180.1,292.7 181.1,292.8 182.1,292.9 183.1,293.1 184.1,293.2 185.1,293.3 186.1,293.5 187.1,293.6 188.1,293.8 189.1,294 190.1,294.2 191.1,294.4 192.1,294.6 193.1,294.9 194,295.1 195,295.3 196,295.5 197,295.7 198,296 199,296.2 200,296.4 201,296.7 202,296.9 203,297.2 204,297.5 205,297.8 206,298.1 207,298.5 208,298.9 209,299.3 209.9,299.8 210.9,300.3 211.9,300.8 212.9,301.3 213.9,301.8 214.9,302.3 215.9,302.9 216.9,303.4 217.9,304 218.9,304.6 219.9,305.2 220.9,305.9 221.9,306.7 222.9,307.5 223.9,308.4 224.8,309.4 225.8,310.4 226.8,311.5 227.8,312.6 228.8,313.6 229.8,314.7 230.8,315.8 231.8,316.9 232.8,318.1 233.8,319.2 234.8,320.4 235.8,321.6 236.8,322.8 237.8,324 238.8,325.3 239.8,326.6 240.8,328 241.7,329.5 242.7,331.1 243.7,332.8 244.7,334.6 245.7,336.5 246.7,338.5 247.7,340.5 248.7,342.6 249.7,344.7 250.7,346.9 251.7,349.2 252.7,351.4 253.7,353.7 254.7,356.1 255.7,358.5 256.6,360.9 257.6,363.4 258.6,365.9 259.6,368.3 260.6,370.8 261.6,373.3 262.6,375.8 263.6,378.3 264.6,380.7 265.6,383.1 266.6,385.5 267.6,387.9 268.6,390.2 269.6,392.6 270.6,395 271.6,397.4 272.5,399.8 273.5,402.2 274.5,404.7 275.5,407.2 276.5,409.6 277.5,412 278.5,414.3 279.5,416.5 280.5,418.7 281.5,420.7 282.5,422.6 283.5,424.4 284.5,426.1 285.5,427.7 286.5,429.2 287.5,430.7 288.4,432.2 289.4,433.6 290.4,434.9 291.4,436.3 292.4,437.6 293.4,438.8 294.4,440.1 295.4,441.3 296.4,442.5"/><polyline points="57.9,290.9 58.9,291.5 59.9,292 60.9,292.6 61.9,293.1 62.9,293.7 63.9,294.2 64.9,294.8 65.8,295.4 66.8,296 67.8,296.5 68.8,297.1 69.8,297.7 70.8,298.2 71.8,298.8 72.8,299.4 73.8,300 74.8,300.7 75.8,301.3 76.8,302 77.8,302.7 78.8,303.3 79.8,304 80.8,304.6 81.8,305.2 82.7,305.8 83.7,306.4 84.7,307 85.7,307.5 86.7,308.1 87.7,308.6 88.7,309.2 89.7,309.8 90.7,310.4 91.7,311 92.7,311.6 93.7,312.3 94.7,313 95.7,313.8 96.7,314.6 97.6,315.4 98.6,316.3 99.6,317.1 100.6,317.9 101.6,318.6 102.6,319.4 103.6,320.1 104.6,320.8 105.6,321.5 106.6,322.2 107.6,322.9 108.6,323.5 109.6,324.2 110.6,324.9 111.6,325.5 112.6,326.1 113.5,326.8 114.5,327.4 115.5,328 116.5,328.7 117.5,329.3 118.5,330 119.5,330.8 120.5,331.6 121.5,332.4 122.5,333.4 123.5,334.4 124.5,335.4 125.5,336.4 126.5,337.5 127.5,338.5 128.5,339.5 129.4,340.5 130.4,341.4 131.4,342.2 132.4,343.1 133.4,343.9 134.4,344.7 135.4,345.6 136.4,346.4 137.4,347.3 138.4,348.2 139.4,349.1 140.4,350 141.4,350.9 142.4,351.9 143.4,352.8 144.4,353.7 145.3,354.6 146.3,355.6 147.3,356.5 148.3,357.4 149.3,358.3 150.3,359.1 151.3,360 152.3,360.9 153.3,361.8 154.3,362.7 155.3,363.6 156.3,364.5 157.3,365.4 158.3,366.3 159.3,367.2 160.3,368.2 161.2,369.1 162.2,370.1 163.2,371 164.2,372 165.2,372.9 166.2,373.9 167.2,374.8 168.2,375.7 169.2,376.7 170.2,377.6 171.2,378.5 172.2,379.4 173.2,380.3 174.2,381.2 175.2,382.1 176.2,383 177.1,383.9 178.1,384.8 179.1,385.6 180.1,386.5 181.1,387.4 182.1,388.3 183.1,389.2 184.1,390 185.1,390.9 186.1,391.7 187.1,392.5 188.1,393.4 189.1,394.2 190.1,395 191.1,395.9 192.1,396.8 193.1,397.7 194,398.6 195,399.5 196,400.4 197,401.4 198,402.3 199,403.3 200,404.2 201,405.2 202,406.1 203,407 204,407.9 205,408.8 206,409.7 207,410.6 208,411.5 209,412.4 209.9,413.4 210.9,414.3 211.9,415.2 212.9,416.1 213.9,417 214.9,417.9 215.9,418.9 216.9,419.8 217.9,420.8 218.9,421.7 219.9,422.7 220.9,423.6 221.9,424.5 222.9,425.4 223.9,426.3 224.8,427.2 225.8,428 226.8,428.9 227.8,429.7 228.8,430.4 229.8,431.2 230.8,432 231.8,432.8 232.8,433.5 233.8,434.3 234.8,435.1 235.8,435.9 236.8,436.6 237.8,437.4 238.8,438.1 239.8,438.8 240.8,439.5 241.7,440.2 242.7,440.8 243.7,441.5 244.7,442.1 245.7,442.6 246.7,443.2 247.7,443.8 248.7,444.3 249.7,444.9 250.7,445.4 251.7,446 252.7,446.5 253.7,447 254.7,447.5 255.7,447.9 256.6,448.4 257.6,448.8 258.6,449.2 259.6,449.6 260.6,450 261.6,450.3 262.6,450.7 263.6,451 264.6,451.2 265.6,451.5 266.6,451.7 267.6,452 268.6,452.2 269.6,452.4 270.6,452.6 271.6,452.8 272.5,452.9 273.5,453.1 274.5,453.3 275.5,453.5 276.5,453.6 277.5,453.8 278.5,453.9 279.5,454 280.5,454.2 281.5,454.3 282.5,454.4 283.5,454.5 284.5,454.6 285.5,454.7 286.5,454.8 287.5,454.8 288.4,454.9 289.4,455 290.4,455 291.4,455.1 292.4,455.2 293.4,455.2 294.4,455.3 295.4,455.3 296.4,455.4"/><polyline points="57.9,384 58.9,382.8 59.9,381.5 60.9,380.3 61.9,379.1 62.9,377.9 63.9,376.7 64.9,375.4 65.8,374.2 66.8,373 67.8,371.7 68.8,370.5 69.8,369.2 70.8,367.9 71.8,366.7 72.8,365.5 73.8,364.4 74.8,363.2 75.8,362.1 76.8,361.1 77.8,360.1 78.8,359.1 79.8,358.1 80.8,357.2 81.8,356.2 82.7,355.3 83.7,354.5 84.7,353.6 85.7,352.8 86.7,352 87.7,351.2 88.7,350.4 89.7,349.6 90.7,348.9 91.7,348.2 92.7,347.5 93.7,346.8 94.7,346.2 95.7,345.5 96.7,344.9 97.6,344.2 98.6,343.6 99.6,343 100.6,342.4 101.6,341.8 102.6,341.2 103.6,340.6 104.6,340 105.6,339.4 106.6,338.8 107.6,338.2 108.6,337.6 109.6,337 110.6,336.4 111.6,335.8 112.6,335.2 113.5,334.5 114.5,333.9 115.5,333.3 116.5,332.7 117.5,332.1 118.5,331.4 119.5,330.8 120.5,330.1 121.5,329.4 122.5,328.7 123.5,327.9 124.5,327.1 125.5,326.4 126.5,325.6 127.5,324.8 128.5,324 129.4,323.2 130.4,322.4 131.4,321.6 132.4,320.8 133.4,320 134.4,319.2 135.4,318.5 136.4,317.7 137.4,317 138.4,316.4 139.4,315.7 140.4,315.1 141.4,314.4 142.4,313.9 143.4,313.3 144.4,312.7 145.3,312.2 146.3,311.7 147.3,311.3 148.3,310.8 149.3,310.4 150.3,310 151.3,309.6 152.3,309.2 153.3,308.8 154.3,308.4 155.3,308 156.3,307.7 157.3,307.4 158.3,307 159.3,306.7 160.3,306.4 161.2,306.1 162.2,305.9 163.2,305.6 164.2,305.4 165.2,305.2 166.2,305 167.2,304.8 168.2,304.6 169.2,304.5 170.2,304.3 171.2,304.2 172.2,304.1 173.2,304.1 174.2,304 175.2,303.9 176.2,303.9 177.1,303.9 178.1,303.8 179.1,303.8 180.1,303.8 181.1,303.7 182.1,303.7 183.1,303.7 184.1,303.7 185.1,303.7 186.1,303.7 187.1,303.7 188.1,303.7 189.1,303.7 190.1,303.7 191.1,303.7 192.1,303.8 193.1,303.8 194,303.9 195,304 196,304.2 197,304.3 198,304.5 199,304.7 200,304.9 201,305.1 202,305.3 203,305.6 204,305.8 205,306.1 206,306.4 207,306.8 208,307.2 209,307.6 209.9,308.1 210.9,308.6 211.9,309.2 212.9,309.8 213.9,310.4 214.9,311.1 215.9,311.8 216.9,312.6 217.9,313.4 218.9,314.3 219.9,315.2 220.9,316.1 221.9,317.1 222.9,318.2 223.9,319.3 224.8,320.4 225.8,321.6 226.8,322.9 227.8,324.2 228.8,325.5 229.8,326.9 230.8,328.4 231.8,329.9 232.8,331.5 233.8,333.1 234.8,334.8 235.8,336.6 236.8,338.4 237.8,340.3 238.8,342.2 239.8,344.2 240.8,346.3 241.7,348.4 242.7,350.6 243.7,352.8 244.7,355.1 245.7,357.5 246.7,359.8 247.7,362.3 248.7,364.7 249.7,367.2 250.7,369.7 251.7,372.3 252.7,374.9 253.7,377.4 254.7,380 255.7,382.6 256.6,385.2 257.6,387.7 258.6,390.3 259.6,392.8 260.6,395.3 261.6,397.7 262.6,400.2 263.6,402.6 264.6,404.9 265.6,407.2 266.6,409.5 267.6,411.7 268.6,413.8 269.6,415.9 270.6,417.9 271.6,419.9 272.5,421.8 273.5,423.7 274.5,425.5 275.5,427.2 276.5,428.9 277.5,430.5 278.5,432.1 279.5,433.5 280.5,435 281.5,436.3 282.5,437.6 283.5,438.8 284.5,440 285.5,441.1 286.5,442.2 287.5,443.3 288.4,444.2 289.4,445.2 290.4,446.1 291.4,447 292.4,447.8 293.4,448.6 294.4,449.3 295.4,450 296.4,450.7"/></g>
</g>
<g fill="none" stroke-linecap="butt">
<path stroke="#111" stroke-width="1.4" d="M57.3 267.9H297"/>
<path stroke="#111" stroke-width="1.4" d="M57.9 267.3V476.2"/>
<path stroke="#111" stroke-width="1.3" d="M296.4 267.3V476.2"/>
<path stroke="#111" stroke-width="1.4" d="M57.3 475.6H297"/>
<path stroke="#111" stroke-width="1" d="M57.9 475.6v4M69.9 475.6v-1.8M76.9 475.6v-1.8M81.8 475.6v-1.8M85.7 475.6v-1.8M88.8 475.6v-1.8M91.5 475.6v-1.8M93.8 475.6v-1.8M95.8 475.6v-1.8M97.6 475.6v4M109.6 475.6v-1.8M116.6 475.6v-1.8M121.6 475.6v-1.8M125.4 475.6v-1.8M128.6 475.6v-1.8M131.2 475.6v-1.8M133.5 475.6v-1.8M135.6 475.6v-1.8M137.4 475.6v4M149.4 475.6v-1.8M156.4 475.6v-1.8M161.3 475.6v-1.8M165.2 475.6v-1.8M168.3 475.6v-1.8M171 475.6v-1.8M173.3 475.6v-1.8M175.3 475.6v-1.8M177.1 475.6v4M189.1 475.6v-1.8M196.1 475.6v-1.8M201.1 475.6v-1.8M204.9 475.6v-1.8M208.1 475.6v-1.8M210.7 475.6v-1.8M213 475.6v-1.8M215.1 475.6v-1.8M216.9 475.6v4M228.9 475.6v-1.8M235.9 475.6v-1.8M240.8 475.6v-1.8M244.7 475.6v-1.8M247.8 475.6v-1.8M250.5 475.6v-1.8M252.8 475.6v-1.8M254.8 475.6v-1.8M256.6 475.6v4M268.6 475.6v-1.8M275.6 475.6v-1.8M280.6 475.6v-1.8M284.4 475.6v-1.8M287.6 475.6v-1.8M290.2 475.6v-1.8M292.5 475.6v-1.8M294.6 475.6v-1.8M296.4 475.6v3.5M57.9 471.7h1.8M57.9 466.2h1.8M57.9 461.9h1.8M57.9 458.4h1.8M57.9 455.5h1.8M57.9 452.9h1.8M57.9 450.6h1.8M57.9 448.6h-3.5M57.9 435.3h1.8M57.9 427.5h1.8M57.9 422h1.8M57.9 417.7h1.8M57.9 414.2h1.8M57.9 411.2h1.8M57.9 408.6h1.8M57.9 406.4h1.8M57.9 404.4h-3.5M57.9 391h1.8M57.9 383.2h1.8M57.9 377.7h1.8M57.9 373.4h1.8M57.9 369.9h1.8M57.9 367h1.8M57.9 364.4h1.8M57.9 362.1h1.8M57.9 360.1h-3.5M57.9 346.8h1.8M57.9 339h1.8M57.9 333.5h1.8M57.9 329.2h1.8M57.9 325.7h1.8M57.9 322.7h1.8M57.9 320.1h1.8M57.9 317.9h1.8M57.9 315.9h-3.5M57.9 302.5h1.8M57.9 294.7h1.8M57.9 289.2h1.8M57.9 284.9h1.8M57.9 281.4h1.8M57.9 278.5h1.8M57.9 275.9h1.8M57.9 273.6h1.8M57.9 271.6h-3.5M296.4 476h-1.6M296.4 465.1h3.5M296.4 454.2h-1.6M296.4 443.2h-1.6M296.4 432.3h-1.6M296.4 421.3h-1.6M296.4 410.4h-1.6M296.4 399.4h3.5M296.4 388.5h-1.6M296.4 377.5h-1.6M296.4 366.6h-1.6M296.4 355.7h-1.6M296.4 344.7h-1.6M296.4 333.8h3.5M296.4 322.8h-1.6M296.4 311.9h-1.6M296.4 300.9h-1.6M296.4 290h-1.6M296.4 279h-1.6M296.4 268.1h3.5"/>
</g>
<g font-family='"Liberation Serif", serif' font-weight="bold" fill="#111" stroke="#111" stroke-width="0.2">
<text x="57.9" y="492.1" font-size="11.3" text-anchor="middle" textLength="17.2" lengthAdjust="spacingAndGlyphs">0.01</text>
<text x="137.4" y="492.1" font-size="11.3" text-anchor="middle" textLength="4.9" lengthAdjust="spacingAndGlyphs">1</text>
<text x="216.9" y="492.1" font-size="11.3" text-anchor="middle" textLength="14.7" lengthAdjust="spacingAndGlyphs">100</text>
<text x="296.4" y="492.1" font-size="11.3" text-anchor="middle" textLength="24.5" lengthAdjust="spacingAndGlyphs">10000</text>
<text x="51" y="452" font-size="11.6" text-anchor="end" textLength="10.2" lengthAdjust="spacingAndGlyphs">10</text>
<text x="51" y="407.8" font-size="11.6" text-anchor="end" textLength="15.3" lengthAdjust="spacingAndGlyphs">100</text>
<text x="51" y="363.5" font-size="11.6" text-anchor="end" textLength="20.4" lengthAdjust="spacingAndGlyphs">1000</text>
<text x="51" y="319.3" font-size="11.6" text-anchor="end" textLength="25.5" lengthAdjust="spacingAndGlyphs">10000</text>
<text x="51" y="275" font-size="11.6" text-anchor="end" textLength="30.6" lengthAdjust="spacingAndGlyphs">100000</text>
<text x="302.9" y="468.6" font-size="11.0" textLength="5.2" lengthAdjust="spacingAndGlyphs">0</text>
<text x="302.9" y="403" font-size="11.0" textLength="10.4" lengthAdjust="spacingAndGlyphs">30</text>
<text x="302.9" y="337.3" font-size="11.0" textLength="10.4" lengthAdjust="spacingAndGlyphs">60</text>
<text x="302.9" y="271.6" font-size="11.0" textLength="10.4" lengthAdjust="spacingAndGlyphs">90</text>
</g>
<g stroke="#111" stroke-width="0.25">
<text x="177.2" y="514" text-anchor="middle" font-size="11.2" textLength="74.0" lengthAdjust="spacingAndGlyphs">Frequency (Hz)</text>
<text transform="translate(15.6 370) rotate(-90)" text-anchor="middle" font-size="12.0" textLength="80.7" lengthAdjust="spacingAndGlyphs">| Z | (ohm.cm<tspan font-size="9.6" dy="-5">2</tspan><tspan dy="5">)</tspan></text>
<text transform="translate(318 372) rotate(90)" text-anchor="middle" font-size="11.6" textLength="86.0" lengthAdjust="spacingAndGlyphs">- Phase angle (<tspan font-size="8.7" dy="-4.6">o</tspan><tspan dy="4.6">)</tspan></text>
<text x="292.8" y="287.6" text-anchor="end" font-size="21.3">(c)</text>
</g>
<text x="109.6" y="396" font-size="9.8" fill="#3ee8f2" stroke="#3ee8f2" stroke-width="0.3">Blank</text>
<text x="109.6" y="409.5" font-size="9.8" fill="#f0843a" stroke="#f0843a" stroke-width="0.3" textLength="53.4" lengthAdjust="spacingAndGlyphs">GLU 1 wt.%</text>
<text x="109.6" y="423" font-size="9.8" fill="#22e022" stroke="#22e022" stroke-width="0.3" textLength="53.4" lengthAdjust="spacingAndGlyphs">GLU 2 wt.%</text>
<text x="109.6" y="436.5" font-size="9.8" fill="#7a227e" stroke="#7a227e" stroke-width="0.3" textLength="53.4" lengthAdjust="spacingAndGlyphs">GLU 3 wt.%</text>
<text x="109.6" y="450" font-size="9.8" fill="#ee2aee" stroke="#ee2aee" stroke-width="0.3" textLength="53.4" lengthAdjust="spacingAndGlyphs">GLU 4 wt.%</text>
<text x="109.6" y="463.5" font-size="9.8" fill="#1a1ad8" stroke="#1a1ad8" stroke-width="0.3" textLength="53.4" lengthAdjust="spacingAndGlyphs">GLU 5 wt.%</text>
<g clip-path="url(#clipd)">
<circle cx="398" cy="317.8" r="2.4" fill="#22e6f0"/>
<circle cx="406" cy="318.8" r="2.4" fill="#22e6f0"/>
<circle cx="413.9" cy="320.2" r="2.4" fill="#22e6f0"/>
<circle cx="421.9" cy="322.2" r="2.4" fill="#22e6f0"/>
<circle cx="429.8" cy="324.8" r="2.4" fill="#22e6f0"/>
<circle cx="437.8" cy="328.5" r="2.4" fill="#22e6f0"/>
<circle cx="445.7" cy="333.1" r="2.4" fill="#22e6f0"/>
<circle cx="453.7" cy="338.3" r="2.4" fill="#22e6f0"/>
<circle cx="461.6" cy="344.1" r="2.4" fill="#22e6f0"/>
<circle cx="469.6" cy="350.2" r="2.4" fill="#22e6f0"/>
<circle cx="477.5" cy="356.5" r="2.4" fill="#22e6f0"/>
<circle cx="485.5" cy="363" r="2.4" fill="#22e6f0"/>
<circle cx="493.4" cy="369.6" r="2.4" fill="#22e6f0"/>
<circle cx="501.4" cy="376.2" r="2.4" fill="#22e6f0"/>
<circle cx="509.3" cy="382.9" r="2.4" fill="#22e6f0"/>
<circle cx="517.3" cy="389.6" r="2.4" fill="#22e6f0"/>
<circle cx="525.3" cy="396.1" r="2.4" fill="#22e6f0"/>
<circle cx="533.2" cy="402.7" r="2.4" fill="#22e6f0"/>
<circle cx="541.2" cy="409.3" r="2.4" fill="#22e6f0"/>
<circle cx="549.1" cy="415.7" r="2.4" fill="#22e6f0"/>
<circle cx="557.1" cy="421.8" r="2.4" fill="#22e6f0"/>
<circle cx="565" cy="427.7" r="2.4" fill="#22e6f0"/>
<circle cx="573" cy="433" r="2.4" fill="#22e6f0"/>
<circle cx="580.9" cy="437.6" r="2.4" fill="#22e6f0"/>
<circle cx="588.9" cy="441.4" r="2.4" fill="#22e6f0"/>
<circle cx="596.8" cy="444.4" r="2.4" fill="#22e6f0"/>
<circle cx="604.8" cy="446.7" r="2.4" fill="#22e6f0"/>
<circle cx="612.7" cy="448.4" r="2.4" fill="#22e6f0"/>
<circle cx="620.7" cy="449.2" r="2.4" fill="#22e6f0"/>
<circle cx="628.6" cy="449.2" r="2.4" fill="#22e6f0"/>
<circle cx="636.6" cy="449.4" r="2.4" fill="#22e6f0"/>
<circle cx="398" cy="408.2" r="2.4" fill="#22e6f0"/>
<circle cx="406" cy="393.3" r="2.4" fill="#22e6f0"/>
<circle cx="413.9" cy="378.6" r="2.4" fill="#22e6f0"/>
<circle cx="421.9" cy="364.3" r="2.4" fill="#22e6f0"/>
<circle cx="429.8" cy="351.7" r="2.4" fill="#22e6f0"/>
<circle cx="437.8" cy="342.9" r="2.4" fill="#22e6f0"/>
<circle cx="445.7" cy="335.5" r="2.4" fill="#22e6f0"/>
<circle cx="453.7" cy="328.5" r="2.4" fill="#22e6f0"/>
<circle cx="461.6" cy="322.3" r="2.4" fill="#22e6f0"/>
<circle cx="469.6" cy="317.6" r="2.4" fill="#22e6f0"/>
<circle cx="477.5" cy="313.7" r="2.4" fill="#22e6f0"/>
<circle cx="485.5" cy="310.2" r="2.4" fill="#22e6f0"/>
<circle cx="493.4" cy="306.6" r="2.4" fill="#22e6f0"/>
<circle cx="501.4" cy="303.6" r="2.4" fill="#22e6f0"/>
<circle cx="509.3" cy="301.8" r="2.4" fill="#22e6f0"/>
<circle cx="517.3" cy="301.9" r="2.4" fill="#22e6f0"/>
<circle cx="525.3" cy="303.1" r="2.4" fill="#22e6f0"/>
<circle cx="533.2" cy="302.8" r="2.4" fill="#22e6f0"/>
<circle cx="541.2" cy="304.3" r="2.4" fill="#22e6f0"/>
<circle cx="549.1" cy="308.3" r="2.4" fill="#22e6f0"/>
<circle cx="557.1" cy="312.8" r="2.4" fill="#22e6f0"/>
<circle cx="565" cy="320.4" r="2.4" fill="#22e6f0"/>
<circle cx="573" cy="332.4" r="2.4" fill="#22e6f0"/>
<circle cx="580.9" cy="348.2" r="2.4" fill="#22e6f0"/>
<circle cx="588.9" cy="364.5" r="2.4" fill="#22e6f0"/>
<circle cx="596.8" cy="385.8" r="2.4" fill="#22e6f0"/>
<circle cx="604.8" cy="409.2" r="2.4" fill="#22e6f0"/>
<circle cx="612.7" cy="429.6" r="2.4" fill="#22e6f0"/>
<circle cx="620.7" cy="445.1" r="2.4" fill="#22e6f0"/>
<circle cx="628.6" cy="459.1" r="2.4" fill="#22e6f0"/>
<circle cx="636.6" cy="469.2" r="2.4" fill="#22e6f0"/>
<rect x="395.8" y="299.6" width="4.4" height="4.4" fill="#f0863a"/>
<rect x="403.8" y="302.4" width="4.4" height="4.4" fill="#f0863a"/>
<rect x="411.7" y="305.9" width="4.4" height="4.4" fill="#f0863a"/>
<rect x="419.7" y="310.4" width="4.4" height="4.4" fill="#f0863a"/>
<rect x="427.6" y="315.7" width="4.4" height="4.4" fill="#f0863a"/>
<rect x="435.6" y="321.5" width="4.4" height="4.4" fill="#f0863a"/>
<rect x="443.5" y="326.6" width="4.4" height="4.4" fill="#f0863a"/>
<rect x="451.5" y="331" width="4.4" height="4.4" fill="#f0863a"/>
<rect x="459.4" y="335.7" width="4.4" height="4.4" fill="#f0863a"/>
<rect x="467.4" y="340.9" width="4.4" height="4.4" fill="#f0863a"/>
<rect x="475.3" y="346.8" width="4.4" height="4.4" fill="#f0863a"/>
<rect x="483.3" y="353.1" width="4.4" height="4.4" fill="#f0863a"/>
<rect x="491.2" y="359.9" width="4.4" height="4.4" fill="#f0863a"/>
<rect x="499.2" y="366.9" width="4.4" height="4.4" fill="#f0863a"/>
<rect x="507.1" y="374" width="4.4" height="4.4" fill="#f0863a"/>
<rect x="515.1" y="381.2" width="4.4" height="4.4" fill="#f0863a"/>
<rect x="523.1" y="388.4" width="4.4" height="4.4" fill="#f0863a"/>
<rect x="531" y="395.6" width="4.4" height="4.4" fill="#f0863a"/>
<rect x="539" y="402.7" width="4.4" height="4.4" fill="#f0863a"/>
<rect x="546.9" y="409.8" width="4.4" height="4.4" fill="#f0863a"/>
<rect x="554.9" y="416.7" width="4.4" height="4.4" fill="#f0863a"/>
<rect x="562.8" y="423.3" width="4.4" height="4.4" fill="#f0863a"/>
<rect x="570.8" y="429.6" width="4.4" height="4.4" fill="#f0863a"/>
<rect x="578.7" y="435.2" width="4.4" height="4.4" fill="#f0863a"/>
<rect x="586.7" y="439.9" width="4.4" height="4.4" fill="#f0863a"/>
<rect x="594.6" y="443.4" width="4.4" height="4.4" fill="#f0863a"/>
<rect x="602.6" y="445.4" width="4.4" height="4.4" fill="#f0863a"/>
<rect x="610.5" y="447.5" width="4.4" height="4.4" fill="#f0863a"/>
<rect x="618.5" y="448.7" width="4.4" height="4.4" fill="#f0863a"/>
<rect x="626.4" y="449.6" width="4.4" height="4.4" fill="#f0863a"/>
<rect x="634.4" y="450.1" width="4.4" height="4.4" fill="#f0863a"/>
<rect x="395.8" y="440" width="4.4" height="4.4" fill="#f0863a"/>
<rect x="403.8" y="429.9" width="4.4" height="4.4" fill="#f0863a"/>
<rect x="411.7" y="418.8" width="4.4" height="4.4" fill="#f0863a"/>
<rect x="419.7" y="406.7" width="4.4" height="4.4" fill="#f0863a"/>
<rect x="427.6" y="393.8" width="4.4" height="4.4" fill="#f0863a"/>
<rect x="435.6" y="380.4" width="4.4" height="4.4" fill="#f0863a"/>
<rect x="443.5" y="367.9" width="4.4" height="4.4" fill="#f0863a"/>
<rect x="451.5" y="358" width="4.4" height="4.4" fill="#f0863a"/>
<rect x="459.4" y="349.4" width="4.4" height="4.4" fill="#f0863a"/>
<rect x="467.4" y="341.3" width="4.4" height="4.4" fill="#f0863a"/>
<rect x="475.3" y="334.1" width="4.4" height="4.4" fill="#f0863a"/>
<rect x="483.3" y="327.6" width="4.4" height="4.4" fill="#f0863a"/>
<rect x="491.2" y="321.6" width="4.4" height="4.4" fill="#f0863a"/>
<rect x="499.2" y="316.3" width="4.4" height="4.4" fill="#f0863a"/>
<rect x="507.1" y="312.2" width="4.4" height="4.4" fill="#f0863a"/>
<rect x="515.1" y="309.5" width="4.4" height="4.4" fill="#f0863a"/>
<rect x="523.1" y="308.5" width="4.4" height="4.4" fill="#f0863a"/>
<rect x="531" y="309.2" width="4.4" height="4.4" fill="#f0863a"/>
<rect x="539" y="312.2" width="4.4" height="4.4" fill="#f0863a"/>
<rect x="546.9" y="320" width="4.4" height="4.4" fill="#f0863a"/>
<rect x="554.9" y="332.2" width="4.4" height="4.4" fill="#f0863a"/>
<rect x="562.8" y="349" width="4.4" height="4.4" fill="#f0863a"/>
<rect x="570.8" y="369" width="4.4" height="4.4" fill="#f0863a"/>
<rect x="578.7" y="391.4" width="4.4" height="4.4" fill="#f0863a"/>
<rect x="586.7" y="412.8" width="4.4" height="4.4" fill="#f0863a"/>
<rect x="594.6" y="430.8" width="4.4" height="4.4" fill="#f0863a"/>
<rect x="602.6" y="443.8" width="4.4" height="4.4" fill="#f0863a"/>
<rect x="610.5" y="452.7" width="4.4" height="4.4" fill="#f0863a"/>
<rect x="618.5" y="459.7" width="4.4" height="4.4" fill="#f0863a"/>
<rect x="626.4" y="465.3" width="4.4" height="4.4" fill="#f0863a"/>
<rect x="634.4" y="468.4" width="4.4" height="4.4" fill="#f0863a"/>
<polygon points="398,295.5 400.8,298.6 398,301.7 395.2,298.6" fill="#2ee62e"/>
<polygon points="406,297.6 408.8,300.7 406,303.8 403.2,300.7" fill="#2ee62e"/>
<polygon points="413.9,300.4 416.7,303.5 413.9,306.6 411.1,303.5" fill="#2ee62e"/>
<polygon points="421.9,304 424.7,307.1 421.9,310.2 419.1,307.1" fill="#2ee62e"/>
<polygon points="429.8,308.1 432.6,311.2 429.8,314.3 427,311.2" fill="#2ee62e"/>
<polygon points="437.8,311.3 440.6,314.4 437.8,317.5 435,314.4" fill="#2ee62e"/>
<polygon points="445.7,314.4 448.5,317.5 445.7,320.6 442.9,317.5" fill="#2ee62e"/>
<polygon points="453.7,318.9 456.5,322 453.7,325.1 450.9,322" fill="#2ee62e"/>
<polygon points="461.6,325.1 464.4,328.2 461.6,331.3 458.8,328.2" fill="#2ee62e"/>
<polygon points="469.6,332.4 472.4,335.5 469.6,338.6 466.8,335.5" fill="#2ee62e"/>
<polygon points="477.5,339.8 480.3,342.9 477.5,346 474.7,342.9" fill="#2ee62e"/>
<polygon points="485.5,347.6 488.3,350.7 485.5,353.8 482.7,350.7" fill="#2ee62e"/>
<polygon points="493.4,355.5 496.2,358.6 493.4,361.7 490.6,358.6" fill="#2ee62e"/>
<polygon points="501.4,363.8 504.2,366.9 501.4,370 498.6,366.9" fill="#2ee62e"/>
<polygon points="509.3,372 512.1,375.1 509.3,378.2 506.5,375.1" fill="#2ee62e"/>
<polygon points="517.3,379.8 520.1,382.9 517.3,386 514.5,382.9" fill="#2ee62e"/>
<polygon points="525.3,387.5 528.1,390.6 525.3,393.7 522.5,390.6" fill="#2ee62e"/>
<polygon points="533.2,395.5 536,398.6 533.2,401.7 530.4,398.6" fill="#2ee62e"/>
<polygon points="541.2,403.3 544,406.4 541.2,409.5 538.4,406.4" fill="#2ee62e"/>
<polygon points="549.1,411.1 551.9,414.2 549.1,417.3 546.3,414.2" fill="#2ee62e"/>
<polygon points="557.1,419.1 559.9,422.2 557.1,425.3 554.3,422.2" fill="#2ee62e"/>
<polygon points="565,426.9 567.8,430 565,433.1 562.2,430" fill="#2ee62e"/>
<polygon points="573,434.1 575.8,437.2 573,440.3 570.2,437.2" fill="#2ee62e"/>
<polygon points="580.9,440.4 583.7,443.5 580.9,446.6 578.1,443.5" fill="#2ee62e"/>
<polygon points="588.9,445.8 591.7,448.9 588.9,452 586.1,448.9" fill="#2ee62e"/>
<polygon points="596.8,450.3 599.6,453.4 596.8,456.5 594,453.4" fill="#2ee62e"/>
<polygon points="604.8,453.3 607.6,456.4 604.8,459.5 602,456.4" fill="#2ee62e"/>
<polygon points="612.7,454.6 615.5,457.7 612.7,460.8 609.9,457.7" fill="#2ee62e"/>
<polygon points="620.7,455 623.5,458.1 620.7,461.2 617.9,458.1" fill="#2ee62e"/>
<polygon points="628.6,455 631.4,458.1 628.6,461.2 625.8,458.1" fill="#2ee62e"/>
<polygon points="636.6,455.1 639.4,458.2 636.6,461.3 633.8,458.2" fill="#2ee62e"/>
<polygon points="398,414.9 400.8,418 398,421.1 395.2,418" fill="#2ee62e"/>
<polygon points="406,402.7 408.8,405.8 406,408.9 403.2,405.8" fill="#2ee62e"/>
<polygon points="413.9,388 416.7,391.1 413.9,394.2 411.1,391.1" fill="#2ee62e"/>
<polygon points="421.9,370.6 424.7,373.7 421.9,376.8 419.1,373.7" fill="#2ee62e"/>
<polygon points="429.8,353.6 432.6,356.7 429.8,359.8 427,356.7" fill="#2ee62e"/>
<polygon points="437.8,339 440.6,342.1 437.8,345.2 435,342.1" fill="#2ee62e"/>
<polygon points="445.7,327.3 448.5,330.4 445.7,333.5 442.9,330.4" fill="#2ee62e"/>
<polygon points="453.7,319.2 456.5,322.3 453.7,325.4 450.9,322.3" fill="#2ee62e"/>
<polygon points="461.6,312.7 464.4,315.8 461.6,318.9 458.8,315.8" fill="#2ee62e"/>
<polygon points="469.6,307.9 472.4,311 469.6,314.1 466.8,311" fill="#2ee62e"/>
<polygon points="477.5,304.4 480.3,307.5 477.5,310.6 474.7,307.5" fill="#2ee62e"/>
<polygon points="485.5,301.3 488.3,304.4 485.5,307.5 482.7,304.4" fill="#2ee62e"/>
<polygon points="493.4,298.4 496.2,301.5 493.4,304.6 490.6,301.5" fill="#2ee62e"/>
<polygon points="501.4,296.2 504.2,299.3 501.4,302.4 498.6,299.3" fill="#2ee62e"/>
<polygon points="509.3,294.2 512.1,297.3 509.3,300.4 506.5,297.3" fill="#2ee62e"/>
<polygon points="517.3,292.6 520.1,295.7 517.3,298.8 514.5,295.7" fill="#2ee62e"/>
<polygon points="525.3,292.1 528.1,295.2 525.3,298.3 522.5,295.2" fill="#2ee62e"/>
<polygon points="533.2,292.4 536,295.5 533.2,298.6 530.4,295.5" fill="#2ee62e"/>
<polygon points="541.2,294 544,297.1 541.2,300.2 538.4,297.1" fill="#2ee62e"/>
<polygon points="549.1,297.2 551.9,300.3 549.1,303.4 546.3,300.3" fill="#2ee62e"/>
<polygon points="557.1,302.7 559.9,305.8 557.1,308.9 554.3,305.8" fill="#2ee62e"/>
<polygon points="565,311.1 567.8,314.2 565,317.3 562.2,314.2" fill="#2ee62e"/>
<polygon points="573,323.5 575.8,326.6 573,329.7 570.2,326.6" fill="#2ee62e"/>
<polygon points="580.9,339.9 583.7,343 580.9,346.1 578.1,343" fill="#2ee62e"/>
<polygon points="588.9,360.2 591.7,363.3 588.9,366.4 586.1,363.3" fill="#2ee62e"/>
<polygon points="596.8,382.8 599.6,385.9 596.8,389 594,385.9" fill="#2ee62e"/>
<polygon points="604.8,406.1 607.6,409.2 604.8,412.3 602,409.2" fill="#2ee62e"/>
<polygon points="612.7,426.3 615.5,429.4 612.7,432.5 609.9,429.4" fill="#2ee62e"/>
<polygon points="620.7,441.6 623.5,444.7 620.7,447.8 617.9,444.7" fill="#2ee62e"/>
<polygon points="628.6,453.7 631.4,456.8 628.6,459.9 625.8,456.8" fill="#2ee62e"/>
<polygon points="636.6,460.4 639.4,463.5 636.6,466.6 633.8,463.5" fill="#2ee62e"/>
<polygon points="395.5,294.4 400.2,291.6 400.2,297.2" fill="#8a2ee8"/>
<polygon points="403.5,296.4 408.2,293.6 408.2,299.2" fill="#8a2ee8"/>
<polygon points="411.4,299.3 416.1,296.5 416.1,302.1" fill="#8a2ee8"/>
<polygon points="419.4,302.6 424.1,299.8 424.1,305.4" fill="#8a2ee8"/>
<polygon points="427.3,307.5 432,304.7 432,310.3" fill="#8a2ee8"/>
<polygon points="435.3,312.8 440,310 440,315.6" fill="#8a2ee8"/>
<polygon points="443.2,318.6 447.9,315.8 447.9,321.4" fill="#8a2ee8"/>
<polygon points="451.2,325.7 455.9,322.9 455.9,328.5" fill="#8a2ee8"/>
<polygon points="459.1,333.1 463.8,330.3 463.8,335.9" fill="#8a2ee8"/>
<polygon points="467.1,340.7 471.8,337.9 471.8,343.5" fill="#8a2ee8"/>
<polygon points="475,348.7 479.7,345.9 479.7,351.5" fill="#8a2ee8"/>
<polygon points="483,356.5 487.7,353.7 487.7,359.3" fill="#8a2ee8"/>
<polygon points="490.9,363.8 495.6,361 495.6,366.6" fill="#8a2ee8"/>
<polygon points="498.9,371 503.6,368.2 503.6,373.8" fill="#8a2ee8"/>
<polygon points="506.8,378.6 511.5,375.8 511.5,381.4" fill="#8a2ee8"/>
<polygon points="514.8,386.9 519.5,384.1 519.5,389.7" fill="#8a2ee8"/>
<polygon points="522.8,394.7 527.5,391.9 527.5,397.5" fill="#8a2ee8"/>
<polygon points="530.7,402.1 535.4,399.3 535.4,404.9" fill="#8a2ee8"/>
<polygon points="538.7,409.9 543.4,407.1 543.4,412.7" fill="#8a2ee8"/>
<polygon points="546.6,417.8 551.3,415 551.3,420.6" fill="#8a2ee8"/>
<polygon points="554.6,426 559.3,423.2 559.3,428.8" fill="#8a2ee8"/>
<polygon points="562.5,434.1 567.2,431.3 567.2,436.9" fill="#8a2ee8"/>
<polygon points="570.5,441 575.2,438.2 575.2,443.8" fill="#8a2ee8"/>
<polygon points="578.4,447.5 583.1,444.7 583.1,450.3" fill="#8a2ee8"/>
<polygon points="586.4,453 591.1,450.2 591.1,455.8" fill="#8a2ee8"/>
<polygon points="594.3,457.3 599,454.5 599,460.1" fill="#8a2ee8"/>
<polygon points="602.3,460.9 607,458.1 607,463.7" fill="#8a2ee8"/>
<polygon points="610.2,463.1 614.9,460.3 614.9,465.9" fill="#8a2ee8"/>
<polygon points="618.2,464.3 622.9,461.5 622.9,467.1" fill="#8a2ee8"/>
<polygon points="626.1,464.6 630.8,461.8 630.8,467.4" fill="#8a2ee8"/>
<polygon points="634.1,464.6 638.8,461.8 638.8,467.4" fill="#8a2ee8"/>
<polygon points="395.5,412.1 400.2,409.3 400.2,414.9" fill="#8a2ee8"/>
<polygon points="403.5,403.3 408.2,400.5 408.2,406.1" fill="#8a2ee8"/>
<polygon points="411.4,395.4 416.1,392.6 416.1,398.2" fill="#8a2ee8"/>
<polygon points="419.4,387.2 424.1,384.4 424.1,390" fill="#8a2ee8"/>
<polygon points="427.3,377.1 432,374.3 432,379.9" fill="#8a2ee8"/>
<polygon points="435.3,365.9 440,363.1 440,368.7" fill="#8a2ee8"/>
<polygon points="443.2,355.9 447.9,353.1 447.9,358.7" fill="#8a2ee8"/>
<polygon points="451.2,346.9 455.9,344.1 455.9,349.7" fill="#8a2ee8"/>
<polygon points="459.1,338.8 463.8,336 463.8,341.6" fill="#8a2ee8"/>
<polygon points="467.1,330.3 471.8,327.5 471.8,333.1" fill="#8a2ee8"/>
<polygon points="475,322.6 479.7,319.8 479.7,325.4" fill="#8a2ee8"/>
<polygon points="483,316.8 487.7,314 487.7,319.6" fill="#8a2ee8"/>
<polygon points="490.9,311.5 495.6,308.7 495.6,314.3" fill="#8a2ee8"/>
<polygon points="498.9,306.8 503.6,304 503.6,309.6" fill="#8a2ee8"/>
<polygon points="506.8,303.4 511.5,300.6 511.5,306.2" fill="#8a2ee8"/>
<polygon points="514.8,301.1 519.5,298.3 519.5,303.9" fill="#8a2ee8"/>
<polygon points="522.8,300.1 527.5,297.3 527.5,302.9" fill="#8a2ee8"/>
<polygon points="530.7,300.1 535.4,297.3 535.4,302.9" fill="#8a2ee8"/>
<polygon points="538.7,301.5 543.4,298.7 543.4,304.3" fill="#8a2ee8"/>
<polygon points="546.6,302 551.3,299.2 551.3,304.8" fill="#8a2ee8"/>
<polygon points="554.6,304.5 559.3,301.7 559.3,307.3" fill="#8a2ee8"/>
<polygon points="562.5,311.2 567.2,308.4 567.2,314" fill="#8a2ee8"/>
<polygon points="570.5,321.3 575.2,318.5 575.2,324.1" fill="#8a2ee8"/>
<polygon points="578.4,335.3 583.1,332.5 583.1,338.1" fill="#8a2ee8"/>
<polygon points="586.4,355.2 591.1,352.4 591.1,358" fill="#8a2ee8"/>
<polygon points="594.3,380.6 599,377.8 599,383.4" fill="#8a2ee8"/>
<polygon points="602.3,405.9 607,403.1 607,408.7" fill="#8a2ee8"/>
<polygon points="610.2,427.2 614.9,424.4 614.9,430" fill="#8a2ee8"/>
<polygon points="618.2,443 622.9,440.2 622.9,445.8" fill="#8a2ee8"/>
<polygon points="626.1,454 630.8,451.2 630.8,456.8" fill="#8a2ee8"/>
<polygon points="634.1,461.4 638.8,458.6 638.8,464.2" fill="#8a2ee8"/>
<polygon points="395.2,283 400.8,283 398,287.7" fill="#f02ef0"/>
<polygon points="403.2,284.5 408.8,284.5 406,289.2" fill="#f02ef0"/>
<polygon points="411.1,288.5 416.7,288.5 413.9,293.2" fill="#f02ef0"/>
<polygon points="419.1,294.1 424.7,294.1 421.9,298.8" fill="#f02ef0"/>
<polygon points="427,300.6 432.6,300.6 429.8,305.3" fill="#f02ef0"/>
<polygon points="435,307.9 440.6,307.9 437.8,312.6" fill="#f02ef0"/>
<polygon points="442.9,315.7 448.5,315.7 445.7,320.4" fill="#f02ef0"/>
<polygon points="450.9,324.2 456.5,324.2 453.7,328.9" fill="#f02ef0"/>
<polygon points="458.8,333.1 464.4,333.1 461.6,337.8" fill="#f02ef0"/>
<polygon points="466.8,341.7 472.4,341.7 469.6,346.4" fill="#f02ef0"/>
<polygon points="474.7,350.3 480.3,350.3 477.5,355" fill="#f02ef0"/>
<polygon points="482.7,359.1 488.3,359.1 485.5,363.8" fill="#f02ef0"/>
<polygon points="490.6,367.7 496.2,367.7 493.4,372.4" fill="#f02ef0"/>
<polygon points="498.6,375.9 504.2,375.9 501.4,380.6" fill="#f02ef0"/>
<polygon points="506.5,384.1 512.1,384.1 509.3,388.8" fill="#f02ef0"/>
<polygon points="514.5,392.8 520.1,392.8 517.3,397.5" fill="#f02ef0"/>
<polygon points="522.5,401.5 528.1,401.5 525.3,406.2" fill="#f02ef0"/>
<polygon points="530.4,409.8 536,409.8 533.2,414.5" fill="#f02ef0"/>
<polygon points="538.4,416.7 544,416.7 541.2,421.4" fill="#f02ef0"/>
<polygon points="546.3,422.5 551.9,422.5 549.1,427.2" fill="#f02ef0"/>
<polygon points="554.3,427 559.9,427 557.1,431.7" fill="#f02ef0"/>
<polygon points="562.2,431 567.8,431 565,435.7" fill="#f02ef0"/>
<polygon points="570.2,435 575.8,435 573,439.7" fill="#f02ef0"/>
<polygon points="578.1,439.1 583.7,439.1 580.9,443.8" fill="#f02ef0"/>
<polygon points="586.1,442.5 591.7,442.5 588.9,447.2" fill="#f02ef0"/>
<polygon points="594,444.9 599.6,444.9 596.8,449.6" fill="#f02ef0"/>
<polygon points="602,446.2 607.6,446.2 604.8,450.9" fill="#f02ef0"/>
<polygon points="609.9,447 615.5,447 612.7,451.7" fill="#f02ef0"/>
<polygon points="617.9,447.2 623.5,447.2 620.7,451.9" fill="#f02ef0"/>
<polygon points="625.8,447.1 631.4,447.1 628.6,451.8" fill="#f02ef0"/>
<polygon points="633.8,447.1 639.4,447.1 636.6,451.8" fill="#f02ef0"/>
<polygon points="395.2,393.5 400.8,393.5 398,398.2" fill="#f02ef0"/>
<polygon points="403.2,381.7 408.8,381.7 406,386.4" fill="#f02ef0"/>
<polygon points="411.1,371.9 416.7,371.9 413.9,376.6" fill="#f02ef0"/>
<polygon points="419.1,364 424.7,364 421.9,368.7" fill="#f02ef0"/>
<polygon points="427,358.3 432.6,358.3 429.8,363" fill="#f02ef0"/>
<polygon points="435,354.2 440.6,354.2 437.8,358.9" fill="#f02ef0"/>
<polygon points="442.9,352.3 448.5,352.3 445.7,357" fill="#f02ef0"/>
<polygon points="450.9,351.1 456.5,351.1 453.7,355.8" fill="#f02ef0"/>
<polygon points="458.8,350.3 464.4,350.3 461.6,355" fill="#f02ef0"/>
<polygon points="466.8,349.1 472.4,349.1 469.6,353.8" fill="#f02ef0"/>
<polygon points="474.7,346.8 480.3,346.8 477.5,351.5" fill="#f02ef0"/>
<polygon points="482.7,343.6 488.3,343.6 485.5,348.3" fill="#f02ef0"/>
<polygon points="490.6,339.5 496.2,339.5 493.4,344.2" fill="#f02ef0"/>
<polygon points="498.6,334.1 504.2,334.1 501.4,338.8" fill="#f02ef0"/>
<polygon points="506.5,328.2 512.1,328.2 509.3,332.9" fill="#f02ef0"/>
<polygon points="514.5,322.8 520.1,322.8 517.3,327.5" fill="#f02ef0"/>
<polygon points="522.5,318.6 528.1,318.6 525.3,323.3" fill="#f02ef0"/>
<polygon points="530.4,315.7 536,315.7 533.2,320.4" fill="#f02ef0"/>
<polygon points="538.4,315 544,315 541.2,319.7" fill="#f02ef0"/>
<polygon points="546.3,316.6 551.9,316.6 549.1,321.3" fill="#f02ef0"/>
<polygon points="554.3,320.7 559.9,320.7 557.1,325.4" fill="#f02ef0"/>
<polygon points="562.2,326.6 567.8,326.6 565,331.3" fill="#f02ef0"/>
<polygon points="570.2,334.8 575.8,334.8 573,339.5" fill="#f02ef0"/>
<polygon points="578.1,347.1 583.7,347.1 580.9,351.8" fill="#f02ef0"/>
<polygon points="586.1,363 591.7,363 588.9,367.7" fill="#f02ef0"/>
<polygon points="594,383.9 599.6,383.9 596.8,388.6" fill="#f02ef0"/>
<polygon points="602,406.6 607.6,406.6 604.8,411.3" fill="#f02ef0"/>
<polygon points="609.9,426.4 615.5,426.4 612.7,431.1" fill="#f02ef0"/>
<polygon points="617.9,441 623.5,441 620.7,445.7" fill="#f02ef0"/>
<polygon points="625.8,450.6 631.4,450.6 628.6,455.3" fill="#f02ef0"/>
<polygon points="633.8,457.1 639.4,457.1 636.6,461.8" fill="#f02ef0"/>
<polygon points="395.2,290.1 400.8,290.1 398,285.4" fill="#1c1ce0"/>
<polygon points="403.2,295.1 408.8,295.1 406,290.4" fill="#1c1ce0"/>
<polygon points="411.1,300.2 416.7,300.2 413.9,295.5" fill="#1c1ce0"/>
<polygon points="419.1,305.3 424.7,305.3 421.9,300.6" fill="#1c1ce0"/>
<polygon points="427,310.5 432.6,310.5 429.8,305.8" fill="#1c1ce0"/>
<polygon points="435,316 440.6,316 437.8,311.3" fill="#1c1ce0"/>
<polygon points="442.9,321.6 448.5,321.6 445.7,316.9" fill="#1c1ce0"/>
<polygon points="450.9,327.5 456.5,327.5 453.7,322.8" fill="#1c1ce0"/>
<polygon points="458.8,333.1 464.4,333.1 461.6,328.4" fill="#1c1ce0"/>
<polygon points="466.8,338.8 472.4,338.8 469.6,334.1" fill="#1c1ce0"/>
<polygon points="474.7,345.3 480.3,345.3 477.5,340.6" fill="#1c1ce0"/>
<polygon points="482.7,352.4 488.3,352.4 485.5,347.7" fill="#1c1ce0"/>
<polygon points="490.6,359.9 496.2,359.9 493.4,355.2" fill="#1c1ce0"/>
<polygon points="498.6,367.5 504.2,367.5 501.4,362.8" fill="#1c1ce0"/>
<polygon points="506.5,375.1 512.1,375.1 509.3,370.4" fill="#1c1ce0"/>
<polygon points="514.5,383.1 520.1,383.1 517.3,378.4" fill="#1c1ce0"/>
<polygon points="522.5,390.1 528.1,390.1 525.3,385.4" fill="#1c1ce0"/>
<polygon points="530.4,397.8 536,397.8 533.2,393.1" fill="#1c1ce0"/>
<polygon points="538.4,405.5 544,405.5 541.2,400.8" fill="#1c1ce0"/>
<polygon points="546.3,412.9 551.9,412.9 549.1,408.2" fill="#1c1ce0"/>
<polygon points="554.3,420.3 559.9,420.3 557.1,415.6" fill="#1c1ce0"/>
<polygon points="562.2,427.1 567.8,427.1 565,422.4" fill="#1c1ce0"/>
<polygon points="570.2,433.9 575.8,433.9 573,429.2" fill="#1c1ce0"/>
<polygon points="578.1,440.4 583.7,440.4 580.9,435.7" fill="#1c1ce0"/>
<polygon points="586.1,446.3 591.7,446.3 588.9,441.6" fill="#1c1ce0"/>
<polygon points="594,452.3 599.6,452.3 596.8,447.6" fill="#1c1ce0"/>
<polygon points="602,456.7 607.6,456.7 604.8,452" fill="#1c1ce0"/>
<polygon points="609.9,459.9 615.5,459.9 612.7,455.2" fill="#1c1ce0"/>
<polygon points="617.9,461.5 623.5,461.5 620.7,456.8" fill="#1c1ce0"/>
<polygon points="625.8,461.7 631.4,461.7 628.6,457" fill="#1c1ce0"/>
<polygon points="633.8,462.2 639.4,462.2 636.6,457.5" fill="#1c1ce0"/>
<polygon points="395.2,378.4 400.8,378.4 398,373.7" fill="#1c1ce0"/>
<polygon points="403.2,369.7 408.8,369.7 406,365" fill="#1c1ce0"/>
<polygon points="411.1,363.1 416.7,363.1 413.9,358.4" fill="#1c1ce0"/>
<polygon points="419.1,358.4 424.7,358.4 421.9,353.7" fill="#1c1ce0"/>
<polygon points="427,354.3 432.6,354.3 429.8,349.6" fill="#1c1ce0"/>
<polygon points="435,350.9 440.6,350.9 437.8,346.2" fill="#1c1ce0"/>
<polygon points="442.9,347.4 448.5,347.4 445.7,342.7" fill="#1c1ce0"/>
<polygon points="450.9,342.6 456.5,342.6 453.7,337.9" fill="#1c1ce0"/>
<polygon points="458.8,336.2 464.4,336.2 461.6,331.5" fill="#1c1ce0"/>
<polygon points="466.8,330.9 472.4,330.9 469.6,326.2" fill="#1c1ce0"/>
<polygon points="474.7,325 480.3,325 477.5,320.3" fill="#1c1ce0"/>
<polygon points="482.7,320 488.3,320 485.5,315.3" fill="#1c1ce0"/>
<polygon points="490.6,315.8 496.2,315.8 493.4,311.1" fill="#1c1ce0"/>
<polygon points="498.6,312.6 504.2,312.6 501.4,307.9" fill="#1c1ce0"/>
<polygon points="506.5,311 512.1,311 509.3,306.3" fill="#1c1ce0"/>
<polygon points="514.5,309.9 520.1,309.9 517.3,305.2" fill="#1c1ce0"/>
<polygon points="522.5,309.4 528.1,309.4 525.3,304.7" fill="#1c1ce0"/>
<polygon points="530.4,309.4 536,309.4 533.2,304.7" fill="#1c1ce0"/>
<polygon points="538.4,309.9 544,309.9 541.2,305.2" fill="#1c1ce0"/>
<polygon points="546.3,311.6 551.9,311.6 549.1,306.9" fill="#1c1ce0"/>
<polygon points="554.3,315.6 559.9,315.6 557.1,310.9" fill="#1c1ce0"/>
<polygon points="562.2,323.1 567.8,323.1 565,318.4" fill="#1c1ce0"/>
<polygon points="570.2,333.6 575.8,333.6 573,328.9" fill="#1c1ce0"/>
<polygon points="578.1,347.9 583.7,347.9 580.9,343.2" fill="#1c1ce0"/>
<polygon points="586.1,365.8 591.7,365.8 588.9,361.1" fill="#1c1ce0"/>
<polygon points="594,387.1 599.6,387.1 596.8,382.4" fill="#1c1ce0"/>
<polygon points="602,408.6 607.6,408.6 604.8,403.9" fill="#1c1ce0"/>
<polygon points="609.9,424.2 615.5,424.2 612.7,419.5" fill="#1c1ce0"/>
<polygon points="617.9,438.2 623.5,438.2 620.7,433.5" fill="#1c1ce0"/>
<polygon points="625.8,450.6 631.4,450.6 628.6,445.9" fill="#1c1ce0"/>
<polygon points="633.8,459.7 639.4,459.7 636.6,455" fill="#1c1ce0"/>
<g fill="none" stroke="#333" stroke-width="0.9"><polyline points="398,317.8 399,317.9 400,318 401,318.1 402,318.3 403,318.4 404,318.5 405,318.7 406,318.8 406.9,319 407.9,319.1 408.9,319.3 409.9,319.4 410.9,319.6 411.9,319.8 412.9,320 413.9,320.2 414.9,320.4 415.9,320.6 416.9,320.9 417.9,321.1 418.9,321.4 419.9,321.7 420.9,321.9 421.9,322.2 422.9,322.5 423.8,322.8 424.8,323.1 425.8,323.4 426.8,323.8 427.8,324.1 428.8,324.5 429.8,324.8 430.8,325.2 431.8,325.6 432.8,326.1 433.8,326.5 434.8,327 435.8,327.5 436.8,328 437.8,328.5 438.8,329 439.8,329.6 440.7,330.1 441.7,330.7 442.7,331.3 443.7,331.9 444.7,332.5 445.7,333.1 446.7,333.7 447.7,334.3 448.7,335 449.7,335.6 450.7,336.3 451.7,337 452.7,337.6 453.7,338.3 454.7,339 455.7,339.7 456.7,340.4 457.6,341.1 458.6,341.9 459.6,342.6 460.6,343.3 461.6,344.1 462.6,344.8 463.6,345.6 464.6,346.3 465.6,347.1 466.6,347.9 467.6,348.6 468.6,349.4 469.6,350.2 470.6,351 471.6,351.7 472.6,352.5 473.6,353.3 474.6,354.1 475.5,354.9 476.5,355.7 477.5,356.5 478.5,357.3 479.5,358.1 480.5,358.9 481.5,359.8 482.5,360.6 483.5,361.4 484.5,362.2 485.5,363 486.5,363.8 487.5,364.7 488.5,365.5 489.5,366.3 490.5,367.1 491.5,367.9 492.4,368.8 493.4,369.6 494.4,370.4 495.4,371.2 496.4,372.1 497.4,372.9 498.4,373.7 499.4,374.6 500.4,375.4 501.4,376.2 502.4,377.1 503.4,377.9 504.4,378.7 505.4,379.6 506.4,380.4 507.4,381.2 508.4,382.1 509.3,382.9 510.3,383.7 511.3,384.6 512.3,385.4 513.3,386.2 514.3,387.1 515.3,387.9 516.3,388.7 517.3,389.6 518.3,390.4 519.3,391.2 520.3,392 521.3,392.9 522.3,393.7 523.3,394.5 524.3,395.3 525.3,396.1 526.2,397 527.2,397.8 528.2,398.6 529.2,399.4 530.2,400.3 531.2,401.1 532.2,401.9 533.2,402.7 534.2,403.5 535.2,404.4 536.2,405.2 537.2,406 538.2,406.8 539.2,407.6 540.2,408.5 541.2,409.3 542.2,410.1 543.1,410.9 544.1,411.7 545.1,412.5 546.1,413.3 547.1,414.1 548.1,414.9 549.1,415.7 550.1,416.5 551.1,417.3 552.1,418 553.1,418.8 554.1,419.6 555.1,420.3 556.1,421.1 557.1,421.8 558.1,422.6 559.1,423.3 560,424.1 561,424.8 562,425.5 563,426.2 564,427 565,427.7 566,428.4 567,429 568,429.7 569,430.4 570,431.1 571,431.7 572,432.3 573,433 574,433.6 575,434.2 576,434.8 577,435.4 577.9,436 578.9,436.5 579.9,437.1 580.9,437.6 581.9,438.1 582.9,438.7 583.9,439.2 584.9,439.6 585.9,440.1 586.9,440.6 587.9,441 588.9,441.4 589.9,441.9 590.9,442.3 591.9,442.6 592.9,443 593.9,443.4 594.8,443.7 595.8,444.1 596.8,444.4 597.8,444.7 598.8,445 599.8,445.3 600.8,445.6 601.8,445.9 602.8,446.2 603.8,446.5 604.8,446.7 605.8,447 606.8,447.2 607.8,447.5 608.8,447.7 609.8,447.9 610.8,448.1 611.7,448.2 612.7,448.4 613.7,448.5 614.7,448.6 615.7,448.8 616.7,448.9 617.7,449 618.7,449.1 619.7,449.1 620.7,449.2 621.7,449.2 622.7,449.2 623.7,449.2 624.7,449.2 625.7,449.2 626.7,449.2 627.7,449.2 628.6,449.2 629.6,449.2 630.6,449.2 631.6,449.2 632.6,449.3 633.6,449.3 634.6,449.3 635.6,449.4 636.6,449.4"/><polyline points="398,408.2 399,406.3 400,404.5 401,402.6 402,400.7 403,398.9 404,397 405,395.2 406,393.3 406.9,391.5 407.9,389.6 408.9,387.8 409.9,385.9 410.9,384.1 411.9,382.3 412.9,380.4 413.9,378.6 414.9,376.8 415.9,374.9 416.9,373.1 417.9,371.3 418.9,369.5 419.9,367.8 420.9,366 421.9,364.3 422.9,362.5 423.8,360.9 424.8,359.2 425.8,357.6 426.8,356.1 427.8,354.6 428.8,353.1 429.8,351.7 430.8,350.3 431.8,349.1 432.8,347.9 433.8,346.7 434.8,345.7 435.8,344.7 436.8,343.8 437.8,342.9 438.8,342 439.8,341.1 440.7,340.1 441.7,339.2 442.7,338.3 443.7,337.3 444.7,336.4 445.7,335.5 446.7,334.6 447.7,333.7 448.7,332.8 449.7,331.9 450.7,331 451.7,330.1 452.7,329.3 453.7,328.5 454.7,327.6 455.7,326.8 456.7,326 457.6,325.2 458.6,324.5 459.6,323.7 460.6,323 461.6,322.3 462.6,321.7 463.6,321 464.6,320.4 465.6,319.8 466.6,319.2 467.6,318.7 468.6,318.1 469.6,317.6 470.6,317.1 471.6,316.6 472.6,316.1 473.6,315.6 474.6,315.1 475.5,314.6 476.5,314.1 477.5,313.7 478.5,313.2 479.5,312.8 480.5,312.3 481.5,311.9 482.5,311.5 483.5,311 484.5,310.6 485.5,310.2 486.5,309.7 487.5,309.3 488.5,308.8 489.5,308.4 490.5,307.9 491.5,307.5 492.4,307 493.4,306.6 494.4,306.2 495.4,305.8 496.4,305.4 497.4,305 498.4,304.6 499.4,304.3 500.4,303.9 501.4,303.6 502.4,303.3 503.4,303 504.4,302.8 505.4,302.5 506.4,302.3 507.4,302.1 508.4,301.9 509.3,301.8 510.3,301.6 511.3,301.5 512.3,301.5 513.3,301.4 514.3,301.5 515.3,301.6 516.3,301.7 517.3,301.9 518.3,302.1 519.3,302.3 520.3,302.6 521.3,302.8 522.3,302.9 523.3,303.1 524.3,303.1 525.3,303.1 526.2,303.1 527.2,303.1 528.2,303.1 529.2,303 530.2,302.9 531.2,302.9 532.2,302.8 533.2,302.8 534.2,302.8 535.2,302.9 536.2,303 537.2,303.2 538.2,303.4 539.2,303.6 540.2,303.9 541.2,304.3 542.2,304.7 543.1,305.2 544.1,305.7 545.1,306.2 546.1,306.7 547.1,307.2 548.1,307.7 549.1,308.3 550.1,308.8 551.1,309.3 552.1,309.8 553.1,310.3 554.1,310.9 555.1,311.5 556.1,312.1 557.1,312.8 558.1,313.5 559.1,314.3 560,315.2 561,316.1 562,317.1 563,318.1 564,319.2 565,320.4 566,321.7 567,323 568,324.4 569,325.9 570,327.4 571,329 572,330.6 573,332.4 574,334.2 575,336.1 576,338.1 577,340.1 577.9,342.2 578.9,344.2 579.9,346.2 580.9,348.2 581.9,350.2 582.9,352.1 583.9,354 584.9,356 585.9,358 586.9,360.1 587.9,362.2 588.9,364.5 589.9,366.9 590.9,369.3 591.9,371.9 592.9,374.5 593.9,377.3 594.8,380.1 595.8,382.9 596.8,385.8 597.8,388.7 598.8,391.7 599.8,394.7 600.8,397.6 601.8,400.6 602.8,403.5 603.8,406.4 604.8,409.2 605.8,412 606.8,414.8 607.8,417.4 608.8,420 609.8,422.6 610.8,425 611.7,427.3 612.7,429.6 613.7,431.8 614.7,433.8 615.7,435.8 616.7,437.8 617.7,439.7 618.7,441.5 619.7,443.3 620.7,445.1 621.7,446.9 622.7,448.7 623.7,450.5 624.7,452.3 625.7,454.1 626.7,455.8 627.7,457.5 628.6,459.1 629.6,460.7 630.6,462.2 631.6,463.7 632.6,465 633.6,466.2 634.6,467.4 635.6,468.4 636.6,469.2"/><polyline points="398,301.8 399,302 400,302.3 401,302.7 402,303 403,303.4 404,303.8 405,304.2 406,304.6 406.9,305 407.9,305.4 408.9,305.8 409.9,306.3 410.9,306.7 411.9,307.1 412.9,307.6 413.9,308.1 414.9,308.6 415.9,309.1 416.9,309.7 417.9,310.2 418.9,310.8 419.9,311.4 420.9,312 421.9,312.6 422.9,313.2 423.8,313.8 424.8,314.5 425.8,315.1 426.8,315.8 427.8,316.5 428.8,317.2 429.8,317.9 430.8,318.6 431.8,319.3 432.8,320.1 433.8,320.8 434.8,321.6 435.8,322.3 436.8,323 437.8,323.7 438.8,324.4 439.8,325.1 440.7,325.7 441.7,326.4 442.7,327 443.7,327.6 444.7,328.2 445.7,328.8 446.7,329.3 447.7,329.9 448.7,330.4 449.7,331 450.7,331.5 451.7,332.1 452.7,332.6 453.7,333.2 454.7,333.8 455.7,334.4 456.7,334.9 457.6,335.5 458.6,336.1 459.6,336.7 460.6,337.3 461.6,337.9 462.6,338.5 463.6,339.1 464.6,339.8 465.6,340.4 466.6,341.1 467.6,341.7 468.6,342.4 469.6,343.1 470.6,343.8 471.6,344.5 472.6,345.2 473.6,346 474.6,346.7 475.5,347.5 476.5,348.2 477.5,349 478.5,349.7 479.5,350.5 480.5,351.3 481.5,352.1 482.5,352.9 483.5,353.7 484.5,354.5 485.5,355.3 486.5,356.2 487.5,357 488.5,357.8 489.5,358.7 490.5,359.5 491.5,360.4 492.4,361.2 493.4,362.1 494.4,362.9 495.4,363.8 496.4,364.7 497.4,365.6 498.4,366.4 499.4,367.3 500.4,368.2 501.4,369.1 502.4,370 503.4,370.9 504.4,371.8 505.4,372.7 506.4,373.6 507.4,374.4 508.4,375.3 509.3,376.2 510.3,377.1 511.3,378 512.3,378.9 513.3,379.8 514.3,380.7 515.3,381.6 516.3,382.5 517.3,383.4 518.3,384.3 519.3,385.2 520.3,386.1 521.3,387 522.3,387.9 523.3,388.8 524.3,389.7 525.3,390.6 526.2,391.5 527.2,392.4 528.2,393.3 529.2,394.2 530.2,395.1 531.2,396 532.2,396.9 533.2,397.8 534.2,398.7 535.2,399.6 536.2,400.5 537.2,401.3 538.2,402.2 539.2,403.1 540.2,404 541.2,404.9 542.2,405.8 543.1,406.7 544.1,407.6 545.1,408.5 546.1,409.3 547.1,410.2 548.1,411.1 549.1,412 550.1,412.8 551.1,413.7 552.1,414.6 553.1,415.4 554.1,416.3 555.1,417.2 556.1,418 557.1,418.9 558.1,419.7 559.1,420.6 560,421.4 561,422.2 562,423.1 563,423.9 564,424.7 565,425.5 566,426.3 567,427.1 568,427.9 569,428.7 570,429.5 571,430.3 572,431 573,431.8 574,432.5 575,433.2 576,434 577,434.7 577.9,435.4 578.9,436.1 579.9,436.7 580.9,437.4 581.9,438 582.9,438.6 583.9,439.3 584.9,439.9 585.9,440.4 586.9,441 587.9,441.5 588.9,442.1 589.9,442.6 590.9,443.1 591.9,443.6 592.9,444 593.9,444.5 594.8,444.9 595.8,445.2 596.8,445.6 597.8,445.9 598.8,446.2 599.8,446.4 600.8,446.7 601.8,446.9 602.8,447.1 603.8,447.4 604.8,447.6 605.8,447.9 606.8,448.1 607.8,448.4 608.8,448.7 609.8,449 610.8,449.2 611.7,449.5 612.7,449.7 613.7,449.9 614.7,450.1 615.7,450.3 616.7,450.4 617.7,450.5 618.7,450.7 619.7,450.8 620.7,450.9 621.7,451 622.7,451.1 623.7,451.2 624.7,451.3 625.7,451.5 626.7,451.6 627.7,451.7 628.6,451.8 629.6,451.9 630.6,452 631.6,452.1 632.6,452.1 633.6,452.2 634.6,452.2 635.6,452.3 636.6,452.3"/><polyline points="398,442.2 399,441 400,439.8 401,438.6 402,437.4 403,436.1 404,434.8 405,433.4 406,432.1 406.9,430.8 407.9,429.4 408.9,428 409.9,426.7 410.9,425.3 411.9,423.9 412.9,422.4 413.9,421 414.9,419.5 415.9,418.1 416.9,416.6 417.9,415.1 418.9,413.6 419.9,412 420.9,410.5 421.9,408.9 422.9,407.4 423.8,405.8 424.8,404.2 425.8,402.6 426.8,400.9 427.8,399.3 428.8,397.6 429.8,396 430.8,394.3 431.8,392.6 432.8,391 433.8,389.3 434.8,387.6 435.8,385.9 436.8,384.2 437.8,382.6 438.8,380.9 439.8,379.3 440.7,377.7 441.7,376.1 442.7,374.5 443.7,373 444.7,371.5 445.7,370.1 446.7,368.8 447.7,367.4 448.7,366.1 449.7,364.9 450.7,363.7 451.7,362.5 452.7,361.3 453.7,360.2 454.7,359 455.7,357.9 456.7,356.8 457.6,355.8 458.6,354.7 459.6,353.7 460.6,352.6 461.6,351.6 462.6,350.6 463.6,349.6 464.6,348.5 465.6,347.5 466.6,346.5 467.6,345.5 468.6,344.5 469.6,343.5 470.6,342.5 471.6,341.6 472.6,340.7 473.6,339.8 474.6,338.9 475.5,338 476.5,337.1 477.5,336.3 478.5,335.4 479.5,334.6 480.5,333.8 481.5,333 482.5,332.2 483.5,331.4 484.5,330.6 485.5,329.8 486.5,329 487.5,328.2 488.5,327.5 489.5,326.7 490.5,326 491.5,325.2 492.4,324.5 493.4,323.8 494.4,323.1 495.4,322.4 496.4,321.7 497.4,321.1 498.4,320.4 499.4,319.8 500.4,319.1 501.4,318.5 502.4,317.9 503.4,317.4 504.4,316.8 505.4,316.3 506.4,315.8 507.4,315.3 508.4,314.8 509.3,314.4 510.3,314 511.3,313.6 512.3,313.2 513.3,312.8 514.3,312.5 515.3,312.2 516.3,311.9 517.3,311.7 518.3,311.4 519.3,311.2 520.3,311.1 521.3,311 522.3,310.8 523.3,310.8 524.3,310.7 525.3,310.7 526.2,310.7 527.2,310.7 528.2,310.8 529.2,310.9 530.2,311 531.2,311.1 532.2,311.2 533.2,311.4 534.2,311.6 535.2,311.9 536.2,312.1 537.2,312.5 538.2,312.8 539.2,313.3 540.2,313.8 541.2,314.4 542.2,315.1 543.1,315.8 544.1,316.7 545.1,317.6 546.1,318.6 547.1,319.8 548.1,321 549.1,322.2 550.1,323.6 551.1,324.9 552.1,326.3 553.1,327.8 554.1,329.3 555.1,330.9 556.1,332.6 557.1,334.4 558.1,336.2 559.1,338.1 560,340.1 561,342.2 562,344.4 563,346.6 564,348.9 565,351.2 566,353.5 567,355.9 568,358.4 569,360.8 570,363.4 571,365.9 572,368.6 573,371.2 574,373.9 575,376.7 576,379.5 577,382.3 577.9,385.1 578.9,388 579.9,390.8 580.9,393.6 581.9,396.4 582.9,399.2 583.9,401.9 584.9,404.6 585.9,407.3 586.9,409.9 587.9,412.5 588.9,415 589.9,417.5 590.9,419.9 591.9,422.3 592.9,424.6 593.9,426.8 594.8,429 595.8,431 596.8,433 597.8,434.9 598.8,436.8 599.8,438.5 600.8,440.1 601.8,441.7 602.8,443.2 603.8,444.6 604.8,446 605.8,447.3 606.8,448.5 607.8,449.7 608.8,450.8 609.8,451.9 610.8,452.9 611.7,453.9 612.7,454.9 613.7,455.8 614.7,456.7 615.7,457.6 616.7,458.5 617.7,459.4 618.7,460.3 619.7,461.1 620.7,461.9 621.7,462.8 622.7,463.6 623.7,464.4 624.7,465.1 625.7,465.8 626.7,466.4 627.7,467 628.6,467.5 629.6,468 630.6,468.4 631.6,468.8 632.6,469.2 633.6,469.6 634.6,470 635.6,470.3 636.6,470.6"/><polyline points="398,298.6 399,298.8 400,299 401,299.3 402,299.5 403,299.8 404,300.1 405,300.4 406,300.7 406.9,301 407.9,301.3 408.9,301.6 409.9,302 410.9,302.3 411.9,302.7 412.9,303.1 413.9,303.5 414.9,303.9 415.9,304.3 416.9,304.7 417.9,305.2 418.9,305.6 419.9,306.1 420.9,306.6 421.9,307.1 422.9,307.6 423.8,308.1 424.8,308.7 425.8,309.2 426.8,309.7 427.8,310.2 428.8,310.7 429.8,311.2 430.8,311.6 431.8,312.1 432.8,312.5 433.8,312.9 434.8,313.3 435.8,313.7 436.8,314 437.8,314.4 438.8,314.7 439.8,315.1 440.7,315.4 441.7,315.8 442.7,316.2 443.7,316.6 444.7,317 445.7,317.5 446.7,317.9 447.7,318.4 448.7,319 449.7,319.5 450.7,320.1 451.7,320.7 452.7,321.3 453.7,322 454.7,322.7 455.7,323.4 456.7,324.2 457.6,324.9 458.6,325.7 459.6,326.5 460.6,327.4 461.6,328.2 462.6,329.1 463.6,330 464.6,330.9 465.6,331.8 466.6,332.7 467.6,333.6 468.6,334.6 469.6,335.5 470.6,336.4 471.6,337.3 472.6,338.2 473.6,339.2 474.6,340.1 475.5,341 476.5,342 477.5,342.9 478.5,343.9 479.5,344.8 480.5,345.8 481.5,346.8 482.5,347.7 483.5,348.7 484.5,349.7 485.5,350.7 486.5,351.7 487.5,352.6 488.5,353.6 489.5,354.6 490.5,355.6 491.5,356.6 492.4,357.6 493.4,358.6 494.4,359.6 495.4,360.6 496.4,361.6 497.4,362.7 498.4,363.7 499.4,364.8 500.4,365.8 501.4,366.9 502.4,367.9 503.4,369 504.4,370 505.4,371 506.4,372 507.4,373.1 508.4,374.1 509.3,375.1 510.3,376.1 511.3,377.1 512.3,378 513.3,379 514.3,380 515.3,381 516.3,381.9 517.3,382.9 518.3,383.8 519.3,384.8 520.3,385.7 521.3,386.7 522.3,387.7 523.3,388.6 524.3,389.6 525.3,390.6 526.2,391.6 527.2,392.6 528.2,393.6 529.2,394.6 530.2,395.6 531.2,396.6 532.2,397.6 533.2,398.6 534.2,399.6 535.2,400.6 536.2,401.6 537.2,402.6 538.2,403.5 539.2,404.5 540.2,405.5 541.2,406.4 542.2,407.4 543.1,408.3 544.1,409.3 545.1,410.3 546.1,411.3 547.1,412.3 548.1,413.2 549.1,414.2 550.1,415.2 551.1,416.2 552.1,417.2 553.1,418.2 554.1,419.2 555.1,420.2 556.1,421.2 557.1,422.2 558.1,423.2 559.1,424.2 560,425.2 561,426.2 562,427.1 563,428.1 564,429.1 565,430 566,430.9 567,431.9 568,432.8 569,433.7 570,434.6 571,435.5 572,436.4 573,437.2 574,438.1 575,438.9 576,439.7 577,440.5 577.9,441.3 578.9,442.1 579.9,442.8 580.9,443.5 581.9,444.2 582.9,444.9 583.9,445.6 584.9,446.3 585.9,446.9 586.9,447.6 587.9,448.2 588.9,448.9 589.9,449.5 590.9,450.1 591.9,450.7 592.9,451.3 593.9,451.8 594.8,452.4 595.8,452.9 596.8,453.4 597.8,453.8 598.8,454.3 599.8,454.7 600.8,455.1 601.8,455.5 602.8,455.8 603.8,456.1 604.8,456.4 605.8,456.7 606.8,456.9 607.8,457.1 608.8,457.3 609.8,457.4 610.8,457.5 611.7,457.6 612.7,457.7 613.7,457.7 614.7,457.8 615.7,457.8 616.7,457.9 617.7,457.9 618.7,458 619.7,458 620.7,458.1 621.7,458.1 622.7,458.1 623.7,458.1 624.7,458.1 625.7,458.1 626.7,458.1 627.7,458.1 628.6,458.1 629.6,458.1 630.6,458.1 631.6,458.1 632.6,458.1 633.6,458.2 634.6,458.2 635.6,458.2 636.6,458.2"/><polyline points="398,418 399,416.5 400,414.9 401,413.4 402,412 403,410.5 404,409 405,407.4 406,405.8 406.9,404.2 407.9,402.5 408.9,400.7 409.9,398.9 410.9,397 411.9,395.1 412.9,393.1 413.9,391.1 414.9,389 415.9,386.9 416.9,384.7 417.9,382.5 418.9,380.3 419.9,378.1 420.9,375.9 421.9,373.7 422.9,371.5 423.8,369.3 424.8,367.1 425.8,365 426.8,362.8 427.8,360.7 428.8,358.7 429.8,356.7 430.8,354.7 431.8,352.8 432.8,350.9 433.8,349.1 434.8,347.3 435.8,345.5 436.8,343.8 437.8,342.1 438.8,340.5 439.8,338.9 440.7,337.3 441.7,335.8 442.7,334.4 443.7,333 444.7,331.7 445.7,330.4 446.7,329.2 447.7,328.1 448.7,327 449.7,326 450.7,325 451.7,324.1 452.7,323.2 453.7,322.3 454.7,321.4 455.7,320.5 456.7,319.7 457.6,318.9 458.6,318.1 459.6,317.3 460.6,316.6 461.6,315.8 462.6,315.1 463.6,314.5 464.6,313.8 465.6,313.2 466.6,312.6 467.6,312.1 468.6,311.5 469.6,311 470.6,310.5 471.6,310 472.6,309.5 473.6,309.1 474.6,308.7 475.5,308.3 476.5,307.9 477.5,307.5 478.5,307.1 479.5,306.7 480.5,306.3 481.5,305.9 482.5,305.5 483.5,305.1 484.5,304.8 485.5,304.4 486.5,304 487.5,303.6 488.5,303.2 489.5,302.9 490.5,302.5 491.5,302.1 492.4,301.8 493.4,301.5 494.4,301.1 495.4,300.9 496.4,300.6 497.4,300.3 498.4,300 499.4,299.8 500.4,299.5 501.4,299.3 502.4,299 503.4,298.8 504.4,298.5 505.4,298.3 506.4,298 507.4,297.8 508.4,297.5 509.3,297.3 510.3,297.1 511.3,296.8 512.3,296.6 513.3,296.4 514.3,296.2 515.3,296 516.3,295.8 517.3,295.7 518.3,295.6 519.3,295.5 520.3,295.4 521.3,295.3 522.3,295.2 523.3,295.2 524.3,295.2 525.3,295.2 526.2,295.2 527.2,295.2 528.2,295.2 529.2,295.2 530.2,295.3 531.2,295.4 532.2,295.4 533.2,295.5 534.2,295.7 535.2,295.8 536.2,296 537.2,296.1 538.2,296.4 539.2,296.6 540.2,296.8 541.2,297.1 542.2,297.4 543.1,297.7 544.1,298.1 545.1,298.5 546.1,298.9 547.1,299.3 548.1,299.8 549.1,300.3 550.1,300.9 551.1,301.5 552.1,302.1 553.1,302.7 554.1,303.4 555.1,304.2 556.1,305 557.1,305.8 558.1,306.6 559.1,307.5 560,308.5 561,309.5 562,310.6 563,311.7 564,312.9 565,314.2 566,315.5 567,316.9 568,318.4 569,319.9 570,321.5 571,323.2 572,324.9 573,326.6 574,328.5 575,330.3 576,332.3 577,334.3 577.9,336.4 578.9,338.5 579.9,340.7 580.9,343 581.9,345.4 582.9,347.8 583.9,350.3 584.9,352.8 585.9,355.4 586.9,358 587.9,360.6 588.9,363.3 589.9,366.1 590.9,368.8 591.9,371.6 592.9,374.4 593.9,377.2 594.8,380.1 595.8,383 596.8,385.9 597.8,388.9 598.8,391.8 599.8,394.8 600.8,397.7 601.8,400.7 602.8,403.6 603.8,406.4 604.8,409.2 605.8,412 606.8,414.7 607.8,417.4 608.8,419.9 609.8,422.4 610.8,424.8 611.7,427.1 612.7,429.4 613.7,431.5 614.7,433.5 615.7,435.5 616.7,437.4 617.7,439.3 618.7,441.1 619.7,442.9 620.7,444.7 621.7,446.4 622.7,448.1 623.7,449.7 624.7,451.3 625.7,452.8 626.7,454.2 627.7,455.6 628.6,456.8 629.6,458 630.6,459 631.6,460 632.6,460.9 633.6,461.6 634.6,462.3 635.6,462.9 636.6,463.5"/><polyline points="398,294.4 399,294.5 400,294.6 401,294.8 402,295 403,295.3 404,295.6 405,296 406,296.4 406.9,296.8 407.9,297.2 408.9,297.6 409.9,298 410.9,298.3 411.9,298.6 412.9,299 413.9,299.3 414.9,299.6 415.9,300 416.9,300.3 417.9,300.7 418.9,301.1 419.9,301.6 420.9,302 421.9,302.6 422.9,303.1 423.8,303.7 424.8,304.3 425.8,304.9 426.8,305.6 427.8,306.2 428.8,306.8 429.8,307.5 430.8,308.1 431.8,308.8 432.8,309.4 433.8,310.1 434.8,310.8 435.8,311.4 436.8,312.1 437.8,312.8 438.8,313.4 439.8,314.1 440.7,314.8 441.7,315.5 442.7,316.2 443.7,317 444.7,317.8 445.7,318.6 446.7,319.5 447.7,320.4 448.7,321.2 449.7,322.1 450.7,323 451.7,323.9 452.7,324.8 453.7,325.7 454.7,326.6 455.7,327.5 456.7,328.5 457.6,329.4 458.6,330.3 459.6,331.3 460.6,332.2 461.6,333.1 462.6,334.1 463.6,335 464.6,336 465.6,336.9 466.6,337.9 467.6,338.8 468.6,339.8 469.6,340.7 470.6,341.7 471.6,342.7 472.6,343.7 473.6,344.7 474.6,345.7 475.5,346.7 476.5,347.7 477.5,348.7 478.5,349.7 479.5,350.7 480.5,351.7 481.5,352.7 482.5,353.6 483.5,354.6 484.5,355.5 485.5,356.5 486.5,357.4 487.5,358.3 488.5,359.2 489.5,360.1 490.5,361 491.5,361.9 492.4,362.8 493.4,363.8 494.4,364.7 495.4,365.6 496.4,366.5 497.4,367.4 498.4,368.3 499.4,369.2 500.4,370.1 501.4,371 502.4,371.9 503.4,372.8 504.4,373.8 505.4,374.7 506.4,375.6 507.4,376.6 508.4,377.6 509.3,378.6 510.3,379.6 511.3,380.6 512.3,381.7 513.3,382.7 514.3,383.8 515.3,384.8 516.3,385.8 517.3,386.9 518.3,387.9 519.3,388.9 520.3,389.9 521.3,390.9 522.3,391.8 523.3,392.8 524.3,393.8 525.3,394.7 526.2,395.6 527.2,396.6 528.2,397.5 529.2,398.4 530.2,399.3 531.2,400.3 532.2,401.2 533.2,402.1 534.2,403.1 535.2,404.1 536.2,405 537.2,406 538.2,407 539.2,408 540.2,408.9 541.2,409.9 542.2,410.9 543.1,411.9 544.1,412.9 545.1,413.9 546.1,414.9 547.1,415.9 548.1,416.9 549.1,417.8 550.1,418.8 551.1,419.8 552.1,420.8 553.1,421.8 554.1,422.8 555.1,423.8 556.1,424.9 557.1,426 558.1,427.1 559.1,428.2 560,429.2 561,430.3 562,431.3 563,432.2 564,433.1 565,434.1 566,435 567,435.9 568,436.7 569,437.6 570,438.4 571,439.3 572,440.1 573,441 574,441.8 575,442.7 576,443.5 577,444.3 577.9,445.1 578.9,445.9 579.9,446.7 580.9,447.5 581.9,448.2 582.9,449 583.9,449.7 584.9,450.4 585.9,451.1 586.9,451.7 587.9,452.4 588.9,453 589.9,453.6 590.9,454.2 591.9,454.7 592.9,455.3 593.9,455.8 594.8,456.3 595.8,456.8 596.8,457.3 597.8,457.8 598.8,458.3 599.8,458.8 600.8,459.2 601.8,459.7 602.8,460.1 603.8,460.5 604.8,460.9 605.8,461.2 606.8,461.6 607.8,461.9 608.8,462.2 609.8,462.4 610.8,462.7 611.7,462.9 612.7,463.1 613.7,463.3 614.7,463.5 615.7,463.6 616.7,463.8 617.7,463.9 618.7,464.1 619.7,464.2 620.7,464.3 621.7,464.4 622.7,464.5 623.7,464.5 624.7,464.6 625.7,464.6 626.7,464.6 627.7,464.6 628.6,464.6 629.6,464.5 630.6,464.5 631.6,464.5 632.6,464.5 633.6,464.5 634.6,464.5 635.6,464.5 636.6,464.6"/><polyline points="398,412.1 399,411 400,409.9 401,408.8 402,407.7 403,406.6 404,405.5 405,404.4 406,403.3 406.9,402.2 407.9,401.1 408.9,400.1 409.9,399 410.9,398 411.9,397.1 412.9,396.2 413.9,395.4 414.9,394.5 415.9,393.7 416.9,392.7 417.9,391.7 418.9,390.6 419.9,389.5 420.9,388.3 421.9,387.2 422.9,386 423.8,384.8 424.8,383.5 425.8,382.3 426.8,381 427.8,379.7 428.8,378.4 429.8,377.1 430.8,375.7 431.8,374.3 432.8,372.9 433.8,371.5 434.8,370.1 435.8,368.7 436.8,367.3 437.8,365.9 438.8,364.6 439.8,363.3 440.7,362 441.7,360.8 442.7,359.5 443.7,358.3 444.7,357.1 445.7,355.9 446.7,354.8 447.7,353.6 448.7,352.5 449.7,351.3 450.7,350.2 451.7,349.1 452.7,348 453.7,346.9 454.7,345.9 455.7,344.8 456.7,343.8 457.6,342.8 458.6,341.8 459.6,340.8 460.6,339.8 461.6,338.8 462.6,337.7 463.6,336.7 464.6,335.7 465.6,334.7 466.6,333.6 467.6,332.5 468.6,331.4 469.6,330.3 470.6,329.2 471.6,328.1 472.6,327.1 473.6,326.1 474.6,325.2 475.5,324.3 476.5,323.4 477.5,322.6 478.5,321.8 479.5,321 480.5,320.3 481.5,319.6 482.5,318.8 483.5,318.2 484.5,317.5 485.5,316.8 486.5,316.1 487.5,315.4 488.5,314.8 489.5,314.1 490.5,313.4 491.5,312.8 492.4,312.1 493.4,311.5 494.4,310.9 495.4,310.2 496.4,309.6 497.4,309 498.4,308.5 499.4,307.9 500.4,307.3 501.4,306.8 502.4,306.3 503.4,305.9 504.4,305.4 505.4,305 506.4,304.5 507.4,304.1 508.4,303.7 509.3,303.4 510.3,303 511.3,302.7 512.3,302.3 513.3,302 514.3,301.8 515.3,301.5 516.3,301.3 517.3,301.1 518.3,300.9 519.3,300.7 520.3,300.6 521.3,300.5 522.3,300.4 523.3,300.3 524.3,300.2 525.3,300.1 526.2,300 527.2,299.9 528.2,299.8 529.2,299.8 530.2,299.8 531.2,299.8 532.2,299.9 533.2,300.1 534.2,300.3 535.2,300.5 536.2,300.7 537.2,300.9 538.2,301.1 539.2,301.2 540.2,301.3 541.2,301.5 542.2,301.6 543.1,301.7 544.1,301.8 545.1,301.9 546.1,301.9 547.1,302 548.1,302 549.1,302 550.1,302.1 551.1,302.2 552.1,302.3 553.1,302.6 554.1,302.9 555.1,303.4 556.1,303.9 557.1,304.5 558.1,305.1 559.1,305.8 560,306.6 561,307.4 562,308.3 563,309.2 564,310.2 565,311.2 566,312.3 567,313.4 568,314.6 569,315.9 570,317.1 571,318.5 572,319.9 573,321.3 574,322.9 575,324.4 576,326 577,327.7 577.9,329.5 578.9,331.3 579.9,333.3 580.9,335.3 581.9,337.4 582.9,339.6 583.9,342 584.9,344.4 585.9,346.9 586.9,349.6 587.9,352.3 588.9,355.2 589.9,358.1 590.9,361.2 591.9,364.3 592.9,367.5 593.9,370.7 594.8,374 595.8,377.3 596.8,380.6 597.8,383.8 598.8,387.1 599.8,390.4 600.8,393.6 601.8,396.7 602.8,399.9 603.8,402.9 604.8,405.9 605.8,408.9 606.8,411.7 607.8,414.5 608.8,417.2 609.8,419.8 610.8,422.4 611.7,424.8 612.7,427.2 613.7,429.5 614.7,431.6 615.7,433.7 616.7,435.7 617.7,437.7 618.7,439.5 619.7,441.3 620.7,443 621.7,444.6 622.7,446.2 623.7,447.7 624.7,449.1 625.7,450.4 626.7,451.7 627.7,452.8 628.6,454 629.6,455 630.6,456 631.6,457 632.6,457.9 633.6,458.8 634.6,459.7 635.6,460.5 636.6,461.4"/><polyline points="398,285 399,285.1 400,285.2 401,285.4 402,285.5 403,285.7 404,285.9 405,286.2 406,286.5 406.9,286.8 407.9,287.2 408.9,287.7 409.9,288.2 410.9,288.7 411.9,289.3 412.9,289.9 413.9,290.5 414.9,291.1 415.9,291.8 416.9,292.5 417.9,293.2 418.9,293.9 419.9,294.6 420.9,295.3 421.9,296.1 422.9,296.9 423.8,297.7 424.8,298.4 425.8,299.3 426.8,300.1 427.8,300.9 428.8,301.8 429.8,302.6 430.8,303.5 431.8,304.4 432.8,305.3 433.8,306.2 434.8,307.1 435.8,308.1 436.8,309 437.8,309.9 438.8,310.9 439.8,311.8 440.7,312.8 441.7,313.7 442.7,314.7 443.7,315.7 444.7,316.7 445.7,317.7 446.7,318.7 447.7,319.7 448.7,320.7 449.7,321.8 450.7,322.9 451.7,324 452.7,325.1 453.7,326.2 454.7,327.3 455.7,328.5 456.7,329.6 457.6,330.7 458.6,331.8 459.6,333 460.6,334 461.6,335.1 462.6,336.2 463.6,337.3 464.6,338.3 465.6,339.4 466.6,340.5 467.6,341.5 468.6,342.6 469.6,343.7 470.6,344.8 471.6,345.8 472.6,346.9 473.6,348 474.6,349 475.5,350.1 476.5,351.2 477.5,352.3 478.5,353.3 479.5,354.4 480.5,355.5 481.5,356.6 482.5,357.8 483.5,358.9 484.5,360 485.5,361.1 486.5,362.2 487.5,363.3 488.5,364.4 489.5,365.5 490.5,366.6 491.5,367.6 492.4,368.7 493.4,369.7 494.4,370.8 495.4,371.8 496.4,372.8 497.4,373.9 498.4,374.9 499.4,375.9 500.4,376.9 501.4,377.9 502.4,378.9 503.4,380 504.4,381 505.4,382 506.4,383 507.4,384 508.4,385.1 509.3,386.1 510.3,387.2 511.3,388.3 512.3,389.3 513.3,390.4 514.3,391.5 515.3,392.6 516.3,393.7 517.3,394.8 518.3,395.9 519.3,397 520.3,398.1 521.3,399.1 522.3,400.2 523.3,401.3 524.3,402.4 525.3,403.5 526.2,404.6 527.2,405.7 528.2,406.7 529.2,407.8 530.2,408.8 531.2,409.9 532.2,410.9 533.2,411.8 534.2,412.8 535.2,413.7 536.2,414.6 537.2,415.5 538.2,416.3 539.2,417.1 540.2,417.9 541.2,418.7 542.2,419.5 543.1,420.3 544.1,421 545.1,421.7 546.1,422.5 547.1,423.1 548.1,423.8 549.1,424.5 550.1,425.1 551.1,425.7 552.1,426.3 553.1,426.9 554.1,427.4 555.1,428 556.1,428.5 557.1,429 558.1,429.5 559.1,430 560,430.5 561,431 562,431.5 563,432 564,432.5 565,433 566,433.5 567,434 568,434.5 569,435 570,435.5 571,436 572,436.5 573,437 574,437.6 575,438.1 576,438.6 577,439.1 577.9,439.6 578.9,440.1 579.9,440.6 580.9,441.1 581.9,441.6 582.9,442 583.9,442.5 584.9,442.9 585.9,443.4 586.9,443.8 587.9,444.2 588.9,444.5 589.9,444.9 590.9,445.2 591.9,445.5 592.9,445.8 593.9,446.1 594.8,446.4 595.8,446.6 596.8,446.9 597.8,447.1 598.8,447.3 599.8,447.5 600.8,447.6 601.8,447.8 602.8,448 603.8,448.1 604.8,448.2 605.8,448.4 606.8,448.5 607.8,448.6 608.8,448.7 609.8,448.7 610.8,448.8 611.7,448.9 612.7,449 613.7,449 614.7,449.1 615.7,449.1 616.7,449.1 617.7,449.2 618.7,449.2 619.7,449.2 620.7,449.2 621.7,449.3 622.7,449.3 623.7,449.2 624.7,449.2 625.7,449.2 626.7,449.2 627.7,449.1 628.6,449.1 629.6,449.1 630.6,449.1 631.6,449.1 632.6,449.1 633.6,449.1 634.6,449.1 635.6,449.1 636.6,449.1"/><polyline points="398,395.5 399,394 400,392.5 401,391 402,389.5 403,388 404,386.5 405,385.1 406,383.7 406.9,382.3 407.9,381 408.9,379.7 409.9,378.5 410.9,377.3 411.9,376.1 412.9,375 413.9,373.9 414.9,372.8 415.9,371.7 416.9,370.7 417.9,369.7 418.9,368.7 419.9,367.7 420.9,366.8 421.9,366 422.9,365.2 423.8,364.4 424.8,363.7 425.8,362.9 426.8,362.3 427.8,361.6 428.8,361 429.8,360.3 430.8,359.7 431.8,359.1 432.8,358.6 433.8,358 434.8,357.5 435.8,357.1 436.8,356.6 437.8,356.2 438.8,355.9 439.8,355.6 440.7,355.3 441.7,355.1 442.7,354.9 443.7,354.7 444.7,354.5 445.7,354.3 446.7,354.1 447.7,353.9 448.7,353.8 449.7,353.6 450.7,353.5 451.7,353.3 452.7,353.2 453.7,353.1 454.7,353 455.7,352.9 456.7,352.8 457.6,352.7 458.6,352.6 459.6,352.5 460.6,352.4 461.6,352.3 462.6,352.2 463.6,352.1 464.6,352 465.6,351.8 466.6,351.7 467.6,351.5 468.6,351.3 469.6,351.1 470.6,350.9 471.6,350.7 472.6,350.4 473.6,350.1 474.6,349.8 475.5,349.5 476.5,349.2 477.5,348.8 478.5,348.5 479.5,348.1 480.5,347.7 481.5,347.4 482.5,346.9 483.5,346.5 484.5,346.1 485.5,345.6 486.5,345.2 487.5,344.7 488.5,344.2 489.5,343.7 490.5,343.2 491.5,342.6 492.4,342.1 493.4,341.5 494.4,340.9 495.4,340.3 496.4,339.6 497.4,338.9 498.4,338.3 499.4,337.6 500.4,336.9 501.4,336.1 502.4,335.4 503.4,334.7 504.4,333.9 505.4,333.2 506.4,332.4 507.4,331.7 508.4,330.9 509.3,330.2 510.3,329.5 511.3,328.7 512.3,328 513.3,327.4 514.3,326.7 515.3,326 516.3,325.4 517.3,324.8 518.3,324.2 519.3,323.6 520.3,323 521.3,322.5 522.3,322 523.3,321.5 524.3,321 525.3,320.6 526.2,320.1 527.2,319.7 528.2,319.3 529.2,318.9 530.2,318.6 531.2,318.3 532.2,318 533.2,317.7 534.2,317.5 535.2,317.3 536.2,317.2 537.2,317.1 538.2,317 539.2,317 540.2,317 541.2,317 542.2,317 543.1,317.1 544.1,317.3 545.1,317.5 546.1,317.7 547.1,317.9 548.1,318.2 549.1,318.6 550.1,319 551.1,319.4 552.1,319.9 553.1,320.4 554.1,320.9 555.1,321.5 556.1,322.1 557.1,322.7 558.1,323.4 559.1,324 560,324.7 561,325.4 562,326.2 563,326.9 564,327.7 565,328.6 566,329.4 567,330.3 568,331.2 569,332.2 570,333.2 571,334.3 572,335.5 573,336.8 574,338.1 575,339.5 576,341 577,342.5 577.9,344.1 578.9,345.7 579.9,347.4 580.9,349.1 581.9,350.8 582.9,352.6 583.9,354.5 584.9,356.4 585.9,358.4 586.9,360.5 587.9,362.7 588.9,365 589.9,367.3 590.9,369.8 591.9,372.3 592.9,374.9 593.9,377.6 594.8,380.3 595.8,383.1 596.8,385.9 597.8,388.7 598.8,391.6 599.8,394.5 600.8,397.3 601.8,400.2 602.8,403 603.8,405.8 604.8,408.6 605.8,411.3 606.8,413.9 607.8,416.5 608.8,419.1 609.8,421.5 610.8,423.9 611.7,426.2 612.7,428.4 613.7,430.5 614.7,432.5 615.7,434.5 616.7,436.3 617.7,438.1 618.7,439.8 619.7,441.5 620.7,443 621.7,444.5 622.7,445.9 623.7,447.3 624.7,448.5 625.7,449.7 626.7,450.7 627.7,451.7 628.6,452.6 629.6,453.4 630.6,454.2 631.6,455 632.6,455.8 633.6,456.6 634.6,457.5 635.6,458.3 636.6,459.1"/><polyline points="398,288.1 399,288.6 400,289.2 401,289.9 402,290.5 403,291.1 404,291.8 405,292.4 406,293.1 406.9,293.7 407.9,294.3 408.9,295 409.9,295.6 410.9,296.2 411.9,296.9 412.9,297.5 413.9,298.2 414.9,298.8 415.9,299.4 416.9,300.1 417.9,300.7 418.9,301.4 419.9,302 420.9,302.6 421.9,303.3 422.9,303.9 423.8,304.6 424.8,305.2 425.8,305.9 426.8,306.5 427.8,307.2 428.8,307.9 429.8,308.5 430.8,309.2 431.8,309.9 432.8,310.6 433.8,311.2 434.8,311.9 435.8,312.6 436.8,313.3 437.8,314 438.8,314.7 439.8,315.4 440.7,316.1 441.7,316.8 442.7,317.5 443.7,318.2 444.7,318.9 445.7,319.6 446.7,320.4 447.7,321.1 448.7,321.8 449.7,322.6 450.7,323.3 451.7,324.1 452.7,324.8 453.7,325.5 454.7,326.3 455.7,327 456.7,327.7 457.6,328.3 458.6,329 459.6,329.7 460.6,330.4 461.6,331.1 462.6,331.8 463.6,332.5 464.6,333.2 465.6,333.9 466.6,334.6 467.6,335.3 468.6,336 469.6,336.8 470.6,337.5 471.6,338.3 472.6,339.1 473.6,339.9 474.6,340.8 475.5,341.6 476.5,342.5 477.5,343.3 478.5,344.2 479.5,345.1 480.5,345.9 481.5,346.8 482.5,347.7 483.5,348.6 484.5,349.5 485.5,350.4 486.5,351.3 487.5,352.3 488.5,353.2 489.5,354.1 490.5,355 491.5,356 492.4,356.9 493.4,357.9 494.4,358.8 495.4,359.8 496.4,360.7 497.4,361.7 498.4,362.7 499.4,363.6 500.4,364.6 501.4,365.5 502.4,366.5 503.4,367.4 504.4,368.3 505.4,369.3 506.4,370.2 507.4,371.2 508.4,372.1 509.3,373.1 510.3,374.1 511.3,375.1 512.3,376.1 513.3,377.2 514.3,378.2 515.3,379.2 516.3,380.1 517.3,381.1 518.3,382 519.3,382.9 520.3,383.8 521.3,384.6 522.3,385.5 523.3,386.4 524.3,387.2 525.3,388.1 526.2,389 527.2,390 528.2,390.9 529.2,391.9 530.2,392.8 531.2,393.8 532.2,394.8 533.2,395.8 534.2,396.7 535.2,397.7 536.2,398.7 537.2,399.7 538.2,400.6 539.2,401.6 540.2,402.6 541.2,403.5 542.2,404.5 543.1,405.4 544.1,406.3 545.1,407.2 546.1,408.2 547.1,409.1 548.1,410 549.1,410.9 550.1,411.8 551.1,412.8 552.1,413.7 553.1,414.6 554.1,415.5 555.1,416.5 556.1,417.4 557.1,418.3 558.1,419.1 559.1,420 560,420.9 561,421.8 562,422.6 563,423.5 564,424.3 565,425.1 566,426 567,426.8 568,427.7 569,428.5 570,429.4 571,430.2 572,431 573,431.9 574,432.7 575,433.6 576,434.4 577,435.2 577.9,436 578.9,436.8 579.9,437.6 580.9,438.4 581.9,439.2 582.9,439.9 583.9,440.7 584.9,441.4 585.9,442.1 586.9,442.9 587.9,443.6 588.9,444.3 589.9,445.1 590.9,445.9 591.9,446.6 592.9,447.4 593.9,448.2 594.8,448.9 595.8,449.6 596.8,450.3 597.8,451 598.8,451.6 599.8,452.2 600.8,452.7 601.8,453.3 602.8,453.8 603.8,454.3 604.8,454.7 605.8,455.2 606.8,455.6 607.8,456.1 608.8,456.5 609.8,456.9 610.8,457.3 611.7,457.6 612.7,457.9 613.7,458.2 614.7,458.5 615.7,458.7 616.7,458.9 617.7,459.1 618.7,459.3 619.7,459.4 620.7,459.5 621.7,459.5 622.7,459.6 623.7,459.6 624.7,459.6 625.7,459.6 626.7,459.7 627.7,459.7 628.6,459.7 629.6,459.8 630.6,459.8 631.6,459.9 632.6,460 633.6,460 634.6,460.1 635.6,460.2 636.6,460.2"/><polyline points="398,376.4 399,375.3 400,374.1 401,373 402,371.9 403,370.8 404,369.7 405,368.7 406,367.7 406.9,366.7 407.9,365.8 408.9,364.9 409.9,364.1 410.9,363.3 411.9,362.5 412.9,361.8 413.9,361.1 414.9,360.4 415.9,359.8 416.9,359.2 417.9,358.6 418.9,358.1 419.9,357.5 420.9,357 421.9,356.4 422.9,355.9 423.8,355.4 424.8,354.8 425.8,354.3 426.8,353.8 427.8,353.3 428.8,352.8 429.8,352.3 430.8,351.8 431.8,351.4 432.8,351 433.8,350.5 434.8,350.1 435.8,349.7 436.8,349.3 437.8,348.9 438.8,348.5 439.8,348.1 440.7,347.7 441.7,347.2 442.7,346.8 443.7,346.3 444.7,345.9 445.7,345.4 446.7,344.9 447.7,344.4 448.7,343.8 449.7,343.2 450.7,342.6 451.7,342 452.7,341.3 453.7,340.6 454.7,339.8 455.7,339.1 456.7,338.3 457.6,337.4 458.6,336.6 459.6,335.8 460.6,335 461.6,334.2 462.6,333.5 463.6,332.8 464.6,332.1 465.6,331.5 466.6,330.9 467.6,330.2 468.6,329.6 469.6,328.9 470.6,328.2 471.6,327.5 472.6,326.8 473.6,326 474.6,325.3 475.5,324.5 476.5,323.8 477.5,323 478.5,322.3 479.5,321.7 480.5,321 481.5,320.4 482.5,319.8 483.5,319.2 484.5,318.6 485.5,318 486.5,317.5 487.5,316.9 488.5,316.4 489.5,315.8 490.5,315.3 491.5,314.8 492.4,314.3 493.4,313.8 494.4,313.3 495.4,312.9 496.4,312.4 497.4,312 498.4,311.6 499.4,311.2 500.4,310.9 501.4,310.6 502.4,310.3 503.4,310.1 504.4,309.9 505.4,309.7 506.4,309.5 507.4,309.4 508.4,309.2 509.3,309 510.3,308.9 511.3,308.7 512.3,308.6 513.3,308.4 514.3,308.3 515.3,308.2 516.3,308 517.3,307.9 518.3,307.8 519.3,307.7 520.3,307.6 521.3,307.6 522.3,307.5 523.3,307.4 524.3,307.4 525.3,307.4 526.2,307.4 527.2,307.3 528.2,307.3 529.2,307.3 530.2,307.3 531.2,307.3 532.2,307.4 533.2,307.4 534.2,307.4 535.2,307.4 536.2,307.5 537.2,307.5 538.2,307.6 539.2,307.7 540.2,307.8 541.2,307.9 542.2,308.1 543.1,308.2 544.1,308.4 545.1,308.6 546.1,308.8 547.1,309 548.1,309.3 549.1,309.6 550.1,309.9 551.1,310.3 552.1,310.7 553.1,311.2 554.1,311.7 555.1,312.3 556.1,312.9 557.1,313.6 558.1,314.3 559.1,315.2 560,316 561,316.9 562,317.9 563,318.9 564,320 565,321.1 566,322.3 567,323.5 568,324.7 569,326 570,327.3 571,328.7 572,330.2 573,331.6 574,333.2 575,334.8 576,336.5 577,338.2 577.9,340.1 578.9,342 579.9,343.9 580.9,345.9 581.9,348 582.9,350.1 583.9,352.2 584.9,354.4 585.9,356.7 586.9,359 587.9,361.3 588.9,363.8 589.9,366.2 590.9,368.8 591.9,371.4 592.9,374.1 593.9,376.8 594.8,379.5 595.8,382.3 596.8,385.1 597.8,387.9 598.8,390.7 599.8,393.5 600.8,396.3 601.8,399 602.8,401.7 603.8,404.2 604.8,406.6 605.8,408.9 606.8,411 607.8,413 608.8,414.9 609.8,416.8 610.8,418.6 611.7,420.4 612.7,422.2 613.7,424 614.7,425.8 615.7,427.6 616.7,429.4 617.7,431.1 618.7,432.8 619.7,434.5 620.7,436.2 621.7,437.9 622.7,439.5 623.7,441.1 624.7,442.7 625.7,444.3 626.7,445.7 627.7,447.2 628.6,448.6 629.6,449.9 630.6,451.1 631.6,452.3 632.6,453.5 633.6,454.6 634.6,455.7 635.6,456.7 636.6,457.7"/></g>
</g>
<g fill="none" stroke-linecap="butt">
<path stroke="#777" stroke-width="1.4" d="M397.4 269H637.2"/>
<path stroke="#888" stroke-width="1.4" d="M398 268.4V477.4"/>
<path stroke="#888" stroke-width="1.3" d="M636.6 268.4V477.4"/>
<path stroke="#111" stroke-width="1.4" d="M397.4 476.8H637.2"/>
<path stroke="#111" stroke-width="1" d="M398 476.8v4M410 476.8v-1.8M417 476.8v-1.8M421.9 476.8v-1.8M425.8 476.8v-1.8M428.9 476.8v-1.8M431.6 476.8v-1.8M433.9 476.8v-1.8M435.9 476.8v-1.8M437.8 476.8v4M449.7 476.8v-1.8M456.7 476.8v-1.8M461.7 476.8v-1.8M465.6 476.8v-1.8M468.7 476.8v-1.8M471.4 476.8v-1.8M473.7 476.8v-1.8M475.7 476.8v-1.8M477.5 476.8v4M489.5 476.8v-1.8M496.5 476.8v-1.8M501.5 476.8v-1.8M505.3 476.8v-1.8M508.5 476.8v-1.8M511.1 476.8v-1.8M513.4 476.8v-1.8M515.5 476.8v-1.8M517.3 476.8v4M529.3 476.8v-1.8M536.3 476.8v-1.8M541.2 476.8v-1.8M545.1 476.8v-1.8M548.2 476.8v-1.8M550.9 476.8v-1.8M553.2 476.8v-1.8M555.2 476.8v-1.8M557.1 476.8v4M569 476.8v-1.8M576 476.8v-1.8M581 476.8v-1.8M584.9 476.8v-1.8M588 476.8v-1.8M590.7 476.8v-1.8M593 476.8v-1.8M595 476.8v-1.8M596.8 476.8v4M608.8 476.8v-1.8M615.8 476.8v-1.8M620.8 476.8v-1.8M624.6 476.8v-1.8M627.8 476.8v-1.8M630.4 476.8v-1.8M632.7 476.8v-1.8M634.8 476.8v-1.8M636.6 476.8v3.5M398 472.4h1.8M398 466.9h1.8M398 462.6h1.8M398 459.1h1.8M398 456.1h1.8M398 453.6h1.8M398 451.3h1.8M398 449.3h-3.5M398 436h1.8M398 428.2h1.8M398 422.7h1.8M398 418.4h1.8M398 414.9h1.8M398 412h1.8M398 409.4h1.8M398 407.2h1.8M398 405.1h-3.5M398 391.9h1.8M398 384.1h1.8M398 378.6h1.8M398 374.3h1.8M398 370.8h1.8M398 367.8h1.8M398 365.3h1.8M398 363h1.8M398 361h-3.5M398 347.7h1.8M398 339.9h1.8M398 334.4h1.8M398 330.1h1.8M398 326.6h1.8M398 323.7h1.8M398 321.1h1.8M398 318.9h1.8M398 316.8h-3.5M398 303.6h1.8M398 295.8h1.8M398 290.3h1.8M398 286h1.8M398 282.5h1.8M398 279.5h1.8M398 277h1.8M398 274.7h1.8M398 272.7h-3.5M636.6 476.8h3.5M636.6 465.3h-1.6M636.6 453.7h-1.6M636.6 442.2h-1.6M636.6 430.6h-1.6M636.6 419.1h-1.6M636.6 407.6h3.5M636.6 396h-1.6M636.6 384.5h-1.6M636.6 373h-1.6M636.6 361.4h-1.6M636.6 349.9h-1.6M636.6 338.3h3.5M636.6 326.8h-1.6M636.6 315.3h-1.6M636.6 303.7h-1.6M636.6 292.2h-1.6M636.6 280.6h-1.6M636.6 269.1h3.5"/>
</g>
<g font-family='"Liberation Serif", serif' font-weight="bold" fill="#111" stroke="#111" stroke-width="0.2">
<text x="398" y="492.5" font-size="11.3" text-anchor="middle" textLength="17.2" lengthAdjust="spacingAndGlyphs">0.01</text>
<text x="477.5" y="492.5" font-size="11.3" text-anchor="middle" textLength="4.9" lengthAdjust="spacingAndGlyphs">1</text>
<text x="557.1" y="492.5" font-size="11.3" text-anchor="middle" textLength="14.7" lengthAdjust="spacingAndGlyphs">100</text>
<text x="636.6" y="492.5" font-size="11.3" text-anchor="middle" textLength="24.5" lengthAdjust="spacingAndGlyphs">10000</text>
<text x="391.3" y="452.1" font-size="11.5" text-anchor="end" textLength="9.8" lengthAdjust="spacingAndGlyphs">10</text>
<text x="391.3" y="407.9" font-size="11.5" text-anchor="end" textLength="14.7" lengthAdjust="spacingAndGlyphs">100</text>
<text x="391.3" y="363.8" font-size="11.5" text-anchor="end" textLength="19.6" lengthAdjust="spacingAndGlyphs">1000</text>
<text x="391.3" y="319.6" font-size="11.5" text-anchor="end" textLength="24.5" lengthAdjust="spacingAndGlyphs">10000</text>
<text x="391.3" y="275.5" font-size="11.5" text-anchor="end" textLength="29.4" lengthAdjust="spacingAndGlyphs">100000</text>
<text x="642.6" y="480.3" font-size="11.0" textLength="5" lengthAdjust="spacingAndGlyphs">0</text>
<text x="642.6" y="411.1" font-size="11.0" textLength="10" lengthAdjust="spacingAndGlyphs">30</text>
<text x="642.6" y="341.9" font-size="11.0" textLength="10" lengthAdjust="spacingAndGlyphs">60</text>
<text x="642.6" y="272.6" font-size="11.0" textLength="10" lengthAdjust="spacingAndGlyphs">90</text>
</g>
<g stroke="#111" stroke-width="0.25">
<text x="517.4" y="512.8" text-anchor="middle" font-size="11.2" textLength="74.2" lengthAdjust="spacingAndGlyphs">Frequency (Hz)</text>
<text transform="translate(355.6 371.8) rotate(-90)" text-anchor="middle" font-size="11.5" textLength="76.0" lengthAdjust="spacingAndGlyphs">| Z | (ohm.cm<tspan font-size="7.5" dy="-4.8">2</tspan><tspan dy="4.8">)</tspan></text>
<text transform="translate(657.6 372.5) rotate(90)" text-anchor="middle" font-size="11.2" textLength="82.7" lengthAdjust="spacingAndGlyphs">- Phase angle (<tspan font-size="6.2" dy="-4.5">o</tspan><tspan dy="4.5">)</tspan></text>
<text x="635" y="290.6" text-anchor="end" font-size="21.3">(d)</text>
</g>
<text x="446.1" y="398.3" font-size="9.9" fill="#3ee8f2" stroke="#3ee8f2" stroke-width="0.3">Blank</text>
<text x="446.1" y="411.8" font-size="9.9" fill="#f0843a" stroke="#f0843a" stroke-width="0.3" textLength="53.9" lengthAdjust="spacingAndGlyphs">GLU 1 wt.%</text>
<text x="446.1" y="425.2" font-size="9.9" fill="#22e022" stroke="#22e022" stroke-width="0.3" textLength="53.9" lengthAdjust="spacingAndGlyphs">GLU 2 wt.%</text>
<text x="446.1" y="438.7" font-size="9.9" fill="#7a227e" stroke="#7a227e" stroke-width="0.3" textLength="53.9" lengthAdjust="spacingAndGlyphs">GLU 3 wt.%</text>
<text x="446.1" y="452.1" font-size="9.9" fill="#ee2aee" stroke="#ee2aee" stroke-width="0.3" textLength="53.9" lengthAdjust="spacingAndGlyphs">GLU 4 wt.%</text>
<text x="446.1" y="465.6" font-size="9.9" fill="#1a1ad8" stroke="#1a1ad8" stroke-width="0.3" textLength="53.9" lengthAdjust="spacingAndGlyphs">GLU 5 wt.%</text>
</svg>
</body></html>
